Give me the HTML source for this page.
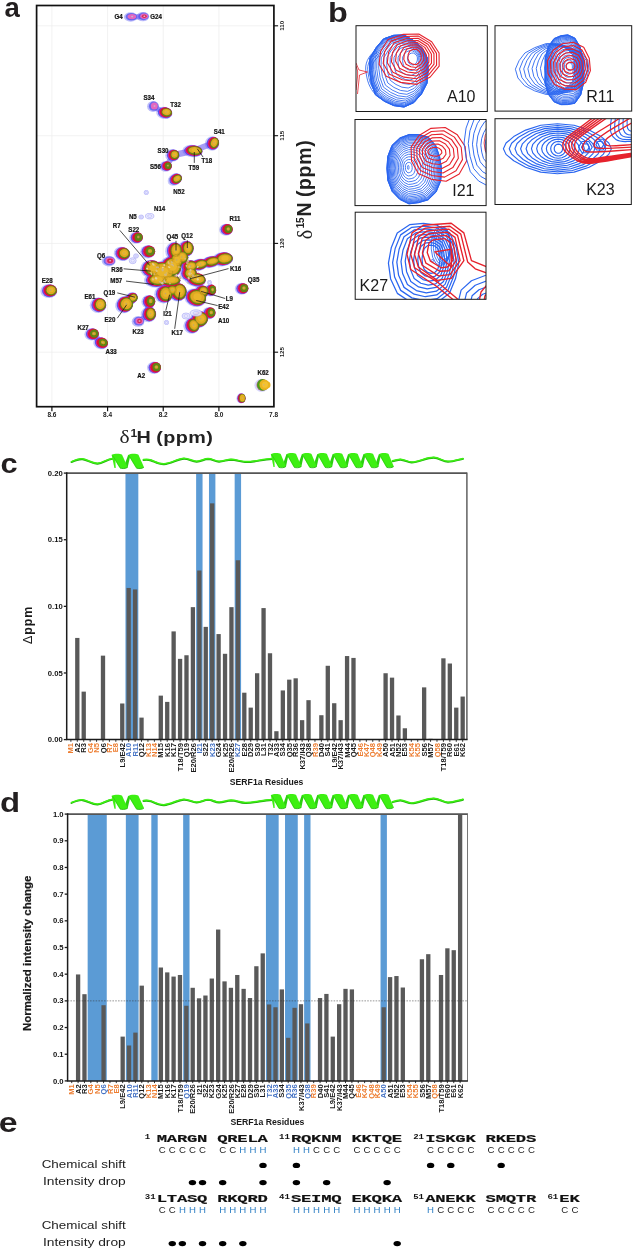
<!DOCTYPE html>
<html><head><meta charset="utf-8"><title>Figure</title>
<style>html,body{margin:0;padding:0;background:#fff}svg{display:block}</style>
</head><body>
<svg width="633" height="1249" viewBox="0 0 633 1249">
<defs><filter id="noLCD" x="0" y="0" width="100%" height="100%" filterUnits="userSpaceOnUse" color-interpolation-filters="sRGB"><feOffset dx="0" dy="0"/></filter></defs>
<g filter="url(#noLCD)">
<rect width="633" height="1249" fill="#ffffff"/>
<path d="M71.5 461.6 C75 460 79 458.5 82.5 458.8 C88 459.5 92 463.5 97.6 463.2 C103 463 107 458.6 112.5 458.4" fill="none" stroke="#1eb00a" stroke-width="1.9" stroke-linecap="round" transform="translate(0,0.5)"/>
<path d="M71.5 461.6 C75 460 79 458.5 82.5 458.8 C88 459.5 92 463.5 97.6 463.2 C103 463 107 458.6 112.5 458.4" fill="none" stroke="#3df012" stroke-width="1.5" stroke-linecap="round" transform="translate(0,0)"/>
<path d="M143.5 459.6 C147 459 149 459.4 151 460 C155 461.5 159 464 164 463.8 C171 463.4 178 458.4 184 458.3 C189 458.3 192 461 196.5 461.2 C201 461.4 204 458.6 208 458.5 C212 458.5 215 461 219 461.2 C223 461.3 227 459.3 231 459.2 C236 459.2 240 461.4 245 461.6 C254 461.9 262 459 272 458.6" fill="none" stroke="#1eb00a" stroke-width="1.9" stroke-linecap="round" transform="translate(0,0.5)"/>
<path d="M143.5 459.6 C147 459 149 459.4 151 460 C155 461.5 159 464 164 463.8 C171 463.4 178 458.4 184 458.3 C189 458.3 192 461 196.5 461.2 C201 461.4 204 458.6 208 458.5 C212 458.5 215 461 219 461.2 C223 461.3 227 459.3 231 459.2 C236 459.2 240 461.4 245 461.6 C254 461.9 262 459 272 458.6" fill="none" stroke="#3df012" stroke-width="1.5" stroke-linecap="round" transform="translate(0,0)"/>
<path d="M392.6 460.8 C395 460 398 459.1 400.5 459.2 C405 459.4 407.5 462 411.6 462 C419 462 426 457.3 433.7 457.3 C439 457.3 443 461.3 448 461.3 C453 461.3 458 459.5 463 458.4" fill="none" stroke="#1eb00a" stroke-width="1.9" stroke-linecap="round" transform="translate(0,0.5)"/>
<path d="M392.6 460.8 C395 460 398 459.1 400.5 459.2 C405 459.4 407.5 462 411.6 462 C419 462 426 457.3 433.7 457.3 C439 457.3 443 461.3 448 461.3 C453 461.3 458 459.5 463 458.4" fill="none" stroke="#3df012" stroke-width="1.5" stroke-linecap="round" transform="translate(0,0)"/>
<path d="M111.6 454.8 L115.07 454.6 L115.72 467.9 L114.42 467.9 Z" fill="#3df012"/>
<path d="M123.57 467.6 L127.65 467.6 L130.43 455 L128.15 455 Z" fill="#2bd010"/>
<path d="M111.8 455 C114.25 453.5 119.97 453.5 122.1 454.8 L127.65 467.2 C125.69 468.7 121.61 468.7 119.48 467.8 Z" fill="#3df012"/>
<path d="M119.97 468.1 C121.93 468.8 125.69 468.8 127.49 467.4" stroke="#1eb00a" stroke-width="0.8" fill="none"/>
<path d="M112.62 455.4 L119.97 467.4" stroke="#1eb00a" stroke-width="0.7" fill="none" opacity="0.55"/>
<path d="M128.15 455 C130.6 453.5 136.32 453.5 138.44 454.8 L144 467.2 C142.04 468.7 137.95 468.7 135.83 467.8 Z" fill="#3df012"/>
<path d="M136.32 468.1 C138.28 468.8 142.04 468.8 143.84 467.4" stroke="#1eb00a" stroke-width="0.8" fill="none"/>
<path d="M128.96 455.4 L136.32 467.4" stroke="#1eb00a" stroke-width="0.7" fill="none" opacity="0.55"/>
<path d="M270.8 454 L274.08 453.8 L274.7 467.1 L273.47 467.1 Z" fill="#3df012"/>
<path d="M282.09 466.8 L285.95 466.8 L288.56 454.2 L286.41 454.2 Z" fill="#2bd010"/>
<path d="M297.5 466.8 L301.35 466.8 L303.97 454.2 L301.82 454.2 Z" fill="#2bd010"/>
<path d="M312.91 466.8 L316.76 466.8 L319.38 454.2 L317.22 454.2 Z" fill="#2bd010"/>
<path d="M328.32 466.8 L332.17 466.8 L334.79 454.2 L332.63 454.2 Z" fill="#2bd010"/>
<path d="M343.72 466.8 L347.58 466.8 L350.2 454.2 L348.04 454.2 Z" fill="#2bd010"/>
<path d="M359.13 466.8 L362.98 466.8 L365.6 454.2 L363.45 454.2 Z" fill="#2bd010"/>
<path d="M374.54 466.8 L378.39 466.8 L381.01 454.2 L378.85 454.2 Z" fill="#2bd010"/>
<path d="M271 454.2 C273.31 452.7 278.7 452.7 280.71 454 L285.95 466.4 C284.1 467.9 280.24 467.9 278.24 467 Z" fill="#3df012"/>
<path d="M278.7 467.3 C280.55 468 284.1 468 285.79 466.6" stroke="#1eb00a" stroke-width="0.8" fill="none"/>
<path d="M271.77 454.6 L278.7 466.6" stroke="#1eb00a" stroke-width="0.7" fill="none" opacity="0.55"/>
<path d="M286.41 454.2 C288.72 452.7 294.11 452.7 296.11 454 L301.35 466.4 C299.5 467.9 295.65 467.9 293.65 467 Z" fill="#3df012"/>
<path d="M294.11 467.3 C295.96 468 299.5 468 301.2 466.6" stroke="#1eb00a" stroke-width="0.8" fill="none"/>
<path d="M287.18 454.6 L294.11 466.6" stroke="#1eb00a" stroke-width="0.7" fill="none" opacity="0.55"/>
<path d="M301.82 454.2 C304.13 452.7 309.52 452.7 311.52 454 L316.76 466.4 C314.91 467.9 311.06 467.9 309.06 467 Z" fill="#3df012"/>
<path d="M309.52 467.3 C311.37 468 314.91 468 316.61 466.6" stroke="#1eb00a" stroke-width="0.8" fill="none"/>
<path d="M302.59 454.6 L309.52 466.6" stroke="#1eb00a" stroke-width="0.7" fill="none" opacity="0.55"/>
<path d="M317.22 454.2 C319.53 452.7 324.93 452.7 326.93 454 L332.17 466.4 C330.32 467.9 326.47 467.9 324.46 467 Z" fill="#3df012"/>
<path d="M324.93 467.3 C326.78 468 330.32 468 332.01 466.6" stroke="#1eb00a" stroke-width="0.8" fill="none"/>
<path d="M317.99 454.6 L324.93 466.6" stroke="#1eb00a" stroke-width="0.7" fill="none" opacity="0.55"/>
<path d="M332.63 454.2 C334.94 452.7 340.34 452.7 342.34 454 L347.58 466.4 C345.73 467.9 341.88 467.9 339.87 467 Z" fill="#3df012"/>
<path d="M340.34 467.3 C342.18 468 345.73 468 347.42 466.6" stroke="#1eb00a" stroke-width="0.8" fill="none"/>
<path d="M333.4 454.6 L340.34 466.6" stroke="#1eb00a" stroke-width="0.7" fill="none" opacity="0.55"/>
<path d="M348.04 454.2 C350.35 452.7 355.74 452.7 357.75 454 L362.98 466.4 C361.14 467.9 357.28 467.9 355.28 467 Z" fill="#3df012"/>
<path d="M355.74 467.3 C357.59 468 361.14 468 362.83 466.6" stroke="#1eb00a" stroke-width="0.8" fill="none"/>
<path d="M348.81 454.6 L355.74 466.6" stroke="#1eb00a" stroke-width="0.7" fill="none" opacity="0.55"/>
<path d="M363.45 454.2 C365.76 452.7 371.15 452.7 373.15 454 L378.39 466.4 C376.54 467.9 372.69 467.9 370.69 467 Z" fill="#3df012"/>
<path d="M371.15 467.3 C373 468 376.54 468 378.24 466.6" stroke="#1eb00a" stroke-width="0.8" fill="none"/>
<path d="M364.22 454.6 L371.15 466.6" stroke="#1eb00a" stroke-width="0.7" fill="none" opacity="0.55"/>
<path d="M378.85 454.2 C381.17 452.7 386.56 452.7 388.56 454 L393.8 466.4 C391.95 467.9 388.1 467.9 386.1 467 Z" fill="#3df012"/>
<path d="M386.56 467.3 C388.41 468 391.95 468 393.65 466.6" stroke="#1eb00a" stroke-width="0.8" fill="none"/>
<path d="M379.62 454.6 L386.56 466.6" stroke="#1eb00a" stroke-width="0.7" fill="none" opacity="0.55"/>
<rect x="125.47" y="473.1" width="12.85" height="266.5" fill="#5B9BD5"/>
<rect x="196.13" y="473.1" width="6.42" height="266.5" fill="#5B9BD5"/>
<rect x="208.97" y="473.1" width="6.42" height="266.5" fill="#5B9BD5"/>
<rect x="234.66" y="473.1" width="6.42" height="266.5" fill="#5B9BD5"/>
<rect x="75.15" y="637.93" width="4.3" height="101.67" fill="#595959"/>
<rect x="81.57" y="691.63" width="4.3" height="47.97" fill="#595959"/>
<rect x="100.84" y="655.65" width="4.3" height="83.95" fill="#595959"/>
<rect x="120.11" y="703.49" width="4.3" height="36.11" fill="#595959"/>
<rect x="126.53" y="587.96" width="4.3" height="151.64" fill="#595959"/>
<rect x="132.96" y="589.43" width="4.3" height="150.17" fill="#595959"/>
<rect x="139.38" y="717.61" width="4.3" height="21.99" fill="#595959"/>
<rect x="158.65" y="695.63" width="4.3" height="43.97" fill="#595959"/>
<rect x="165.07" y="701.89" width="4.3" height="37.71" fill="#595959"/>
<rect x="171.49" y="631.4" width="4.3" height="108.2" fill="#595959"/>
<rect x="177.92" y="658.85" width="4.3" height="80.75" fill="#595959"/>
<rect x="184.34" y="655.25" width="4.3" height="84.35" fill="#595959"/>
<rect x="190.76" y="607.15" width="4.3" height="132.45" fill="#595959"/>
<rect x="197.19" y="570.51" width="4.3" height="169.09" fill="#595959"/>
<rect x="203.61" y="626.87" width="4.3" height="112.73" fill="#595959"/>
<rect x="210.03" y="503.35" width="4.3" height="236.25" fill="#595959"/>
<rect x="216.46" y="634.07" width="4.3" height="105.53" fill="#595959"/>
<rect x="222.88" y="653.79" width="4.3" height="85.81" fill="#595959"/>
<rect x="229.3" y="607.15" width="4.3" height="132.45" fill="#595959"/>
<rect x="235.72" y="560.25" width="4.3" height="179.35" fill="#595959"/>
<rect x="242.15" y="692.7" width="4.3" height="46.9" fill="#595959"/>
<rect x="248.57" y="707.62" width="4.3" height="31.98" fill="#595959"/>
<rect x="254.99" y="673.24" width="4.3" height="66.36" fill="#595959"/>
<rect x="261.42" y="608.08" width="4.3" height="131.52" fill="#595959"/>
<rect x="267.84" y="653.25" width="4.3" height="86.35" fill="#595959"/>
<rect x="274.26" y="731.21" width="4.3" height="8.39" fill="#595959"/>
<rect x="280.69" y="690.43" width="4.3" height="49.17" fill="#595959"/>
<rect x="287.11" y="679.64" width="4.3" height="59.96" fill="#595959"/>
<rect x="293.53" y="678.31" width="4.3" height="61.29" fill="#595959"/>
<rect x="299.96" y="720.15" width="4.3" height="19.45" fill="#595959"/>
<rect x="306.38" y="700.16" width="4.3" height="39.44" fill="#595959"/>
<rect x="319.22" y="715.22" width="4.3" height="24.38" fill="#595959"/>
<rect x="325.65" y="665.78" width="4.3" height="73.82" fill="#595959"/>
<rect x="332.07" y="703.22" width="4.3" height="36.38" fill="#595959"/>
<rect x="338.49" y="720.15" width="4.3" height="19.45" fill="#595959"/>
<rect x="344.92" y="656.05" width="4.3" height="83.55" fill="#595959"/>
<rect x="351.34" y="657.92" width="4.3" height="81.68" fill="#595959"/>
<rect x="383.45" y="673.24" width="4.3" height="66.36" fill="#595959"/>
<rect x="389.88" y="677.64" width="4.3" height="61.96" fill="#595959"/>
<rect x="396.3" y="715.48" width="4.3" height="24.12" fill="#595959"/>
<rect x="402.72" y="728.27" width="4.3" height="11.33" fill="#595959"/>
<rect x="421.99" y="687.37" width="4.3" height="52.23" fill="#595959"/>
<rect x="428.42" y="738.8" width="4.3" height="0.8" fill="#595959"/>
<rect x="441.26" y="658.32" width="4.3" height="81.28" fill="#595959"/>
<rect x="447.68" y="663.51" width="4.3" height="76.09" fill="#595959"/>
<rect x="454.11" y="707.62" width="4.3" height="31.98" fill="#595959"/>
<rect x="460.53" y="696.56" width="4.3" height="43.04" fill="#595959"/>
<line x1="66.7" y1="473.1" x2="466.9" y2="473.1" stroke="#555" stroke-width="1.6"/>
<line x1="66.7" y1="472.3" x2="66.7" y2="739.6" stroke="#1c1c1c" stroke-width="1.5"/>
<line x1="466.9" y1="472.4" x2="466.9" y2="739.6" stroke="#555" stroke-width="1.4"/>
<line x1="65.95" y1="739.6" x2="467.6" y2="739.6" stroke="#1c1c1c" stroke-width="1.5"/>
<line x1="70.88" y1="739.6" x2="70.88" y2="741.8" stroke="#1c1c1c" stroke-width="0.9"/>
<line x1="77.3" y1="739.6" x2="77.3" y2="741.8" stroke="#1c1c1c" stroke-width="0.9"/>
<line x1="83.72" y1="739.6" x2="83.72" y2="741.8" stroke="#1c1c1c" stroke-width="0.9"/>
<line x1="90.15" y1="739.6" x2="90.15" y2="741.8" stroke="#1c1c1c" stroke-width="0.9"/>
<line x1="96.57" y1="739.6" x2="96.57" y2="741.8" stroke="#1c1c1c" stroke-width="0.9"/>
<line x1="102.99" y1="739.6" x2="102.99" y2="741.8" stroke="#1c1c1c" stroke-width="0.9"/>
<line x1="109.41" y1="739.6" x2="109.41" y2="741.8" stroke="#1c1c1c" stroke-width="0.9"/>
<line x1="115.84" y1="739.6" x2="115.84" y2="741.8" stroke="#1c1c1c" stroke-width="0.9"/>
<line x1="122.26" y1="739.6" x2="122.26" y2="741.8" stroke="#1c1c1c" stroke-width="0.9"/>
<line x1="128.68" y1="739.6" x2="128.68" y2="741.8" stroke="#1c1c1c" stroke-width="0.9"/>
<line x1="135.11" y1="739.6" x2="135.11" y2="741.8" stroke="#1c1c1c" stroke-width="0.9"/>
<line x1="141.53" y1="739.6" x2="141.53" y2="741.8" stroke="#1c1c1c" stroke-width="0.9"/>
<line x1="147.95" y1="739.6" x2="147.95" y2="741.8" stroke="#1c1c1c" stroke-width="0.9"/>
<line x1="154.38" y1="739.6" x2="154.38" y2="741.8" stroke="#1c1c1c" stroke-width="0.9"/>
<line x1="160.8" y1="739.6" x2="160.8" y2="741.8" stroke="#1c1c1c" stroke-width="0.9"/>
<line x1="167.22" y1="739.6" x2="167.22" y2="741.8" stroke="#1c1c1c" stroke-width="0.9"/>
<line x1="173.64" y1="739.6" x2="173.64" y2="741.8" stroke="#1c1c1c" stroke-width="0.9"/>
<line x1="180.07" y1="739.6" x2="180.07" y2="741.8" stroke="#1c1c1c" stroke-width="0.9"/>
<line x1="186.49" y1="739.6" x2="186.49" y2="741.8" stroke="#1c1c1c" stroke-width="0.9"/>
<line x1="192.91" y1="739.6" x2="192.91" y2="741.8" stroke="#1c1c1c" stroke-width="0.9"/>
<line x1="199.34" y1="739.6" x2="199.34" y2="741.8" stroke="#1c1c1c" stroke-width="0.9"/>
<line x1="205.76" y1="739.6" x2="205.76" y2="741.8" stroke="#1c1c1c" stroke-width="0.9"/>
<line x1="212.18" y1="739.6" x2="212.18" y2="741.8" stroke="#1c1c1c" stroke-width="0.9"/>
<line x1="218.61" y1="739.6" x2="218.61" y2="741.8" stroke="#1c1c1c" stroke-width="0.9"/>
<line x1="225.03" y1="739.6" x2="225.03" y2="741.8" stroke="#1c1c1c" stroke-width="0.9"/>
<line x1="231.45" y1="739.6" x2="231.45" y2="741.8" stroke="#1c1c1c" stroke-width="0.9"/>
<line x1="237.88" y1="739.6" x2="237.88" y2="741.8" stroke="#1c1c1c" stroke-width="0.9"/>
<line x1="244.3" y1="739.6" x2="244.3" y2="741.8" stroke="#1c1c1c" stroke-width="0.9"/>
<line x1="250.72" y1="739.6" x2="250.72" y2="741.8" stroke="#1c1c1c" stroke-width="0.9"/>
<line x1="257.14" y1="739.6" x2="257.14" y2="741.8" stroke="#1c1c1c" stroke-width="0.9"/>
<line x1="263.57" y1="739.6" x2="263.57" y2="741.8" stroke="#1c1c1c" stroke-width="0.9"/>
<line x1="269.99" y1="739.6" x2="269.99" y2="741.8" stroke="#1c1c1c" stroke-width="0.9"/>
<line x1="276.41" y1="739.6" x2="276.41" y2="741.8" stroke="#1c1c1c" stroke-width="0.9"/>
<line x1="282.84" y1="739.6" x2="282.84" y2="741.8" stroke="#1c1c1c" stroke-width="0.9"/>
<line x1="289.26" y1="739.6" x2="289.26" y2="741.8" stroke="#1c1c1c" stroke-width="0.9"/>
<line x1="295.68" y1="739.6" x2="295.68" y2="741.8" stroke="#1c1c1c" stroke-width="0.9"/>
<line x1="302.11" y1="739.6" x2="302.11" y2="741.8" stroke="#1c1c1c" stroke-width="0.9"/>
<line x1="308.53" y1="739.6" x2="308.53" y2="741.8" stroke="#1c1c1c" stroke-width="0.9"/>
<line x1="314.95" y1="739.6" x2="314.95" y2="741.8" stroke="#1c1c1c" stroke-width="0.9"/>
<line x1="321.37" y1="739.6" x2="321.37" y2="741.8" stroke="#1c1c1c" stroke-width="0.9"/>
<line x1="327.8" y1="739.6" x2="327.8" y2="741.8" stroke="#1c1c1c" stroke-width="0.9"/>
<line x1="334.22" y1="739.6" x2="334.22" y2="741.8" stroke="#1c1c1c" stroke-width="0.9"/>
<line x1="340.64" y1="739.6" x2="340.64" y2="741.8" stroke="#1c1c1c" stroke-width="0.9"/>
<line x1="347.07" y1="739.6" x2="347.07" y2="741.8" stroke="#1c1c1c" stroke-width="0.9"/>
<line x1="353.49" y1="739.6" x2="353.49" y2="741.8" stroke="#1c1c1c" stroke-width="0.9"/>
<line x1="359.91" y1="739.6" x2="359.91" y2="741.8" stroke="#1c1c1c" stroke-width="0.9"/>
<line x1="366.34" y1="739.6" x2="366.34" y2="741.8" stroke="#1c1c1c" stroke-width="0.9"/>
<line x1="372.76" y1="739.6" x2="372.76" y2="741.8" stroke="#1c1c1c" stroke-width="0.9"/>
<line x1="379.18" y1="739.6" x2="379.18" y2="741.8" stroke="#1c1c1c" stroke-width="0.9"/>
<line x1="385.6" y1="739.6" x2="385.6" y2="741.8" stroke="#1c1c1c" stroke-width="0.9"/>
<line x1="392.03" y1="739.6" x2="392.03" y2="741.8" stroke="#1c1c1c" stroke-width="0.9"/>
<line x1="398.45" y1="739.6" x2="398.45" y2="741.8" stroke="#1c1c1c" stroke-width="0.9"/>
<line x1="404.87" y1="739.6" x2="404.87" y2="741.8" stroke="#1c1c1c" stroke-width="0.9"/>
<line x1="411.3" y1="739.6" x2="411.3" y2="741.8" stroke="#1c1c1c" stroke-width="0.9"/>
<line x1="417.72" y1="739.6" x2="417.72" y2="741.8" stroke="#1c1c1c" stroke-width="0.9"/>
<line x1="424.14" y1="739.6" x2="424.14" y2="741.8" stroke="#1c1c1c" stroke-width="0.9"/>
<line x1="430.56" y1="739.6" x2="430.56" y2="741.8" stroke="#1c1c1c" stroke-width="0.9"/>
<line x1="436.99" y1="739.6" x2="436.99" y2="741.8" stroke="#1c1c1c" stroke-width="0.9"/>
<line x1="443.41" y1="739.6" x2="443.41" y2="741.8" stroke="#1c1c1c" stroke-width="0.9"/>
<line x1="449.83" y1="739.6" x2="449.83" y2="741.8" stroke="#1c1c1c" stroke-width="0.9"/>
<line x1="456.26" y1="739.6" x2="456.26" y2="741.8" stroke="#1c1c1c" stroke-width="0.9"/>
<line x1="462.68" y1="739.6" x2="462.68" y2="741.8" stroke="#1c1c1c" stroke-width="0.9"/>
<line x1="63.8" y1="739.6" x2="66.7" y2="739.6" stroke="#1c1c1c" stroke-width="1.3"/>
<text x="62.7" y="742.2" text-anchor="end" font-family="Liberation Sans, sans-serif" font-weight="bold" font-size="7.7" fill="#111">0.00</text>
<line x1="63.8" y1="672.98" x2="66.7" y2="672.98" stroke="#1c1c1c" stroke-width="1.3"/>
<text x="62.7" y="675.58" text-anchor="end" font-family="Liberation Sans, sans-serif" font-weight="bold" font-size="7.7" fill="#111">0.05</text>
<line x1="63.8" y1="606.35" x2="66.7" y2="606.35" stroke="#1c1c1c" stroke-width="1.3"/>
<text x="62.7" y="608.95" text-anchor="end" font-family="Liberation Sans, sans-serif" font-weight="bold" font-size="7.7" fill="#111">0.10</text>
<line x1="63.8" y1="539.73" x2="66.7" y2="539.73" stroke="#1c1c1c" stroke-width="1.3"/>
<text x="62.7" y="542.33" text-anchor="end" font-family="Liberation Sans, sans-serif" font-weight="bold" font-size="7.7" fill="#111">0.15</text>
<line x1="63.8" y1="473.1" x2="66.7" y2="473.1" stroke="#1c1c1c" stroke-width="1.3"/>
<text x="62.7" y="475.7" text-anchor="end" font-family="Liberation Sans, sans-serif" font-weight="bold" font-size="7.7" fill="#111">0.20</text>
<text transform="translate(73.48,743) rotate(-90)" text-anchor="end" font-family="Liberation Sans, sans-serif" font-weight="bold" font-size="7.6" fill="#ED7D31">M1</text>
<text transform="translate(79.9,743) rotate(-90)" text-anchor="end" font-family="Liberation Sans, sans-serif" font-weight="bold" font-size="7.6" fill="#1a1a1a">A2</text>
<text transform="translate(86.32,743) rotate(-90)" text-anchor="end" font-family="Liberation Sans, sans-serif" font-weight="bold" font-size="7.6" fill="#1a1a1a">R3</text>
<text transform="translate(92.75,743) rotate(-90)" text-anchor="end" font-family="Liberation Sans, sans-serif" font-weight="bold" font-size="7.6" fill="#ED7D31">G4</text>
<text transform="translate(99.17,743) rotate(-90)" text-anchor="end" font-family="Liberation Sans, sans-serif" font-weight="bold" font-size="7.6" fill="#ED7D31">N5</text>
<text transform="translate(105.59,743) rotate(-90)" text-anchor="end" font-family="Liberation Sans, sans-serif" font-weight="bold" font-size="7.6" fill="#1a1a1a">Q6</text>
<text transform="translate(112.01,743) rotate(-90)" text-anchor="end" font-family="Liberation Sans, sans-serif" font-weight="bold" font-size="7.6" fill="#ED7D31">R7</text>
<text transform="translate(118.44,743) rotate(-90)" text-anchor="end" font-family="Liberation Sans, sans-serif" font-weight="bold" font-size="7.6" fill="#ED7D31">E8</text>
<text transform="translate(124.86,743) rotate(-90)" text-anchor="end" font-family="Liberation Sans, sans-serif" font-weight="bold" font-size="7.6" fill="#1a1a1a">L9/E42</text>
<text transform="translate(131.28,743) rotate(-90)" text-anchor="end" font-family="Liberation Sans, sans-serif" font-weight="bold" font-size="7.6" fill="#4472C4">A10</text>
<text transform="translate(137.71,743) rotate(-90)" text-anchor="end" font-family="Liberation Sans, sans-serif" font-weight="bold" font-size="7.6" fill="#4472C4">R11</text>
<text transform="translate(144.13,743) rotate(-90)" text-anchor="end" font-family="Liberation Sans, sans-serif" font-weight="bold" font-size="7.6" fill="#1a1a1a">Q12</text>
<text transform="translate(150.55,743) rotate(-90)" text-anchor="end" font-family="Liberation Sans, sans-serif" font-weight="bold" font-size="7.6" fill="#ED7D31">K13</text>
<text transform="translate(156.98,743) rotate(-90)" text-anchor="end" font-family="Liberation Sans, sans-serif" font-weight="bold" font-size="7.6" fill="#ED7D31">N14</text>
<text transform="translate(163.4,743) rotate(-90)" text-anchor="end" font-family="Liberation Sans, sans-serif" font-weight="bold" font-size="7.6" fill="#1a1a1a">M15</text>
<text transform="translate(169.82,743) rotate(-90)" text-anchor="end" font-family="Liberation Sans, sans-serif" font-weight="bold" font-size="7.6" fill="#1a1a1a">K16</text>
<text transform="translate(176.24,743) rotate(-90)" text-anchor="end" font-family="Liberation Sans, sans-serif" font-weight="bold" font-size="7.6" fill="#1a1a1a">K17</text>
<text transform="translate(182.67,743) rotate(-90)" text-anchor="end" font-family="Liberation Sans, sans-serif" font-weight="bold" font-size="7.6" fill="#1a1a1a">T18/T59</text>
<text transform="translate(189.09,743) rotate(-90)" text-anchor="end" font-family="Liberation Sans, sans-serif" font-weight="bold" font-size="7.6" fill="#1a1a1a">Q19</text>
<text transform="translate(195.51,743) rotate(-90)" text-anchor="end" font-family="Liberation Sans, sans-serif" font-weight="bold" font-size="7.6" fill="#1a1a1a">E20/R26</text>
<text transform="translate(201.94,743) rotate(-90)" text-anchor="end" font-family="Liberation Sans, sans-serif" font-weight="bold" font-size="7.6" fill="#4472C4">I21</text>
<text transform="translate(208.36,743) rotate(-90)" text-anchor="end" font-family="Liberation Sans, sans-serif" font-weight="bold" font-size="7.6" fill="#1a1a1a">S22</text>
<text transform="translate(214.78,743) rotate(-90)" text-anchor="end" font-family="Liberation Sans, sans-serif" font-weight="bold" font-size="7.6" fill="#4472C4">K23</text>
<text transform="translate(221.21,743) rotate(-90)" text-anchor="end" font-family="Liberation Sans, sans-serif" font-weight="bold" font-size="7.6" fill="#1a1a1a">G24</text>
<text transform="translate(227.63,743) rotate(-90)" text-anchor="end" font-family="Liberation Sans, sans-serif" font-weight="bold" font-size="7.6" fill="#1a1a1a">K25</text>
<text transform="translate(234.05,743) rotate(-90)" text-anchor="end" font-family="Liberation Sans, sans-serif" font-weight="bold" font-size="7.6" fill="#1a1a1a">E20/R26</text>
<text transform="translate(240.47,743) rotate(-90)" text-anchor="end" font-family="Liberation Sans, sans-serif" font-weight="bold" font-size="7.6" fill="#4472C4">K27</text>
<text transform="translate(246.9,743) rotate(-90)" text-anchor="end" font-family="Liberation Sans, sans-serif" font-weight="bold" font-size="7.6" fill="#1a1a1a">E28</text>
<text transform="translate(253.32,743) rotate(-90)" text-anchor="end" font-family="Liberation Sans, sans-serif" font-weight="bold" font-size="7.6" fill="#1a1a1a">D29</text>
<text transform="translate(259.74,743) rotate(-90)" text-anchor="end" font-family="Liberation Sans, sans-serif" font-weight="bold" font-size="7.6" fill="#1a1a1a">S30</text>
<text transform="translate(266.17,743) rotate(-90)" text-anchor="end" font-family="Liberation Sans, sans-serif" font-weight="bold" font-size="7.6" fill="#1a1a1a">L31</text>
<text transform="translate(272.59,743) rotate(-90)" text-anchor="end" font-family="Liberation Sans, sans-serif" font-weight="bold" font-size="7.6" fill="#1a1a1a">T32</text>
<text transform="translate(279.01,743) rotate(-90)" text-anchor="end" font-family="Liberation Sans, sans-serif" font-weight="bold" font-size="7.6" fill="#1a1a1a">A33</text>
<text transform="translate(285.44,743) rotate(-90)" text-anchor="end" font-family="Liberation Sans, sans-serif" font-weight="bold" font-size="7.6" fill="#1a1a1a">S34</text>
<text transform="translate(291.86,743) rotate(-90)" text-anchor="end" font-family="Liberation Sans, sans-serif" font-weight="bold" font-size="7.6" fill="#1a1a1a">Q35</text>
<text transform="translate(298.28,743) rotate(-90)" text-anchor="end" font-family="Liberation Sans, sans-serif" font-weight="bold" font-size="7.6" fill="#1a1a1a">R36</text>
<text transform="translate(304.71,743) rotate(-90)" text-anchor="end" font-family="Liberation Sans, sans-serif" font-weight="bold" font-size="7.6" fill="#1a1a1a">K37/I43</text>
<text transform="translate(311.13,743) rotate(-90)" text-anchor="end" font-family="Liberation Sans, sans-serif" font-weight="bold" font-size="7.6" fill="#1a1a1a">Q38</text>
<text transform="translate(317.55,743) rotate(-90)" text-anchor="end" font-family="Liberation Sans, sans-serif" font-weight="bold" font-size="7.6" fill="#ED7D31">R39</text>
<text transform="translate(323.97,743) rotate(-90)" text-anchor="end" font-family="Liberation Sans, sans-serif" font-weight="bold" font-size="7.6" fill="#1a1a1a">D40</text>
<text transform="translate(330.4,743) rotate(-90)" text-anchor="end" font-family="Liberation Sans, sans-serif" font-weight="bold" font-size="7.6" fill="#1a1a1a">S41</text>
<text transform="translate(336.82,743) rotate(-90)" text-anchor="end" font-family="Liberation Sans, sans-serif" font-weight="bold" font-size="7.6" fill="#1a1a1a">L9/E42</text>
<text transform="translate(343.24,743) rotate(-90)" text-anchor="end" font-family="Liberation Sans, sans-serif" font-weight="bold" font-size="7.6" fill="#1a1a1a">K37/I43</text>
<text transform="translate(349.67,743) rotate(-90)" text-anchor="end" font-family="Liberation Sans, sans-serif" font-weight="bold" font-size="7.6" fill="#1a1a1a">M44</text>
<text transform="translate(356.09,743) rotate(-90)" text-anchor="end" font-family="Liberation Sans, sans-serif" font-weight="bold" font-size="7.6" fill="#1a1a1a">Q45</text>
<text transform="translate(362.51,743) rotate(-90)" text-anchor="end" font-family="Liberation Sans, sans-serif" font-weight="bold" font-size="7.6" fill="#ED7D31">E46</text>
<text transform="translate(368.94,743) rotate(-90)" text-anchor="end" font-family="Liberation Sans, sans-serif" font-weight="bold" font-size="7.6" fill="#ED7D31">K47</text>
<text transform="translate(375.36,743) rotate(-90)" text-anchor="end" font-family="Liberation Sans, sans-serif" font-weight="bold" font-size="7.6" fill="#ED7D31">Q48</text>
<text transform="translate(381.78,743) rotate(-90)" text-anchor="end" font-family="Liberation Sans, sans-serif" font-weight="bold" font-size="7.6" fill="#ED7D31">K49</text>
<text transform="translate(388.2,743) rotate(-90)" text-anchor="end" font-family="Liberation Sans, sans-serif" font-weight="bold" font-size="7.6" fill="#1a1a1a">A50</text>
<text transform="translate(394.63,743) rotate(-90)" text-anchor="end" font-family="Liberation Sans, sans-serif" font-weight="bold" font-size="7.6" fill="#1a1a1a">A51</text>
<text transform="translate(401.05,743) rotate(-90)" text-anchor="end" font-family="Liberation Sans, sans-serif" font-weight="bold" font-size="7.6" fill="#1a1a1a">N52</text>
<text transform="translate(407.47,743) rotate(-90)" text-anchor="end" font-family="Liberation Sans, sans-serif" font-weight="bold" font-size="7.6" fill="#1a1a1a">E53</text>
<text transform="translate(413.9,743) rotate(-90)" text-anchor="end" font-family="Liberation Sans, sans-serif" font-weight="bold" font-size="7.6" fill="#ED7D31">K54</text>
<text transform="translate(420.32,743) rotate(-90)" text-anchor="end" font-family="Liberation Sans, sans-serif" font-weight="bold" font-size="7.6" fill="#ED7D31">K55</text>
<text transform="translate(426.74,743) rotate(-90)" text-anchor="end" font-family="Liberation Sans, sans-serif" font-weight="bold" font-size="7.6" fill="#1a1a1a">S56</text>
<text transform="translate(433.17,743) rotate(-90)" text-anchor="end" font-family="Liberation Sans, sans-serif" font-weight="bold" font-size="7.6" fill="#1a1a1a">M57</text>
<text transform="translate(439.59,743) rotate(-90)" text-anchor="end" font-family="Liberation Sans, sans-serif" font-weight="bold" font-size="7.6" fill="#ED7D31">Q58</text>
<text transform="translate(446.01,743) rotate(-90)" text-anchor="end" font-family="Liberation Sans, sans-serif" font-weight="bold" font-size="7.6" fill="#1a1a1a">T18/T59</text>
<text transform="translate(452.43,743) rotate(-90)" text-anchor="end" font-family="Liberation Sans, sans-serif" font-weight="bold" font-size="7.6" fill="#1a1a1a">R60</text>
<text transform="translate(458.86,743) rotate(-90)" text-anchor="end" font-family="Liberation Sans, sans-serif" font-weight="bold" font-size="7.6" fill="#1a1a1a">E61</text>
<text transform="translate(465.28,743) rotate(-90)" text-anchor="end" font-family="Liberation Sans, sans-serif" font-weight="bold" font-size="7.6" fill="#1a1a1a">K62</text>
<text transform="translate(32.1,643.9) rotate(-90)" font-family="Liberation Sans, sans-serif" font-size="12.5" fill="#1a1a1a" letter-spacing="0.8"><tspan font-weight="normal">Δ</tspan><tspan font-weight="bold">ppm</tspan></text>
<text x="229.8" y="784.7" font-family="Liberation Sans, sans-serif" font-weight="bold" font-size="8.4" fill="#1a1a1a" textLength="73.6" lengthAdjust="spacingAndGlyphs">SERF1a Residues</text>
<path d="M71.5 461.6 C75 460 79 458.5 82.5 458.8 C88 459.5 92 463.5 97.6 463.2 C103 463 107 458.6 112.5 458.4" fill="none" stroke="#1eb00a" stroke-width="1.9" stroke-linecap="round" transform="translate(0,341.4)"/>
<path d="M71.5 461.6 C75 460 79 458.5 82.5 458.8 C88 459.5 92 463.5 97.6 463.2 C103 463 107 458.6 112.5 458.4" fill="none" stroke="#3df012" stroke-width="1.5" stroke-linecap="round" transform="translate(0,340.9)"/>
<path d="M143.5 459.6 C147 459 149 459.4 151 460 C155 461.5 159 464 164 463.8 C171 463.4 178 458.4 184 458.3 C189 458.3 192 461 196.5 461.2 C201 461.4 204 458.6 208 458.5 C212 458.5 215 461 219 461.2 C223 461.3 227 459.3 231 459.2 C236 459.2 240 461.4 245 461.6 C254 461.9 262 459 272 458.6" fill="none" stroke="#1eb00a" stroke-width="1.9" stroke-linecap="round" transform="translate(0,341.4)"/>
<path d="M143.5 459.6 C147 459 149 459.4 151 460 C155 461.5 159 464 164 463.8 C171 463.4 178 458.4 184 458.3 C189 458.3 192 461 196.5 461.2 C201 461.4 204 458.6 208 458.5 C212 458.5 215 461 219 461.2 C223 461.3 227 459.3 231 459.2 C236 459.2 240 461.4 245 461.6 C254 461.9 262 459 272 458.6" fill="none" stroke="#3df012" stroke-width="1.5" stroke-linecap="round" transform="translate(0,340.9)"/>
<path d="M392.6 460.8 C395 460 398 459.1 400.5 459.2 C405 459.4 407.5 462 411.6 462 C419 462 426 457.3 433.7 457.3 C439 457.3 443 461.3 448 461.3 C453 461.3 458 459.5 463 458.4" fill="none" stroke="#1eb00a" stroke-width="1.9" stroke-linecap="round" transform="translate(0,341.4)"/>
<path d="M392.6 460.8 C395 460 398 459.1 400.5 459.2 C405 459.4 407.5 462 411.6 462 C419 462 426 457.3 433.7 457.3 C439 457.3 443 461.3 448 461.3 C453 461.3 458 459.5 463 458.4" fill="none" stroke="#3df012" stroke-width="1.5" stroke-linecap="round" transform="translate(0,340.9)"/>
<path d="M111.6 795.7 L115.07 795.5 L115.72 808.8 L114.42 808.8 Z" fill="#3df012"/>
<path d="M123.57 808.5 L127.65 808.5 L130.43 795.9 L128.15 795.9 Z" fill="#2bd010"/>
<path d="M111.8 795.9 C114.25 794.4 119.97 794.4 122.1 795.7 L127.65 808.1 C125.69 809.6 121.61 809.6 119.48 808.7 Z" fill="#3df012"/>
<path d="M119.97 809 C121.93 809.7 125.69 809.7 127.49 808.3" stroke="#1eb00a" stroke-width="0.8" fill="none"/>
<path d="M112.62 796.3 L119.97 808.3" stroke="#1eb00a" stroke-width="0.7" fill="none" opacity="0.55"/>
<path d="M128.15 795.9 C130.6 794.4 136.32 794.4 138.44 795.7 L144 808.1 C142.04 809.6 137.95 809.6 135.83 808.7 Z" fill="#3df012"/>
<path d="M136.32 809 C138.28 809.7 142.04 809.7 143.84 808.3" stroke="#1eb00a" stroke-width="0.8" fill="none"/>
<path d="M128.96 796.3 L136.32 808.3" stroke="#1eb00a" stroke-width="0.7" fill="none" opacity="0.55"/>
<path d="M270.8 794.9 L274.08 794.7 L274.7 808 L273.47 808 Z" fill="#3df012"/>
<path d="M282.09 807.7 L285.95 807.7 L288.56 795.1 L286.41 795.1 Z" fill="#2bd010"/>
<path d="M297.5 807.7 L301.35 807.7 L303.97 795.1 L301.82 795.1 Z" fill="#2bd010"/>
<path d="M312.91 807.7 L316.76 807.7 L319.38 795.1 L317.22 795.1 Z" fill="#2bd010"/>
<path d="M328.32 807.7 L332.17 807.7 L334.79 795.1 L332.63 795.1 Z" fill="#2bd010"/>
<path d="M343.72 807.7 L347.58 807.7 L350.2 795.1 L348.04 795.1 Z" fill="#2bd010"/>
<path d="M359.13 807.7 L362.98 807.7 L365.6 795.1 L363.45 795.1 Z" fill="#2bd010"/>
<path d="M374.54 807.7 L378.39 807.7 L381.01 795.1 L378.85 795.1 Z" fill="#2bd010"/>
<path d="M271 795.1 C273.31 793.6 278.7 793.6 280.71 794.9 L285.95 807.3 C284.1 808.8 280.24 808.8 278.24 807.9 Z" fill="#3df012"/>
<path d="M278.7 808.2 C280.55 808.9 284.1 808.9 285.79 807.5" stroke="#1eb00a" stroke-width="0.8" fill="none"/>
<path d="M271.77 795.5 L278.7 807.5" stroke="#1eb00a" stroke-width="0.7" fill="none" opacity="0.55"/>
<path d="M286.41 795.1 C288.72 793.6 294.11 793.6 296.11 794.9 L301.35 807.3 C299.5 808.8 295.65 808.8 293.65 807.9 Z" fill="#3df012"/>
<path d="M294.11 808.2 C295.96 808.9 299.5 808.9 301.2 807.5" stroke="#1eb00a" stroke-width="0.8" fill="none"/>
<path d="M287.18 795.5 L294.11 807.5" stroke="#1eb00a" stroke-width="0.7" fill="none" opacity="0.55"/>
<path d="M301.82 795.1 C304.13 793.6 309.52 793.6 311.52 794.9 L316.76 807.3 C314.91 808.8 311.06 808.8 309.06 807.9 Z" fill="#3df012"/>
<path d="M309.52 808.2 C311.37 808.9 314.91 808.9 316.61 807.5" stroke="#1eb00a" stroke-width="0.8" fill="none"/>
<path d="M302.59 795.5 L309.52 807.5" stroke="#1eb00a" stroke-width="0.7" fill="none" opacity="0.55"/>
<path d="M317.22 795.1 C319.53 793.6 324.93 793.6 326.93 794.9 L332.17 807.3 C330.32 808.8 326.47 808.8 324.46 807.9 Z" fill="#3df012"/>
<path d="M324.93 808.2 C326.78 808.9 330.32 808.9 332.01 807.5" stroke="#1eb00a" stroke-width="0.8" fill="none"/>
<path d="M317.99 795.5 L324.93 807.5" stroke="#1eb00a" stroke-width="0.7" fill="none" opacity="0.55"/>
<path d="M332.63 795.1 C334.94 793.6 340.34 793.6 342.34 794.9 L347.58 807.3 C345.73 808.8 341.88 808.8 339.87 807.9 Z" fill="#3df012"/>
<path d="M340.34 808.2 C342.18 808.9 345.73 808.9 347.42 807.5" stroke="#1eb00a" stroke-width="0.8" fill="none"/>
<path d="M333.4 795.5 L340.34 807.5" stroke="#1eb00a" stroke-width="0.7" fill="none" opacity="0.55"/>
<path d="M348.04 795.1 C350.35 793.6 355.74 793.6 357.75 794.9 L362.98 807.3 C361.14 808.8 357.28 808.8 355.28 807.9 Z" fill="#3df012"/>
<path d="M355.74 808.2 C357.59 808.9 361.14 808.9 362.83 807.5" stroke="#1eb00a" stroke-width="0.8" fill="none"/>
<path d="M348.81 795.5 L355.74 807.5" stroke="#1eb00a" stroke-width="0.7" fill="none" opacity="0.55"/>
<path d="M363.45 795.1 C365.76 793.6 371.15 793.6 373.15 794.9 L378.39 807.3 C376.54 808.8 372.69 808.8 370.69 807.9 Z" fill="#3df012"/>
<path d="M371.15 808.2 C373 808.9 376.54 808.9 378.24 807.5" stroke="#1eb00a" stroke-width="0.8" fill="none"/>
<path d="M364.22 795.5 L371.15 807.5" stroke="#1eb00a" stroke-width="0.7" fill="none" opacity="0.55"/>
<path d="M378.85 795.1 C381.17 793.6 386.56 793.6 388.56 794.9 L393.8 807.3 C391.95 808.8 388.1 808.8 386.1 807.9 Z" fill="#3df012"/>
<path d="M386.56 808.2 C388.41 808.9 391.95 808.9 393.65 807.5" stroke="#1eb00a" stroke-width="0.8" fill="none"/>
<path d="M379.62 795.5 L386.56 807.5" stroke="#1eb00a" stroke-width="0.7" fill="none" opacity="0.55"/>
<rect x="87.65" y="814.1" width="19.1" height="266.8" fill="#5B9BD5"/>
<rect x="125.85" y="814.1" width="12.73" height="266.8" fill="#5B9BD5"/>
<rect x="151.32" y="814.1" width="6.37" height="266.8" fill="#5B9BD5"/>
<rect x="183.16" y="814.1" width="6.37" height="266.8" fill="#5B9BD5"/>
<rect x="265.93" y="814.1" width="12.73" height="266.8" fill="#5B9BD5"/>
<rect x="285.03" y="814.1" width="12.73" height="266.8" fill="#5B9BD5"/>
<rect x="304.13" y="814.1" width="6.37" height="266.8" fill="#5B9BD5"/>
<rect x="380.53" y="814.1" width="6.37" height="266.8" fill="#5B9BD5"/>
<rect x="75.95" y="974.45" width="4.3" height="106.45" fill="#595959"/>
<rect x="82.32" y="994.19" width="4.3" height="86.71" fill="#595959"/>
<rect x="101.42" y="1005.21" width="4.3" height="75.69" fill="#595959"/>
<rect x="120.52" y="1036.61" width="4.3" height="44.29" fill="#595959"/>
<rect x="126.89" y="1045.5" width="4.3" height="35.4" fill="#595959"/>
<rect x="133.25" y="1032.61" width="4.3" height="48.29" fill="#595959"/>
<rect x="139.62" y="985.65" width="4.3" height="95.25" fill="#595959"/>
<rect x="158.72" y="967.51" width="4.3" height="113.39" fill="#595959"/>
<rect x="165.09" y="972.39" width="4.3" height="108.51" fill="#595959"/>
<rect x="171.45" y="976.58" width="4.3" height="104.32" fill="#595959"/>
<rect x="177.82" y="974.98" width="4.3" height="105.92" fill="#595959"/>
<rect x="184.19" y="1005.74" width="4.3" height="75.16" fill="#595959"/>
<rect x="190.56" y="987.79" width="4.3" height="93.11" fill="#595959"/>
<rect x="196.92" y="998.3" width="4.3" height="82.6" fill="#595959"/>
<rect x="203.29" y="995.52" width="4.3" height="85.38" fill="#595959"/>
<rect x="209.66" y="978.53" width="4.3" height="102.37" fill="#595959"/>
<rect x="216.02" y="929.54" width="4.3" height="151.36" fill="#595959"/>
<rect x="222.39" y="981.38" width="4.3" height="99.52" fill="#595959"/>
<rect x="228.76" y="987.79" width="4.3" height="93.11" fill="#595959"/>
<rect x="235.12" y="974.98" width="4.3" height="105.92" fill="#595959"/>
<rect x="241.49" y="988.85" width="4.3" height="92.05" fill="#595959"/>
<rect x="247.86" y="998.03" width="4.3" height="82.87" fill="#595959"/>
<rect x="254.23" y="966.23" width="4.3" height="114.67" fill="#595959"/>
<rect x="260.59" y="953.37" width="4.3" height="127.53" fill="#595959"/>
<rect x="266.96" y="1004.46" width="4.3" height="76.44" fill="#595959"/>
<rect x="273.33" y="1007.26" width="4.3" height="73.64" fill="#595959"/>
<rect x="279.69" y="989.39" width="4.3" height="91.51" fill="#595959"/>
<rect x="286.06" y="1037.81" width="4.3" height="43.09" fill="#595959"/>
<rect x="292.43" y="1007.8" width="4.3" height="73.1" fill="#595959"/>
<rect x="298.8" y="1004.2" width="4.3" height="76.71" fill="#595959"/>
<rect x="305.16" y="1023.43" width="4.3" height="57.47" fill="#595959"/>
<rect x="317.9" y="998.03" width="4.3" height="82.87" fill="#595959"/>
<rect x="324.26" y="993.92" width="4.3" height="86.98" fill="#595959"/>
<rect x="330.63" y="1036.61" width="4.3" height="44.29" fill="#595959"/>
<rect x="337" y="1004.2" width="4.3" height="76.71" fill="#595959"/>
<rect x="343.36" y="988.85" width="4.3" height="92.05" fill="#595959"/>
<rect x="349.73" y="989.39" width="4.3" height="91.51" fill="#595959"/>
<rect x="381.57" y="1007.26" width="4.3" height="73.64" fill="#595959"/>
<rect x="387.93" y="977.11" width="4.3" height="103.79" fill="#595959"/>
<rect x="394.3" y="976.05" width="4.3" height="104.85" fill="#595959"/>
<rect x="400.67" y="987.52" width="4.3" height="93.38" fill="#595959"/>
<rect x="419.77" y="959.24" width="4.3" height="121.66" fill="#595959"/>
<rect x="426.13" y="954.17" width="4.3" height="126.73" fill="#595959"/>
<rect x="438.87" y="974.98" width="4.3" height="105.92" fill="#595959"/>
<rect x="445.24" y="948.3" width="4.3" height="132.6" fill="#595959"/>
<rect x="451.6" y="950.17" width="4.3" height="130.73" fill="#595959"/>
<rect x="457.97" y="814.1" width="4.3" height="266.8" fill="#595959"/>
<line x1="67.6" y1="1000.86" x2="467.5" y2="1000.86" stroke="#333" stroke-width="0.5" stroke-dasharray="1.6 1.2"/>
<line x1="67.6" y1="814.1" x2="467.5" y2="814.1" stroke="#555" stroke-width="1.6"/>
<line x1="67.6" y1="813.3" x2="67.6" y2="1080.9" stroke="#1c1c1c" stroke-width="1.5"/>
<line x1="467.5" y1="813.4" x2="467.5" y2="1080.9" stroke="#555" stroke-width="0.8"/>
<line x1="66.85" y1="1080.9" x2="467.9" y2="1080.9" stroke="#1c1c1c" stroke-width="1.5"/>
<line x1="71.73" y1="1080.9" x2="71.73" y2="1083.1" stroke="#1c1c1c" stroke-width="0.9"/>
<line x1="78.1" y1="1080.9" x2="78.1" y2="1083.1" stroke="#1c1c1c" stroke-width="0.9"/>
<line x1="84.47" y1="1080.9" x2="84.47" y2="1083.1" stroke="#1c1c1c" stroke-width="0.9"/>
<line x1="90.83" y1="1080.9" x2="90.83" y2="1083.1" stroke="#1c1c1c" stroke-width="0.9"/>
<line x1="97.2" y1="1080.9" x2="97.2" y2="1083.1" stroke="#1c1c1c" stroke-width="0.9"/>
<line x1="103.57" y1="1080.9" x2="103.57" y2="1083.1" stroke="#1c1c1c" stroke-width="0.9"/>
<line x1="109.94" y1="1080.9" x2="109.94" y2="1083.1" stroke="#1c1c1c" stroke-width="0.9"/>
<line x1="116.3" y1="1080.9" x2="116.3" y2="1083.1" stroke="#1c1c1c" stroke-width="0.9"/>
<line x1="122.67" y1="1080.9" x2="122.67" y2="1083.1" stroke="#1c1c1c" stroke-width="0.9"/>
<line x1="129.04" y1="1080.9" x2="129.04" y2="1083.1" stroke="#1c1c1c" stroke-width="0.9"/>
<line x1="135.4" y1="1080.9" x2="135.4" y2="1083.1" stroke="#1c1c1c" stroke-width="0.9"/>
<line x1="141.77" y1="1080.9" x2="141.77" y2="1083.1" stroke="#1c1c1c" stroke-width="0.9"/>
<line x1="148.14" y1="1080.9" x2="148.14" y2="1083.1" stroke="#1c1c1c" stroke-width="0.9"/>
<line x1="154.5" y1="1080.9" x2="154.5" y2="1083.1" stroke="#1c1c1c" stroke-width="0.9"/>
<line x1="160.87" y1="1080.9" x2="160.87" y2="1083.1" stroke="#1c1c1c" stroke-width="0.9"/>
<line x1="167.24" y1="1080.9" x2="167.24" y2="1083.1" stroke="#1c1c1c" stroke-width="0.9"/>
<line x1="173.6" y1="1080.9" x2="173.6" y2="1083.1" stroke="#1c1c1c" stroke-width="0.9"/>
<line x1="179.97" y1="1080.9" x2="179.97" y2="1083.1" stroke="#1c1c1c" stroke-width="0.9"/>
<line x1="186.34" y1="1080.9" x2="186.34" y2="1083.1" stroke="#1c1c1c" stroke-width="0.9"/>
<line x1="192.71" y1="1080.9" x2="192.71" y2="1083.1" stroke="#1c1c1c" stroke-width="0.9"/>
<line x1="199.07" y1="1080.9" x2="199.07" y2="1083.1" stroke="#1c1c1c" stroke-width="0.9"/>
<line x1="205.44" y1="1080.9" x2="205.44" y2="1083.1" stroke="#1c1c1c" stroke-width="0.9"/>
<line x1="211.81" y1="1080.9" x2="211.81" y2="1083.1" stroke="#1c1c1c" stroke-width="0.9"/>
<line x1="218.17" y1="1080.9" x2="218.17" y2="1083.1" stroke="#1c1c1c" stroke-width="0.9"/>
<line x1="224.54" y1="1080.9" x2="224.54" y2="1083.1" stroke="#1c1c1c" stroke-width="0.9"/>
<line x1="230.91" y1="1080.9" x2="230.91" y2="1083.1" stroke="#1c1c1c" stroke-width="0.9"/>
<line x1="237.28" y1="1080.9" x2="237.28" y2="1083.1" stroke="#1c1c1c" stroke-width="0.9"/>
<line x1="243.64" y1="1080.9" x2="243.64" y2="1083.1" stroke="#1c1c1c" stroke-width="0.9"/>
<line x1="250.01" y1="1080.9" x2="250.01" y2="1083.1" stroke="#1c1c1c" stroke-width="0.9"/>
<line x1="256.38" y1="1080.9" x2="256.38" y2="1083.1" stroke="#1c1c1c" stroke-width="0.9"/>
<line x1="262.74" y1="1080.9" x2="262.74" y2="1083.1" stroke="#1c1c1c" stroke-width="0.9"/>
<line x1="269.11" y1="1080.9" x2="269.11" y2="1083.1" stroke="#1c1c1c" stroke-width="0.9"/>
<line x1="275.48" y1="1080.9" x2="275.48" y2="1083.1" stroke="#1c1c1c" stroke-width="0.9"/>
<line x1="281.84" y1="1080.9" x2="281.84" y2="1083.1" stroke="#1c1c1c" stroke-width="0.9"/>
<line x1="288.21" y1="1080.9" x2="288.21" y2="1083.1" stroke="#1c1c1c" stroke-width="0.9"/>
<line x1="294.58" y1="1080.9" x2="294.58" y2="1083.1" stroke="#1c1c1c" stroke-width="0.9"/>
<line x1="300.94" y1="1080.9" x2="300.94" y2="1083.1" stroke="#1c1c1c" stroke-width="0.9"/>
<line x1="307.31" y1="1080.9" x2="307.31" y2="1083.1" stroke="#1c1c1c" stroke-width="0.9"/>
<line x1="313.68" y1="1080.9" x2="313.68" y2="1083.1" stroke="#1c1c1c" stroke-width="0.9"/>
<line x1="320.05" y1="1080.9" x2="320.05" y2="1083.1" stroke="#1c1c1c" stroke-width="0.9"/>
<line x1="326.41" y1="1080.9" x2="326.41" y2="1083.1" stroke="#1c1c1c" stroke-width="0.9"/>
<line x1="332.78" y1="1080.9" x2="332.78" y2="1083.1" stroke="#1c1c1c" stroke-width="0.9"/>
<line x1="339.15" y1="1080.9" x2="339.15" y2="1083.1" stroke="#1c1c1c" stroke-width="0.9"/>
<line x1="345.51" y1="1080.9" x2="345.51" y2="1083.1" stroke="#1c1c1c" stroke-width="0.9"/>
<line x1="351.88" y1="1080.9" x2="351.88" y2="1083.1" stroke="#1c1c1c" stroke-width="0.9"/>
<line x1="358.25" y1="1080.9" x2="358.25" y2="1083.1" stroke="#1c1c1c" stroke-width="0.9"/>
<line x1="364.62" y1="1080.9" x2="364.62" y2="1083.1" stroke="#1c1c1c" stroke-width="0.9"/>
<line x1="370.98" y1="1080.9" x2="370.98" y2="1083.1" stroke="#1c1c1c" stroke-width="0.9"/>
<line x1="377.35" y1="1080.9" x2="377.35" y2="1083.1" stroke="#1c1c1c" stroke-width="0.9"/>
<line x1="383.72" y1="1080.9" x2="383.72" y2="1083.1" stroke="#1c1c1c" stroke-width="0.9"/>
<line x1="390.08" y1="1080.9" x2="390.08" y2="1083.1" stroke="#1c1c1c" stroke-width="0.9"/>
<line x1="396.45" y1="1080.9" x2="396.45" y2="1083.1" stroke="#1c1c1c" stroke-width="0.9"/>
<line x1="402.82" y1="1080.9" x2="402.82" y2="1083.1" stroke="#1c1c1c" stroke-width="0.9"/>
<line x1="409.18" y1="1080.9" x2="409.18" y2="1083.1" stroke="#1c1c1c" stroke-width="0.9"/>
<line x1="415.55" y1="1080.9" x2="415.55" y2="1083.1" stroke="#1c1c1c" stroke-width="0.9"/>
<line x1="421.92" y1="1080.9" x2="421.92" y2="1083.1" stroke="#1c1c1c" stroke-width="0.9"/>
<line x1="428.28" y1="1080.9" x2="428.28" y2="1083.1" stroke="#1c1c1c" stroke-width="0.9"/>
<line x1="434.65" y1="1080.9" x2="434.65" y2="1083.1" stroke="#1c1c1c" stroke-width="0.9"/>
<line x1="441.02" y1="1080.9" x2="441.02" y2="1083.1" stroke="#1c1c1c" stroke-width="0.9"/>
<line x1="447.39" y1="1080.9" x2="447.39" y2="1083.1" stroke="#1c1c1c" stroke-width="0.9"/>
<line x1="453.75" y1="1080.9" x2="453.75" y2="1083.1" stroke="#1c1c1c" stroke-width="0.9"/>
<line x1="460.12" y1="1080.9" x2="460.12" y2="1083.1" stroke="#1c1c1c" stroke-width="0.9"/>
<line x1="64.7" y1="1080.9" x2="67.6" y2="1080.9" stroke="#1c1c1c" stroke-width="1.3"/>
<text x="63.6" y="1083.5" text-anchor="end" font-family="Liberation Sans, sans-serif" font-weight="bold" font-size="7.7" fill="#111">0.0</text>
<line x1="64.7" y1="1054.22" x2="67.6" y2="1054.22" stroke="#1c1c1c" stroke-width="1.3"/>
<text x="63.6" y="1056.82" text-anchor="end" font-family="Liberation Sans, sans-serif" font-weight="bold" font-size="7.7" fill="#111">0.1</text>
<line x1="64.7" y1="1027.54" x2="67.6" y2="1027.54" stroke="#1c1c1c" stroke-width="1.3"/>
<text x="63.6" y="1030.14" text-anchor="end" font-family="Liberation Sans, sans-serif" font-weight="bold" font-size="7.7" fill="#111">0.2</text>
<line x1="64.7" y1="1000.86" x2="67.6" y2="1000.86" stroke="#1c1c1c" stroke-width="1.3"/>
<text x="63.6" y="1003.46" text-anchor="end" font-family="Liberation Sans, sans-serif" font-weight="bold" font-size="7.7" fill="#111">0.3</text>
<line x1="64.7" y1="974.18" x2="67.6" y2="974.18" stroke="#1c1c1c" stroke-width="1.3"/>
<text x="63.6" y="976.78" text-anchor="end" font-family="Liberation Sans, sans-serif" font-weight="bold" font-size="7.7" fill="#111">0.4</text>
<line x1="64.7" y1="947.5" x2="67.6" y2="947.5" stroke="#1c1c1c" stroke-width="1.3"/>
<text x="63.6" y="950.1" text-anchor="end" font-family="Liberation Sans, sans-serif" font-weight="bold" font-size="7.7" fill="#111">0.5</text>
<line x1="64.7" y1="920.82" x2="67.6" y2="920.82" stroke="#1c1c1c" stroke-width="1.3"/>
<text x="63.6" y="923.42" text-anchor="end" font-family="Liberation Sans, sans-serif" font-weight="bold" font-size="7.7" fill="#111">0.6</text>
<line x1="64.7" y1="894.14" x2="67.6" y2="894.14" stroke="#1c1c1c" stroke-width="1.3"/>
<text x="63.6" y="896.74" text-anchor="end" font-family="Liberation Sans, sans-serif" font-weight="bold" font-size="7.7" fill="#111">0.7</text>
<line x1="64.7" y1="867.46" x2="67.6" y2="867.46" stroke="#1c1c1c" stroke-width="1.3"/>
<text x="63.6" y="870.06" text-anchor="end" font-family="Liberation Sans, sans-serif" font-weight="bold" font-size="7.7" fill="#111">0.8</text>
<line x1="64.7" y1="840.78" x2="67.6" y2="840.78" stroke="#1c1c1c" stroke-width="1.3"/>
<text x="63.6" y="843.38" text-anchor="end" font-family="Liberation Sans, sans-serif" font-weight="bold" font-size="7.7" fill="#111">0.9</text>
<line x1="64.7" y1="814.1" x2="67.6" y2="814.1" stroke="#1c1c1c" stroke-width="1.3"/>
<text x="63.6" y="816.7" text-anchor="end" font-family="Liberation Sans, sans-serif" font-weight="bold" font-size="7.7" fill="#111">1.0</text>
<text transform="translate(74.33,1084.3) rotate(-90)" text-anchor="end" font-family="Liberation Sans, sans-serif" font-weight="bold" font-size="7.6" fill="#ED7D31">M1</text>
<text transform="translate(80.7,1084.3) rotate(-90)" text-anchor="end" font-family="Liberation Sans, sans-serif" font-weight="bold" font-size="7.6" fill="#1a1a1a">A2</text>
<text transform="translate(87.07,1084.3) rotate(-90)" text-anchor="end" font-family="Liberation Sans, sans-serif" font-weight="bold" font-size="7.6" fill="#1a1a1a">R3</text>
<text transform="translate(93.43,1084.3) rotate(-90)" text-anchor="end" font-family="Liberation Sans, sans-serif" font-weight="bold" font-size="7.6" fill="#ED7D31">G4</text>
<text transform="translate(99.8,1084.3) rotate(-90)" text-anchor="end" font-family="Liberation Sans, sans-serif" font-weight="bold" font-size="7.6" fill="#ED7D31">N5</text>
<text transform="translate(106.17,1084.3) rotate(-90)" text-anchor="end" font-family="Liberation Sans, sans-serif" font-weight="bold" font-size="7.6" fill="#4472C4">Q6</text>
<text transform="translate(112.53,1084.3) rotate(-90)" text-anchor="end" font-family="Liberation Sans, sans-serif" font-weight="bold" font-size="7.6" fill="#ED7D31">R7</text>
<text transform="translate(118.9,1084.3) rotate(-90)" text-anchor="end" font-family="Liberation Sans, sans-serif" font-weight="bold" font-size="7.6" fill="#ED7D31">E8</text>
<text transform="translate(125.27,1084.3) rotate(-90)" text-anchor="end" font-family="Liberation Sans, sans-serif" font-weight="bold" font-size="7.6" fill="#1a1a1a">L9/E42</text>
<text transform="translate(131.64,1084.3) rotate(-90)" text-anchor="end" font-family="Liberation Sans, sans-serif" font-weight="bold" font-size="7.6" fill="#4472C4">A10</text>
<text transform="translate(138,1084.3) rotate(-90)" text-anchor="end" font-family="Liberation Sans, sans-serif" font-weight="bold" font-size="7.6" fill="#4472C4">R11</text>
<text transform="translate(144.37,1084.3) rotate(-90)" text-anchor="end" font-family="Liberation Sans, sans-serif" font-weight="bold" font-size="7.6" fill="#1a1a1a">Q12</text>
<text transform="translate(150.74,1084.3) rotate(-90)" text-anchor="end" font-family="Liberation Sans, sans-serif" font-weight="bold" font-size="7.6" fill="#ED7D31">K13</text>
<text transform="translate(157.1,1084.3) rotate(-90)" text-anchor="end" font-family="Liberation Sans, sans-serif" font-weight="bold" font-size="7.6" fill="#ED7D31">N14</text>
<text transform="translate(163.47,1084.3) rotate(-90)" text-anchor="end" font-family="Liberation Sans, sans-serif" font-weight="bold" font-size="7.6" fill="#1a1a1a">M15</text>
<text transform="translate(169.84,1084.3) rotate(-90)" text-anchor="end" font-family="Liberation Sans, sans-serif" font-weight="bold" font-size="7.6" fill="#1a1a1a">K16</text>
<text transform="translate(176.2,1084.3) rotate(-90)" text-anchor="end" font-family="Liberation Sans, sans-serif" font-weight="bold" font-size="7.6" fill="#1a1a1a">K17</text>
<text transform="translate(182.57,1084.3) rotate(-90)" text-anchor="end" font-family="Liberation Sans, sans-serif" font-weight="bold" font-size="7.6" fill="#1a1a1a">T18/T59</text>
<text transform="translate(188.94,1084.3) rotate(-90)" text-anchor="end" font-family="Liberation Sans, sans-serif" font-weight="bold" font-size="7.6" fill="#4472C4">Q19</text>
<text transform="translate(195.31,1084.3) rotate(-90)" text-anchor="end" font-family="Liberation Sans, sans-serif" font-weight="bold" font-size="7.6" fill="#1a1a1a">E20/R26</text>
<text transform="translate(201.67,1084.3) rotate(-90)" text-anchor="end" font-family="Liberation Sans, sans-serif" font-weight="bold" font-size="7.6" fill="#1a1a1a">I21</text>
<text transform="translate(208.04,1084.3) rotate(-90)" text-anchor="end" font-family="Liberation Sans, sans-serif" font-weight="bold" font-size="7.6" fill="#1a1a1a">S22</text>
<text transform="translate(214.41,1084.3) rotate(-90)" text-anchor="end" font-family="Liberation Sans, sans-serif" font-weight="bold" font-size="7.6" fill="#1a1a1a">K23</text>
<text transform="translate(220.77,1084.3) rotate(-90)" text-anchor="end" font-family="Liberation Sans, sans-serif" font-weight="bold" font-size="7.6" fill="#1a1a1a">G24</text>
<text transform="translate(227.14,1084.3) rotate(-90)" text-anchor="end" font-family="Liberation Sans, sans-serif" font-weight="bold" font-size="7.6" fill="#1a1a1a">K25</text>
<text transform="translate(233.51,1084.3) rotate(-90)" text-anchor="end" font-family="Liberation Sans, sans-serif" font-weight="bold" font-size="7.6" fill="#1a1a1a">E20/R26</text>
<text transform="translate(239.88,1084.3) rotate(-90)" text-anchor="end" font-family="Liberation Sans, sans-serif" font-weight="bold" font-size="7.6" fill="#1a1a1a">K27</text>
<text transform="translate(246.24,1084.3) rotate(-90)" text-anchor="end" font-family="Liberation Sans, sans-serif" font-weight="bold" font-size="7.6" fill="#1a1a1a">E28</text>
<text transform="translate(252.61,1084.3) rotate(-90)" text-anchor="end" font-family="Liberation Sans, sans-serif" font-weight="bold" font-size="7.6" fill="#1a1a1a">D29</text>
<text transform="translate(258.98,1084.3) rotate(-90)" text-anchor="end" font-family="Liberation Sans, sans-serif" font-weight="bold" font-size="7.6" fill="#1a1a1a">S30</text>
<text transform="translate(265.34,1084.3) rotate(-90)" text-anchor="end" font-family="Liberation Sans, sans-serif" font-weight="bold" font-size="7.6" fill="#1a1a1a">L31</text>
<text transform="translate(271.71,1084.3) rotate(-90)" text-anchor="end" font-family="Liberation Sans, sans-serif" font-weight="bold" font-size="7.6" fill="#4472C4">T32</text>
<text transform="translate(278.08,1084.3) rotate(-90)" text-anchor="end" font-family="Liberation Sans, sans-serif" font-weight="bold" font-size="7.6" fill="#4472C4">A33</text>
<text transform="translate(284.44,1084.3) rotate(-90)" text-anchor="end" font-family="Liberation Sans, sans-serif" font-weight="bold" font-size="7.6" fill="#1a1a1a">S34</text>
<text transform="translate(290.81,1084.3) rotate(-90)" text-anchor="end" font-family="Liberation Sans, sans-serif" font-weight="bold" font-size="7.6" fill="#4472C4">Q35</text>
<text transform="translate(297.18,1084.3) rotate(-90)" text-anchor="end" font-family="Liberation Sans, sans-serif" font-weight="bold" font-size="7.6" fill="#4472C4">R36</text>
<text transform="translate(303.55,1084.3) rotate(-90)" text-anchor="end" font-family="Liberation Sans, sans-serif" font-weight="bold" font-size="7.6" fill="#1a1a1a">K37/I43</text>
<text transform="translate(309.91,1084.3) rotate(-90)" text-anchor="end" font-family="Liberation Sans, sans-serif" font-weight="bold" font-size="7.6" fill="#4472C4">Q38</text>
<text transform="translate(316.28,1084.3) rotate(-90)" text-anchor="end" font-family="Liberation Sans, sans-serif" font-weight="bold" font-size="7.6" fill="#ED7D31">R39</text>
<text transform="translate(322.65,1084.3) rotate(-90)" text-anchor="end" font-family="Liberation Sans, sans-serif" font-weight="bold" font-size="7.6" fill="#1a1a1a">D40</text>
<text transform="translate(329.01,1084.3) rotate(-90)" text-anchor="end" font-family="Liberation Sans, sans-serif" font-weight="bold" font-size="7.6" fill="#1a1a1a">S41</text>
<text transform="translate(335.38,1084.3) rotate(-90)" text-anchor="end" font-family="Liberation Sans, sans-serif" font-weight="bold" font-size="7.6" fill="#1a1a1a">L9/E42</text>
<text transform="translate(341.75,1084.3) rotate(-90)" text-anchor="end" font-family="Liberation Sans, sans-serif" font-weight="bold" font-size="7.6" fill="#1a1a1a">K37/I43</text>
<text transform="translate(348.11,1084.3) rotate(-90)" text-anchor="end" font-family="Liberation Sans, sans-serif" font-weight="bold" font-size="7.6" fill="#1a1a1a">M44</text>
<text transform="translate(354.48,1084.3) rotate(-90)" text-anchor="end" font-family="Liberation Sans, sans-serif" font-weight="bold" font-size="7.6" fill="#1a1a1a">Q45</text>
<text transform="translate(360.85,1084.3) rotate(-90)" text-anchor="end" font-family="Liberation Sans, sans-serif" font-weight="bold" font-size="7.6" fill="#ED7D31">E46</text>
<text transform="translate(367.22,1084.3) rotate(-90)" text-anchor="end" font-family="Liberation Sans, sans-serif" font-weight="bold" font-size="7.6" fill="#ED7D31">K47</text>
<text transform="translate(373.58,1084.3) rotate(-90)" text-anchor="end" font-family="Liberation Sans, sans-serif" font-weight="bold" font-size="7.6" fill="#ED7D31">Q48</text>
<text transform="translate(379.95,1084.3) rotate(-90)" text-anchor="end" font-family="Liberation Sans, sans-serif" font-weight="bold" font-size="7.6" fill="#ED7D31">K49</text>
<text transform="translate(386.32,1084.3) rotate(-90)" text-anchor="end" font-family="Liberation Sans, sans-serif" font-weight="bold" font-size="7.6" fill="#4472C4">A50</text>
<text transform="translate(392.68,1084.3) rotate(-90)" text-anchor="end" font-family="Liberation Sans, sans-serif" font-weight="bold" font-size="7.6" fill="#1a1a1a">A51</text>
<text transform="translate(399.05,1084.3) rotate(-90)" text-anchor="end" font-family="Liberation Sans, sans-serif" font-weight="bold" font-size="7.6" fill="#1a1a1a">N52</text>
<text transform="translate(405.42,1084.3) rotate(-90)" text-anchor="end" font-family="Liberation Sans, sans-serif" font-weight="bold" font-size="7.6" fill="#1a1a1a">E53</text>
<text transform="translate(411.78,1084.3) rotate(-90)" text-anchor="end" font-family="Liberation Sans, sans-serif" font-weight="bold" font-size="7.6" fill="#ED7D31">K54</text>
<text transform="translate(418.15,1084.3) rotate(-90)" text-anchor="end" font-family="Liberation Sans, sans-serif" font-weight="bold" font-size="7.6" fill="#ED7D31">K55</text>
<text transform="translate(424.52,1084.3) rotate(-90)" text-anchor="end" font-family="Liberation Sans, sans-serif" font-weight="bold" font-size="7.6" fill="#1a1a1a">S56</text>
<text transform="translate(430.88,1084.3) rotate(-90)" text-anchor="end" font-family="Liberation Sans, sans-serif" font-weight="bold" font-size="7.6" fill="#1a1a1a">M57</text>
<text transform="translate(437.25,1084.3) rotate(-90)" text-anchor="end" font-family="Liberation Sans, sans-serif" font-weight="bold" font-size="7.6" fill="#ED7D31">Q58</text>
<text transform="translate(443.62,1084.3) rotate(-90)" text-anchor="end" font-family="Liberation Sans, sans-serif" font-weight="bold" font-size="7.6" fill="#1a1a1a">T18/T59</text>
<text transform="translate(449.99,1084.3) rotate(-90)" text-anchor="end" font-family="Liberation Sans, sans-serif" font-weight="bold" font-size="7.6" fill="#1a1a1a">R60</text>
<text transform="translate(456.35,1084.3) rotate(-90)" text-anchor="end" font-family="Liberation Sans, sans-serif" font-weight="bold" font-size="7.6" fill="#1a1a1a">E61</text>
<text transform="translate(462.72,1084.3) rotate(-90)" text-anchor="end" font-family="Liberation Sans, sans-serif" font-weight="bold" font-size="7.6" fill="#1a1a1a">K62</text>
<text transform="translate(31.3,1031) rotate(-90)" font-family="Liberation Sans, sans-serif" font-weight="bold" font-size="10.1" fill="#1a1a1a" stroke="#1a1a1a" stroke-width="0.2" textLength="155.4" lengthAdjust="spacingAndGlyphs">Normalized intensity change</text>
<text x="230.4" y="1124.7" font-family="Liberation Sans, sans-serif" font-weight="bold" font-size="8.4" fill="#1a1a1a" textLength="74" lengthAdjust="spacingAndGlyphs">SERF1a Residues</text>
<line x1="51.9" y1="5.5" x2="51.9" y2="406.7" stroke="#ececec" stroke-width="0.7"/>
<line x1="107.57" y1="5.5" x2="107.57" y2="406.7" stroke="#ececec" stroke-width="0.7"/>
<line x1="163.24" y1="5.5" x2="163.24" y2="406.7" stroke="#ececec" stroke-width="0.7"/>
<line x1="218.91" y1="5.5" x2="218.91" y2="406.7" stroke="#ececec" stroke-width="0.7"/>
<line x1="36.6" y1="25.8" x2="273.9" y2="25.8" stroke="#ececec" stroke-width="0.7"/>
<line x1="36.6" y1="135.7" x2="273.9" y2="135.7" stroke="#ececec" stroke-width="0.7"/>
<line x1="36.6" y1="243.4" x2="273.9" y2="243.4" stroke="#ececec" stroke-width="0.7"/>
<line x1="36.6" y1="352.2" x2="273.9" y2="352.2" stroke="#ececec" stroke-width="0.7"/>
<defs><filter id="pkb" x="-5%" y="-5%" width="110%" height="110%"><feGaussianBlur stdDeviation="0.45"/></filter><clipPath id="clA"><rect x="36.6" y="5.5" width="237.3" height="401.2"/></clipPath></defs>
<g clip-path="url(#clA)"><g filter="url(#pkb)">
<ellipse cx="164.3" cy="112.9" rx="8.2" ry="6.1" fill="#8f8ff5" transform="rotate(10 164.3 112.9)" opacity="0.5"/>
<ellipse cx="212.1" cy="143.5" rx="7.2" ry="7.2" fill="#8f8ff5" transform="rotate(20 212.1 143.5)" opacity="0.5"/>
<ellipse cx="192.6" cy="151.1" rx="10.2" ry="6.2" fill="#8f8ff5" transform="rotate(5 192.6 151.1)" opacity="0.5"/>
<ellipse cx="172.4" cy="155.4" rx="7.2" ry="6.3" fill="#8f8ff5" opacity="0.5"/>
<ellipse cx="174.9" cy="179.4" rx="7.6" ry="5.8" fill="#8f8ff5" transform="rotate(-30 174.9 179.4)" opacity="0.5"/>
<ellipse cx="225.9" cy="229.7" rx="6.8" ry="6" fill="#8f8ff5" opacity="0.5"/>
<ellipse cx="136" cy="237.8" rx="6.8" ry="6" fill="#8f8ff5" opacity="0.5"/>
<ellipse cx="122" cy="253.9" rx="8.4" ry="7" fill="#8f8ff5" transform="rotate(20 122 253.9)" opacity="0.5"/>
<ellipse cx="48.8" cy="291" rx="8.5" ry="7" fill="#8f8ff5" opacity="0.5"/>
<ellipse cx="98.1" cy="305.2" rx="8.4" ry="7.8" fill="#8f8ff5" opacity="0.5"/>
<ellipse cx="124.2" cy="304.6" rx="9.4" ry="8.4" fill="#8f8ff5" transform="rotate(-35 124.2 304.6)" opacity="0.5"/>
<ellipse cx="131" cy="298.4" rx="7.2" ry="5.8" fill="#8f8ff5" transform="rotate(-35 131 298.4)" opacity="0.5"/>
<ellipse cx="154" cy="367.8" rx="7" ry="6.2" fill="#8f8ff5" opacity="0.5"/>
<ellipse cx="261.6" cy="385.3" rx="7.2" ry="6.6" fill="#8f8ff5" opacity="0.35"/>
<ellipse cx="241" cy="398.4" rx="4.5" ry="5.1" fill="#8f8ff5" opacity="0.6"/>
<ellipse cx="241.6" cy="288.8" rx="6.8" ry="6" fill="#8f8ff5" opacity="0.5"/>
<ellipse cx="91.6" cy="334.3" rx="7.2" ry="6.2" fill="#8f8ff5" opacity="0.5"/>
<ellipse cx="100.6" cy="343.2" rx="7.4" ry="6" fill="#8f8ff5" transform="rotate(15 100.6 343.2)" opacity="0.5"/>
<ellipse cx="165.6" cy="166.4" rx="6.2" ry="5.4" fill="#8f8ff5" opacity="0.5"/>
<ellipse cx="147.6" cy="251.8" rx="7.6" ry="6.6" fill="#8f8ff5" opacity="0.5"/>
<ellipse cx="173.8" cy="251.2" rx="8.6" ry="9.1" fill="#8f8ff5" opacity="0.5"/>
<ellipse cx="185.8" cy="248.8" rx="8.1" ry="8.2" fill="#8f8ff5" opacity="0.5"/>
<ellipse cx="179.8" cy="257.8" rx="8.8" ry="7.8" fill="#8f8ff5" opacity="0.5"/>
<ellipse cx="150.8" cy="268.8" rx="10.8" ry="9" fill="#8f8ff5" opacity="0.5"/>
<ellipse cx="160.3" cy="272.8" rx="14.3" ry="11.4" fill="#8f8ff5" opacity="0.5"/>
<ellipse cx="170.3" cy="267.3" rx="11.4" ry="10.8" fill="#8f8ff5" opacity="0.5"/>
<ellipse cx="174.8" cy="260.8" rx="9" ry="9" fill="#8f8ff5" opacity="0.5"/>
<ellipse cx="155.8" cy="280.3" rx="11.8" ry="7.4" fill="#8f8ff5" opacity="0.5"/>
<ellipse cx="168.8" cy="280.8" rx="11.8" ry="6.8" fill="#8f8ff5" opacity="0.5"/>
<ellipse cx="188.8" cy="266.8" rx="9" ry="6.8" fill="#8f8ff5" transform="rotate(-10 188.8 266.8)" opacity="0.5"/>
<ellipse cx="198.8" cy="264.8" rx="9.4" ry="6" fill="#8f8ff5" transform="rotate(-12 198.8 264.8)" opacity="0.5"/>
<ellipse cx="210.3" cy="262" rx="9.8" ry="6" fill="#8f8ff5" transform="rotate(-12 210.3 262)" opacity="0.5"/>
<ellipse cx="222.6" cy="259.2" rx="10.6" ry="7.2" fill="#8f8ff5" transform="rotate(-5 222.6 259.2)" opacity="0.5"/>
<ellipse cx="188.3" cy="273.8" rx="8.8" ry="7.4" fill="#8f8ff5" opacity="0.5"/>
<ellipse cx="195.3" cy="279.6" rx="10.8" ry="7.2" fill="#8f8ff5" transform="rotate(10 195.3 279.6)" opacity="0.5"/>
<ellipse cx="210.2" cy="290.4" rx="6" ry="6.2" fill="#8f8ff5" opacity="0.5"/>
<ellipse cx="195.2" cy="297.8" rx="11.4" ry="9" fill="#8f8ff5" transform="rotate(15 195.2 297.8)" opacity="0.5"/>
<ellipse cx="201.3" cy="291.8" rx="7.8" ry="6.8" fill="#8f8ff5" opacity="0.5"/>
<ellipse cx="163.6" cy="294.4" rx="9.4" ry="9" fill="#8f8ff5" opacity="0.5"/>
<ellipse cx="177.5" cy="292.2" rx="9.4" ry="9.4" fill="#8f8ff5" opacity="0.5"/>
<ellipse cx="170.3" cy="290.8" rx="7.8" ry="6.4" fill="#8f8ff5" opacity="0.5"/>
<ellipse cx="148.3" cy="301.8" rx="7" ry="6.8" fill="#8f8ff5" opacity="0.5"/>
<ellipse cx="148.5" cy="314.4" rx="7.8" ry="7.8" fill="#8f8ff5" opacity="0.5"/>
<ellipse cx="208.9" cy="313.2" rx="6.6" ry="6.2" fill="#8f8ff5" opacity="0.5"/>
<ellipse cx="198.8" cy="319.5" rx="9.6" ry="8.4" fill="#8f8ff5" transform="rotate(-30 198.8 319.5)" opacity="0.5"/>
<ellipse cx="191.6" cy="325.8" rx="8.2" ry="8" fill="#8f8ff5" transform="rotate(-20 191.6 325.8)" opacity="0.5"/>
<ellipse cx="130.7" cy="17" rx="6.8" ry="4.7" fill="#8f8ff5" opacity="0.6"/>
<ellipse cx="142.9" cy="16.6" rx="6.4" ry="4.7" fill="#8f8ff5" opacity="0.6"/>
<ellipse cx="153.1" cy="106.4" rx="6" ry="5.5" fill="#8f8ff5" opacity="0.6"/>
<ellipse cx="108.7" cy="261.1" rx="7" ry="5.3" fill="#8f8ff5" opacity="0.6"/>
<ellipse cx="138.1" cy="321.4" rx="6.4" ry="5.3" fill="#8f8ff5" opacity="0.6"/>
<line x1="173.1" y1="155.1" x2="193.3" y2="150.8" stroke="#6a5af0" stroke-width="6.4" stroke-linecap="round" opacity="0.6"/>
<line x1="193.3" y1="150.8" x2="212.8" y2="143.2" stroke="#6a5af0" stroke-width="6" stroke-linecap="round" opacity="0.6"/>
<line x1="173.1" y1="155.1" x2="166.5" y2="166.1" stroke="#6a5af0" stroke-width="5.6" stroke-linecap="round" opacity="0.6"/>
<line x1="152.8" y1="106.5" x2="165" y2="112.6" stroke="#6a5af0" stroke-width="5.2" stroke-linecap="round" opacity="0.6"/>
<line x1="130.4" y1="17.1" x2="142.6" y2="16.7" stroke="#6a5af0" stroke-width="5.2" stroke-linecap="round" opacity="0.6"/>
<line x1="92.5" y1="334" x2="101.5" y2="342.9" stroke="#6a5af0" stroke-width="6" stroke-linecap="round" opacity="0.6"/>
<line x1="199.5" y1="319.2" x2="209.8" y2="312.9" stroke="#6a5af0" stroke-width="8" stroke-linecap="round" opacity="0.6"/>
<line x1="124.9" y1="304.3" x2="131.7" y2="298.1" stroke="#6a5af0" stroke-width="10" stroke-linecap="round" opacity="0.6"/>
<line x1="149.2" y1="301.5" x2="149.2" y2="314.1" stroke="#6a5af0" stroke-width="8" stroke-linecap="round" opacity="0.6"/>
<line x1="137.8" y1="321.5" x2="149.2" y2="314.1" stroke="#6a5af0" stroke-width="5" stroke-linecap="round" opacity="0.6"/>
<ellipse cx="165" cy="112.7" rx="7.2" ry="5.5" fill="#3c3cf0" transform="rotate(10 165 112.7)" opacity="0.8"/>
<ellipse cx="212.8" cy="143.3" rx="6.2" ry="6.6" fill="#3c3cf0" transform="rotate(20 212.8 143.3)" opacity="0.8"/>
<ellipse cx="193.3" cy="150.9" rx="9.2" ry="5.6" fill="#3c3cf0" transform="rotate(5 193.3 150.9)" opacity="0.8"/>
<ellipse cx="173.1" cy="155.2" rx="6.2" ry="5.7" fill="#3c3cf0" opacity="0.8"/>
<ellipse cx="175.6" cy="179.2" rx="6.6" ry="5.2" fill="#3c3cf0" transform="rotate(-30 175.6 179.2)" opacity="0.8"/>
<ellipse cx="226.6" cy="229.5" rx="6" ry="5.4" fill="#3c3cf0" opacity="0.8"/>
<ellipse cx="136.7" cy="237.6" rx="6" ry="5.4" fill="#3c3cf0" opacity="0.8"/>
<ellipse cx="122.7" cy="253.7" rx="7.4" ry="6.4" fill="#3c3cf0" transform="rotate(20 122.7 253.7)" opacity="0.8"/>
<ellipse cx="49.5" cy="290.8" rx="7.5" ry="6.4" fill="#3c3cf0" opacity="0.8"/>
<ellipse cx="98.8" cy="305" rx="7.4" ry="7.2" fill="#3c3cf0" opacity="0.8"/>
<ellipse cx="124.9" cy="304.4" rx="8.4" ry="7.8" fill="#3c3cf0" transform="rotate(-35 124.9 304.4)" opacity="0.8"/>
<ellipse cx="131.7" cy="298.2" rx="6.2" ry="5.2" fill="#3c3cf0" transform="rotate(-35 131.7 298.2)" opacity="0.8"/>
<ellipse cx="154.7" cy="367.6" rx="6.2" ry="5.6" fill="#3c3cf0" opacity="0.8"/>
<ellipse cx="242.3" cy="288.6" rx="6" ry="5.4" fill="#3c3cf0" opacity="0.8"/>
<ellipse cx="92.3" cy="334.1" rx="6.4" ry="5.6" fill="#3c3cf0" opacity="0.8"/>
<ellipse cx="101.3" cy="343" rx="6.6" ry="5.4" fill="#3c3cf0" transform="rotate(15 101.3 343)" opacity="0.8"/>
<ellipse cx="166.3" cy="166.2" rx="5.4" ry="4.8" fill="#3c3cf0" opacity="0.8"/>
<ellipse cx="148.3" cy="251.6" rx="6.8" ry="6" fill="#3c3cf0" opacity="0.8"/>
<ellipse cx="174.5" cy="251" rx="7.6" ry="8.5" fill="#3c3cf0" opacity="0.8"/>
<ellipse cx="186.5" cy="248.6" rx="7.1" ry="7.6" fill="#3c3cf0" opacity="0.8"/>
<ellipse cx="180.5" cy="257.6" rx="7.8" ry="7.2" fill="#3c3cf0" opacity="0.8"/>
<ellipse cx="151.5" cy="268.6" rx="9.8" ry="8.4" fill="#3c3cf0" opacity="0.8"/>
<ellipse cx="161" cy="272.6" rx="13.3" ry="10.8" fill="#3c3cf0" opacity="0.8"/>
<ellipse cx="171" cy="267.1" rx="10.4" ry="10.2" fill="#3c3cf0" opacity="0.8"/>
<ellipse cx="175.5" cy="260.6" rx="8" ry="8.4" fill="#3c3cf0" opacity="0.8"/>
<ellipse cx="156.5" cy="280.1" rx="10.8" ry="6.8" fill="#3c3cf0" opacity="0.8"/>
<ellipse cx="169.5" cy="280.6" rx="10.8" ry="6.2" fill="#3c3cf0" opacity="0.8"/>
<ellipse cx="189.5" cy="266.6" rx="8" ry="6.2" fill="#3c3cf0" transform="rotate(-10 189.5 266.6)" opacity="0.8"/>
<ellipse cx="199.5" cy="264.6" rx="8.4" ry="5.4" fill="#3c3cf0" transform="rotate(-12 199.5 264.6)" opacity="0.8"/>
<ellipse cx="211" cy="261.8" rx="8.8" ry="5.4" fill="#3c3cf0" transform="rotate(-12 211 261.8)" opacity="0.8"/>
<ellipse cx="223.3" cy="259" rx="9.6" ry="6.6" fill="#3c3cf0" transform="rotate(-5 223.3 259)" opacity="0.8"/>
<ellipse cx="189" cy="273.6" rx="7.8" ry="6.8" fill="#3c3cf0" opacity="0.8"/>
<ellipse cx="196" cy="279.4" rx="9.8" ry="6.6" fill="#3c3cf0" transform="rotate(10 196 279.4)" opacity="0.8"/>
<ellipse cx="210.9" cy="290.2" rx="5.2" ry="5.6" fill="#3c3cf0" opacity="0.8"/>
<ellipse cx="195.9" cy="297.6" rx="10.4" ry="8.4" fill="#3c3cf0" transform="rotate(15 195.9 297.6)" opacity="0.8"/>
<ellipse cx="202" cy="291.6" rx="6.8" ry="6.2" fill="#3c3cf0" opacity="0.8"/>
<ellipse cx="164.3" cy="294.2" rx="8.4" ry="8.4" fill="#3c3cf0" opacity="0.8"/>
<ellipse cx="178.2" cy="292" rx="8.4" ry="8.8" fill="#3c3cf0" opacity="0.8"/>
<ellipse cx="171" cy="290.6" rx="6.8" ry="5.8" fill="#3c3cf0" opacity="0.8"/>
<ellipse cx="149" cy="301.6" rx="6.2" ry="6.2" fill="#3c3cf0" opacity="0.8"/>
<ellipse cx="149.2" cy="314.2" rx="6.8" ry="7.2" fill="#3c3cf0" opacity="0.8"/>
<ellipse cx="209.6" cy="313" rx="5.8" ry="5.6" fill="#3c3cf0" opacity="0.8"/>
<ellipse cx="199.5" cy="319.3" rx="8.6" ry="7.8" fill="#3c3cf0" transform="rotate(-30 199.5 319.3)" opacity="0.8"/>
<ellipse cx="192.3" cy="325.6" rx="7.2" ry="7.4" fill="#3c3cf0" transform="rotate(-20 192.3 325.6)" opacity="0.8"/>
<ellipse cx="131.3" cy="16.8" rx="5.6" ry="3.8" fill="#5050f0" opacity="0.75"/>
<ellipse cx="143.5" cy="16.4" rx="5.2" ry="3.8" fill="#5050f0" opacity="0.75"/>
<ellipse cx="153.7" cy="106.2" rx="4.8" ry="4.6" fill="#5050f0" opacity="0.75"/>
<ellipse cx="109.3" cy="260.9" rx="5.8" ry="4.4" fill="#5050f0" opacity="0.75"/>
<ellipse cx="138.7" cy="321.2" rx="5.2" ry="4.4" fill="#5050f0" opacity="0.75"/>
<ellipse cx="165.5" cy="112.5" rx="6.6" ry="5.1" fill="#d61fa0" transform="rotate(10 165.5 112.5)"/>
<ellipse cx="213.3" cy="143.1" rx="5.6" ry="6.2" fill="#d61fa0" transform="rotate(20 213.3 143.1)"/>
<ellipse cx="193.8" cy="150.7" rx="8.6" ry="5.2" fill="#d61fa0" transform="rotate(5 193.8 150.7)"/>
<ellipse cx="173.6" cy="155" rx="5.6" ry="5.3" fill="#d61fa0"/>
<ellipse cx="176.1" cy="179" rx="6" ry="4.8" fill="#d61fa0" transform="rotate(-30 176.1 179)"/>
<ellipse cx="227.2" cy="229.3" rx="5.5" ry="5.2" fill="#d61fa0"/>
<ellipse cx="137.3" cy="237.4" rx="5.5" ry="5.2" fill="#d61fa0"/>
<ellipse cx="123.2" cy="253.5" rx="6.8" ry="6" fill="#d61fa0" transform="rotate(20 123.2 253.5)"/>
<ellipse cx="50" cy="290.6" rx="6.9" ry="6" fill="#d61fa0"/>
<ellipse cx="99.3" cy="304.8" rx="6.8" ry="6.8" fill="#d61fa0"/>
<ellipse cx="125.4" cy="304.2" rx="7.8" ry="7.4" fill="#d61fa0" transform="rotate(-35 125.4 304.2)"/>
<ellipse cx="132.2" cy="298" rx="5.6" ry="4.8" fill="#d61fa0" transform="rotate(-35 132.2 298)"/>
<ellipse cx="155.3" cy="367.4" rx="5.7" ry="5.4" fill="#d61fa0"/>
<ellipse cx="241.4" cy="398.3" rx="4.1" ry="4.8" fill="#8a30c0"/>
<ellipse cx="242.9" cy="288.4" rx="5.5" ry="5.2" fill="#d61fa0"/>
<ellipse cx="92.9" cy="333.9" rx="5.9" ry="5.4" fill="#d61fa0"/>
<ellipse cx="101.9" cy="342.8" rx="6.1" ry="5.2" fill="#d61fa0" transform="rotate(15 101.9 342.8)"/>
<ellipse cx="166.9" cy="166" rx="4.9" ry="4.6" fill="#d61fa0"/>
<ellipse cx="148.9" cy="251.4" rx="6.3" ry="5.8" fill="#d61fa0"/>
<ellipse cx="175" cy="250.8" rx="7" ry="8.1" fill="#d61fa0"/>
<ellipse cx="187" cy="248.4" rx="6.5" ry="7.2" fill="#d61fa0"/>
<ellipse cx="181" cy="257.4" rx="7.2" ry="6.8" fill="#d61fa0"/>
<ellipse cx="152" cy="268.4" rx="9.2" ry="8" fill="#d61fa0"/>
<ellipse cx="161.5" cy="272.4" rx="12.7" ry="10.4" fill="#d61fa0"/>
<ellipse cx="171.5" cy="266.9" rx="9.8" ry="9.8" fill="#d61fa0"/>
<ellipse cx="176" cy="260.4" rx="7.4" ry="8" fill="#d61fa0"/>
<ellipse cx="157" cy="279.9" rx="10.2" ry="6.4" fill="#d61fa0"/>
<ellipse cx="170" cy="280.4" rx="10.2" ry="5.8" fill="#d61fa0"/>
<ellipse cx="190" cy="266.4" rx="7.4" ry="5.8" fill="#d61fa0" transform="rotate(-10 190 266.4)"/>
<ellipse cx="200" cy="264.4" rx="7.8" ry="5" fill="#d61fa0" transform="rotate(-12 200 264.4)"/>
<ellipse cx="211.5" cy="261.6" rx="8.2" ry="5" fill="#d61fa0" transform="rotate(-12 211.5 261.6)"/>
<ellipse cx="223.8" cy="258.8" rx="9" ry="6.2" fill="#d61fa0" transform="rotate(-5 223.8 258.8)"/>
<ellipse cx="189.5" cy="273.4" rx="7.2" ry="6.4" fill="#d61fa0"/>
<ellipse cx="196.5" cy="279.2" rx="9.2" ry="6.2" fill="#d61fa0" transform="rotate(10 196.5 279.2)"/>
<ellipse cx="211.5" cy="290" rx="4.7" ry="5.4" fill="#d61fa0"/>
<ellipse cx="196.4" cy="297.4" rx="9.8" ry="8" fill="#d61fa0" transform="rotate(15 196.4 297.4)"/>
<ellipse cx="202.5" cy="291.4" rx="6.2" ry="5.8" fill="#d61fa0"/>
<ellipse cx="164.8" cy="294" rx="7.8" ry="8" fill="#d61fa0"/>
<ellipse cx="178.7" cy="291.8" rx="7.8" ry="8.4" fill="#d61fa0"/>
<ellipse cx="171.5" cy="290.4" rx="6.2" ry="5.4" fill="#d61fa0"/>
<ellipse cx="149.6" cy="301.4" rx="5.7" ry="6" fill="#d61fa0"/>
<ellipse cx="149.7" cy="314" rx="6.2" ry="6.8" fill="#d61fa0"/>
<ellipse cx="210.2" cy="312.8" rx="5.3" ry="5.4" fill="#d61fa0"/>
<ellipse cx="200" cy="319.1" rx="8" ry="7.4" fill="#d61fa0" transform="rotate(-30 200 319.1)"/>
<ellipse cx="192.8" cy="325.4" rx="6.6" ry="7" fill="#d61fa0" transform="rotate(-20 192.8 325.4)"/>
<ellipse cx="131.9" cy="16.6" rx="4.3" ry="2.7" fill="#e368c0"/>
<ellipse cx="144.1" cy="16.2" rx="3.9" ry="2.7" fill="#e368c0"/>
<ellipse cx="154.3" cy="106" rx="3.5" ry="3.5" fill="#e368c0"/>
<ellipse cx="109.9" cy="260.7" rx="4.5" ry="3.3" fill="#e368c0"/>
<ellipse cx="139.3" cy="321" rx="3.9" ry="3.3" fill="#e368c0"/>
<ellipse cx="165.9" cy="112.4" rx="6.1" ry="4.8" fill="#d81432" transform="rotate(10 165.9 112.4)"/>
<ellipse cx="213.7" cy="143" rx="5.1" ry="5.9" fill="#d81432" transform="rotate(20 213.7 143)"/>
<ellipse cx="194.2" cy="150.6" rx="8.1" ry="4.9" fill="#d81432" transform="rotate(5 194.2 150.6)"/>
<ellipse cx="174" cy="154.9" rx="5.1" ry="5" fill="#d81432"/>
<ellipse cx="176.5" cy="178.9" rx="5.5" ry="4.5" fill="#d81432" transform="rotate(-30 176.5 178.9)"/>
<ellipse cx="227.6" cy="229.2" rx="5" ry="4.9" fill="#d81432"/>
<ellipse cx="137.7" cy="237.3" rx="5" ry="4.9" fill="#d81432"/>
<ellipse cx="123.6" cy="253.4" rx="6.3" ry="5.7" fill="#d81432" transform="rotate(20 123.6 253.4)"/>
<ellipse cx="50.4" cy="290.5" rx="6.4" ry="5.7" fill="#d81432"/>
<ellipse cx="99.7" cy="304.7" rx="6.3" ry="6.5" fill="#d81432"/>
<ellipse cx="125.8" cy="304.1" rx="7.3" ry="7.1" fill="#d81432" transform="rotate(-35 125.8 304.1)"/>
<ellipse cx="132.6" cy="297.9" rx="5.1" ry="4.5" fill="#d81432" transform="rotate(-35 132.6 297.9)"/>
<ellipse cx="155.7" cy="367.3" rx="5.2" ry="5.1" fill="#d81432"/>
<ellipse cx="262.2" cy="385.1" rx="5.8" ry="5.8" fill="#b03060" opacity="0.6"/>
<ellipse cx="241.7" cy="398.2" rx="3.7" ry="4.5" fill="#c81840"/>
<ellipse cx="243.3" cy="288.3" rx="5" ry="4.9" fill="#d81432"/>
<ellipse cx="93.3" cy="333.8" rx="5.4" ry="5.1" fill="#d81432"/>
<ellipse cx="102.3" cy="342.7" rx="5.6" ry="4.9" fill="#d81432" transform="rotate(15 102.3 342.7)"/>
<ellipse cx="167.3" cy="165.9" rx="4.4" ry="4.3" fill="#d81432"/>
<ellipse cx="149.3" cy="251.3" rx="5.8" ry="5.5" fill="#d81432"/>
<ellipse cx="175.4" cy="250.7" rx="6.5" ry="7.8" fill="#d81432"/>
<ellipse cx="187.4" cy="248.3" rx="6" ry="6.9" fill="#d81432"/>
<ellipse cx="181.4" cy="257.3" rx="6.7" ry="6.5" fill="#d81432"/>
<ellipse cx="152.4" cy="268.3" rx="8.7" ry="7.7" fill="#d81432"/>
<ellipse cx="161.9" cy="272.3" rx="12.2" ry="10.1" fill="#d81432"/>
<ellipse cx="171.9" cy="266.8" rx="9.3" ry="9.5" fill="#d81432"/>
<ellipse cx="176.4" cy="260.3" rx="6.9" ry="7.7" fill="#d81432"/>
<ellipse cx="157.4" cy="279.8" rx="9.7" ry="6.1" fill="#d81432"/>
<ellipse cx="170.4" cy="280.3" rx="9.7" ry="5.5" fill="#d81432"/>
<ellipse cx="190.4" cy="266.3" rx="6.9" ry="5.5" fill="#d81432" transform="rotate(-10 190.4 266.3)"/>
<ellipse cx="200.4" cy="264.3" rx="7.3" ry="4.7" fill="#d81432" transform="rotate(-12 200.4 264.3)"/>
<ellipse cx="211.9" cy="261.5" rx="7.7" ry="4.7" fill="#d81432" transform="rotate(-12 211.9 261.5)"/>
<ellipse cx="224.2" cy="258.7" rx="8.5" ry="5.9" fill="#d81432" transform="rotate(-5 224.2 258.7)"/>
<ellipse cx="189.9" cy="273.3" rx="6.7" ry="6.1" fill="#d81432"/>
<ellipse cx="196.9" cy="279.1" rx="8.7" ry="5.9" fill="#d81432" transform="rotate(10 196.9 279.1)"/>
<ellipse cx="211.9" cy="289.9" rx="4.2" ry="5.1" fill="#d81432"/>
<ellipse cx="196.8" cy="297.3" rx="9.3" ry="7.7" fill="#d81432" transform="rotate(15 196.8 297.3)"/>
<ellipse cx="202.9" cy="291.3" rx="5.7" ry="5.5" fill="#d81432"/>
<ellipse cx="165.2" cy="293.9" rx="7.3" ry="7.7" fill="#d81432"/>
<ellipse cx="179.1" cy="291.7" rx="7.3" ry="8.1" fill="#d81432"/>
<ellipse cx="171.9" cy="290.3" rx="5.7" ry="5.1" fill="#d81432"/>
<ellipse cx="150" cy="301.3" rx="5.2" ry="5.7" fill="#d81432"/>
<ellipse cx="150.1" cy="313.9" rx="5.7" ry="6.5" fill="#d81432"/>
<ellipse cx="210.6" cy="312.7" rx="4.8" ry="5.1" fill="#d81432"/>
<ellipse cx="200.4" cy="319" rx="7.5" ry="7.1" fill="#d81432" transform="rotate(-30 200.4 319)"/>
<ellipse cx="193.2" cy="325.3" rx="6.1" ry="6.7" fill="#d81432" transform="rotate(-20 193.2 325.3)"/>
<ellipse cx="144.3" cy="16.2" rx="2.4" ry="1.7" fill="#d82858"/>
<ellipse cx="110.1" cy="260.7" rx="3" ry="2.3" fill="#d82858"/>
<ellipse cx="139.5" cy="321" rx="2.4" ry="2.3" fill="#d82858"/>
<ellipse cx="166.7" cy="112.4" rx="5.3" ry="4.2" fill="#5e8616" transform="rotate(10 166.7 112.4)"/>
<ellipse cx="214.5" cy="143" rx="4.3" ry="5.3" fill="#5e8616" transform="rotate(20 214.5 143)"/>
<ellipse cx="195" cy="150.6" rx="7.3" ry="4.3" fill="#5e8616" transform="rotate(5 195 150.6)"/>
<ellipse cx="174.8" cy="154.9" rx="4.3" ry="4.4" fill="#5e8616"/>
<ellipse cx="177.3" cy="178.9" rx="4.7" ry="3.9" fill="#5e8616" transform="rotate(-30 177.3 178.9)"/>
<ellipse cx="228.5" cy="229.1" rx="3.9" ry="3.9" fill="#5f8412"/>
<ellipse cx="138.6" cy="237.2" rx="3.9" ry="3.9" fill="#5f8412"/>
<ellipse cx="124.4" cy="253.4" rx="5.5" ry="5.1" fill="#5e8616" transform="rotate(20 124.4 253.4)"/>
<ellipse cx="51.2" cy="290.5" rx="5.6" ry="5.1" fill="#5e8616"/>
<ellipse cx="100.5" cy="304.7" rx="5.5" ry="5.9" fill="#5e8616"/>
<ellipse cx="126.6" cy="304.1" rx="6.5" ry="6.5" fill="#5e8616" transform="rotate(-35 126.6 304.1)"/>
<ellipse cx="133.4" cy="297.9" rx="4.3" ry="3.9" fill="#5e8616" transform="rotate(-35 133.4 297.9)"/>
<ellipse cx="156.6" cy="367.2" rx="4.1" ry="4.1" fill="#5f8412"/>
<ellipse cx="262.6" cy="384.9" rx="5.6" ry="5.8" fill="#4f9a1c"/>
<ellipse cx="242.3" cy="398.2" rx="3.1" ry="4.1" fill="#6a8a14"/>
<ellipse cx="244.2" cy="288.2" rx="3.9" ry="3.9" fill="#5f8412"/>
<ellipse cx="94.2" cy="333.7" rx="4.3" ry="4.1" fill="#5f8412"/>
<ellipse cx="103.2" cy="342.6" rx="4.5" ry="3.9" fill="#5f8412" transform="rotate(15 103.2 342.6)"/>
<ellipse cx="168.2" cy="165.8" rx="3.3" ry="3.3" fill="#5f8412"/>
<ellipse cx="150.2" cy="251.2" rx="4.7" ry="4.5" fill="#5f8412"/>
<ellipse cx="176.2" cy="250.7" rx="5.7" ry="7.2" fill="#5e8616"/>
<ellipse cx="188.2" cy="248.3" rx="5.2" ry="6.3" fill="#5e8616"/>
<ellipse cx="182.2" cy="257.3" rx="5.9" ry="5.9" fill="#5e8616"/>
<ellipse cx="153.2" cy="268.3" rx="7.9" ry="7.1" fill="#5e8616"/>
<ellipse cx="162.7" cy="272.3" rx="11.4" ry="9.5" fill="#5e8616"/>
<ellipse cx="172.7" cy="266.8" rx="8.5" ry="8.9" fill="#5e8616"/>
<ellipse cx="177.2" cy="260.3" rx="6.1" ry="7.1" fill="#5e8616"/>
<ellipse cx="158.2" cy="279.8" rx="8.9" ry="5.5" fill="#5e8616"/>
<ellipse cx="171.2" cy="280.3" rx="8.9" ry="4.9" fill="#5e8616"/>
<ellipse cx="191.2" cy="266.3" rx="6.1" ry="4.9" fill="#5e8616" transform="rotate(-10 191.2 266.3)"/>
<ellipse cx="201.2" cy="264.3" rx="6.5" ry="4.1" fill="#5e8616" transform="rotate(-12 201.2 264.3)"/>
<ellipse cx="212.7" cy="261.5" rx="6.9" ry="4.1" fill="#5e8616" transform="rotate(-12 212.7 261.5)"/>
<ellipse cx="225" cy="258.7" rx="7.7" ry="5.3" fill="#5e8616" transform="rotate(-5 225 258.7)"/>
<ellipse cx="190.7" cy="273.3" rx="5.9" ry="5.5" fill="#5e8616"/>
<ellipse cx="197.7" cy="279.1" rx="7.9" ry="5.3" fill="#5e8616" transform="rotate(10 197.7 279.1)"/>
<ellipse cx="212.8" cy="289.8" rx="3.1" ry="4.1" fill="#5f8412"/>
<ellipse cx="197.6" cy="297.3" rx="8.5" ry="7.1" fill="#5e8616" transform="rotate(15 197.6 297.3)"/>
<ellipse cx="203.7" cy="291.3" rx="4.9" ry="4.9" fill="#5e8616"/>
<ellipse cx="166" cy="293.9" rx="6.5" ry="7.1" fill="#5e8616"/>
<ellipse cx="179.9" cy="291.7" rx="6.5" ry="7.5" fill="#5e8616"/>
<ellipse cx="172.7" cy="290.3" rx="4.9" ry="4.5" fill="#5e8616"/>
<ellipse cx="150.9" cy="301.2" rx="4.1" ry="4.7" fill="#5f8412"/>
<ellipse cx="150.9" cy="313.9" rx="4.9" ry="5.9" fill="#5e8616"/>
<ellipse cx="211.5" cy="312.6" rx="3.7" ry="4.1" fill="#5f8412"/>
<ellipse cx="201.2" cy="319" rx="6.7" ry="6.5" fill="#5e8616" transform="rotate(-30 201.2 319)"/>
<ellipse cx="194" cy="325.3" rx="5.3" ry="6.1" fill="#5e8616" transform="rotate(-20 194 325.3)"/>
<ellipse cx="166.5" cy="112.1" rx="4.2" ry="3.1" fill="#dfa820" transform="rotate(10 166.5 112.1)"/>
<ellipse cx="214.3" cy="142.7" rx="3.2" ry="4.2" fill="#dfa820" transform="rotate(20 214.3 142.7)"/>
<ellipse cx="194.8" cy="150.3" rx="6.2" ry="3.2" fill="#dfa820" transform="rotate(5 194.8 150.3)"/>
<ellipse cx="174.6" cy="154.6" rx="3.2" ry="3.3" fill="#dfa820"/>
<ellipse cx="177.1" cy="178.6" rx="3.6" ry="2.8" fill="#dfa820" transform="rotate(-30 177.1 178.6)"/>
<ellipse cx="228.3" cy="228.9" rx="1.76" ry="1.76" fill="#d4a420"/>
<ellipse cx="138.4" cy="237" rx="1.44" ry="1.44" fill="#b0902a"/>
<ellipse cx="124.2" cy="253.1" rx="4.4" ry="4" fill="#dfa820" transform="rotate(20 124.2 253.1)"/>
<ellipse cx="51" cy="290.2" rx="4.5" ry="4" fill="#dfa820"/>
<ellipse cx="100.3" cy="304.4" rx="4.4" ry="4.8" fill="#dfa820"/>
<ellipse cx="126.4" cy="303.8" rx="5.4" ry="5.4" fill="#dfa820" transform="rotate(-35 126.4 303.8)"/>
<ellipse cx="133.2" cy="297.6" rx="3.2" ry="2.8" fill="#dfa820" transform="rotate(-35 133.2 297.6)"/>
<ellipse cx="156.4" cy="367" rx="1.87" ry="1.87" fill="#d4a420"/>
<ellipse cx="264.4" cy="384.7" rx="5" ry="5.2" fill="#eab420"/>
<ellipse cx="267" cy="384.9" rx="3.5" ry="3.43" fill="#eab420"/>
<ellipse cx="242.4" cy="398.1" rx="2.5" ry="3.5" fill="#e6ae1c"/>
<ellipse cx="244" cy="288" rx="1.76" ry="1.76" fill="#d4a420"/>
<ellipse cx="94" cy="333.5" rx="1.98" ry="1.87" fill="#d4a420"/>
<ellipse cx="103" cy="342.4" rx="2.09" ry="1.76" fill="#d4a420" transform="rotate(15 103 342.4)"/>
<ellipse cx="168" cy="165.6" rx="1.17" ry="1.17" fill="#b0902a"/>
<ellipse cx="150" cy="251" rx="2.2" ry="2.09" fill="#d4a420"/>
<ellipse cx="176" cy="250.4" rx="4.6" ry="6.1" fill="#dfa820"/>
<ellipse cx="188" cy="248" rx="4.1" ry="5.2" fill="#dfa820"/>
<ellipse cx="182" cy="257" rx="4.8" ry="4.8" fill="#dfa820"/>
<ellipse cx="153" cy="268" rx="6.8" ry="6" fill="#dfa820"/>
<ellipse cx="162.5" cy="272" rx="10.3" ry="8.4" fill="#dfa820"/>
<ellipse cx="172.5" cy="266.5" rx="7.4" ry="7.8" fill="#dfa820"/>
<ellipse cx="177" cy="260" rx="5" ry="6" fill="#dfa820"/>
<ellipse cx="158" cy="279.5" rx="7.8" ry="4.4" fill="#dfa820"/>
<ellipse cx="171" cy="280" rx="7.8" ry="3.8" fill="#dfa820"/>
<ellipse cx="191" cy="266" rx="5" ry="3.8" fill="#dfa820" transform="rotate(-10 191 266)"/>
<ellipse cx="201" cy="264" rx="5.4" ry="3" fill="#dfa820" transform="rotate(-12 201 264)"/>
<ellipse cx="212.5" cy="261.2" rx="5.8" ry="3" fill="#dfa820" transform="rotate(-12 212.5 261.2)"/>
<ellipse cx="224.8" cy="258.4" rx="6.6" ry="4.2" fill="#dfa820" transform="rotate(-5 224.8 258.4)"/>
<ellipse cx="190.5" cy="273" rx="4.8" ry="4.4" fill="#dfa820"/>
<ellipse cx="197.5" cy="278.8" rx="6.8" ry="4.2" fill="#dfa820" transform="rotate(10 197.5 278.8)"/>
<ellipse cx="212.6" cy="289.6" rx="1.32" ry="1.87" fill="#d4a420"/>
<ellipse cx="197.4" cy="297" rx="7.4" ry="6" fill="#dfa820" transform="rotate(15 197.4 297)"/>
<ellipse cx="203.5" cy="291" rx="3.8" ry="3.8" fill="#dfa820"/>
<ellipse cx="165.8" cy="293.6" rx="5.4" ry="6" fill="#dfa820"/>
<ellipse cx="179.7" cy="291.4" rx="5.4" ry="6.4" fill="#dfa820"/>
<ellipse cx="172.5" cy="290" rx="3.8" ry="3.4" fill="#dfa820"/>
<ellipse cx="150.7" cy="301" rx="1.87" ry="2.2" fill="#d4a420"/>
<ellipse cx="150.7" cy="313.6" rx="3.8" ry="4.8" fill="#dfa820"/>
<ellipse cx="211.3" cy="312.4" rx="1.65" ry="1.87" fill="#d4a420"/>
<ellipse cx="201" cy="318.7" rx="5.6" ry="5.4" fill="#dfa820" transform="rotate(-30 201 318.7)"/>
<ellipse cx="193.8" cy="325" rx="4.2" ry="5" fill="#dfa820" transform="rotate(-20 193.8 325)"/>
<ellipse cx="176" cy="250.4" rx="4.5" ry="6" fill="none" stroke="#7d7a18" stroke-width="0.55" opacity="0.55"/>
<ellipse cx="188" cy="248" rx="4" ry="5.1" fill="none" stroke="#7d7a18" stroke-width="0.55" opacity="0.55"/>
<ellipse cx="182" cy="257" rx="4.7" ry="4.7" fill="none" stroke="#7d7a18" stroke-width="0.55" opacity="0.55"/>
<ellipse cx="153" cy="268" rx="6.7" ry="5.9" fill="none" stroke="#7d7a18" stroke-width="0.55" opacity="0.55"/>
<ellipse cx="162.5" cy="272" rx="10.2" ry="8.3" fill="none" stroke="#7d7a18" stroke-width="0.55" opacity="0.55"/>
<ellipse cx="172.5" cy="266.5" rx="7.3" ry="7.7" fill="none" stroke="#7d7a18" stroke-width="0.55" opacity="0.55"/>
<ellipse cx="177" cy="260" rx="4.9" ry="5.9" fill="none" stroke="#7d7a18" stroke-width="0.55" opacity="0.55"/>
<ellipse cx="158" cy="279.5" rx="7.7" ry="4.3" fill="none" stroke="#7d7a18" stroke-width="0.55" opacity="0.55"/>
<ellipse cx="171" cy="280" rx="7.7" ry="3.7" fill="none" stroke="#7d7a18" stroke-width="0.55" opacity="0.55"/>
<ellipse cx="191" cy="266" rx="4.9" ry="3.7" fill="none" stroke="#7d7a18" stroke-width="0.55" opacity="0.55" transform="rotate(-10 191 266)"/>
<ellipse cx="201" cy="264" rx="5.3" ry="2.9" fill="none" stroke="#7d7a18" stroke-width="0.55" opacity="0.55" transform="rotate(-12 201 264)"/>
<ellipse cx="212.5" cy="261.2" rx="5.7" ry="2.9" fill="none" stroke="#7d7a18" stroke-width="0.55" opacity="0.55" transform="rotate(-12 212.5 261.2)"/>
<ellipse cx="224.8" cy="258.4" rx="6.5" ry="4.1" fill="none" stroke="#7d7a18" stroke-width="0.55" opacity="0.55" transform="rotate(-5 224.8 258.4)"/>
<ellipse cx="190.5" cy="273" rx="4.7" ry="4.3" fill="none" stroke="#7d7a18" stroke-width="0.55" opacity="0.55"/>
<ellipse cx="197.5" cy="278.8" rx="6.7" ry="4.1" fill="none" stroke="#7d7a18" stroke-width="0.55" opacity="0.55" transform="rotate(10 197.5 278.8)"/>
<ellipse cx="197.4" cy="297" rx="7.3" ry="5.9" fill="none" stroke="#7d7a18" stroke-width="0.55" opacity="0.55" transform="rotate(15 197.4 297)"/>
<ellipse cx="203.5" cy="291" rx="3.7" ry="3.7" fill="none" stroke="#7d7a18" stroke-width="0.55" opacity="0.55"/>
<ellipse cx="165.8" cy="293.6" rx="5.3" ry="5.9" fill="none" stroke="#7d7a18" stroke-width="0.55" opacity="0.55"/>
<ellipse cx="179.7" cy="291.4" rx="5.3" ry="6.3" fill="none" stroke="#7d7a18" stroke-width="0.55" opacity="0.55"/>
<ellipse cx="172.5" cy="290" rx="3.7" ry="3.3" fill="none" stroke="#7d7a18" stroke-width="0.55" opacity="0.55"/>
<ellipse cx="150.7" cy="313.6" rx="3.7" ry="4.7" fill="none" stroke="#7d7a18" stroke-width="0.55" opacity="0.55"/>
<ellipse cx="201" cy="318.7" rx="5.5" ry="5.3" fill="none" stroke="#7d7a18" stroke-width="0.55" opacity="0.55" transform="rotate(-30 201 318.7)"/>
<ellipse cx="193.8" cy="325" rx="4.1" ry="4.9" fill="none" stroke="#7d7a18" stroke-width="0.55" opacity="0.55" transform="rotate(-20 193.8 325)"/>
<ellipse cx="166.7" cy="111.9" rx="2.42" ry="1.81" fill="#e9b62c" transform="rotate(10 166.7 111.9)"/>
<ellipse cx="214.5" cy="142.5" rx="1.87" ry="2.42" fill="#e9b62c" transform="rotate(20 214.5 142.5)"/>
<ellipse cx="195" cy="150.1" rx="3.52" ry="1.87" fill="#e9b62c" transform="rotate(5 195 150.1)"/>
<ellipse cx="174.8" cy="154.4" rx="1.87" ry="1.93" fill="#e9b62c"/>
<ellipse cx="177.3" cy="178.4" rx="2.09" ry="1.65" fill="#e9b62c" transform="rotate(-30 177.3 178.4)"/>
<ellipse cx="124.4" cy="252.9" rx="2.53" ry="2.31" fill="#e9b62c" transform="rotate(20 124.4 252.9)"/>
<ellipse cx="51.2" cy="290" rx="2.59" ry="2.31" fill="#e9b62c"/>
<ellipse cx="100.5" cy="304.2" rx="2.53" ry="2.75" fill="#e9b62c"/>
<ellipse cx="126.6" cy="303.6" rx="3.08" ry="3.08" fill="#e9b62c" transform="rotate(-35 126.6 303.6)"/>
<ellipse cx="133.4" cy="297.4" rx="1.87" ry="1.65" fill="#e9b62c" transform="rotate(-35 133.4 297.4)"/>
<ellipse cx="265" cy="384.7" rx="3" ry="3.12" fill="#f3c232"/>
<ellipse cx="176.2" cy="250.2" rx="2.64" ry="3.47" fill="#e9b62c"/>
<ellipse cx="188.2" cy="247.8" rx="2.37" ry="2.97" fill="#e9b62c"/>
<ellipse cx="182.2" cy="256.8" rx="2.75" ry="2.75" fill="#e9b62c"/>
<ellipse cx="153.2" cy="267.8" rx="3.85" ry="3.41" fill="#e9b62c"/>
<ellipse cx="162.7" cy="271.8" rx="5.78" ry="4.73" fill="#e9b62c"/>
<ellipse cx="172.7" cy="266.3" rx="4.18" ry="4.4" fill="#e9b62c"/>
<ellipse cx="177.2" cy="259.8" rx="2.86" ry="3.41" fill="#e9b62c"/>
<ellipse cx="158.2" cy="279.3" rx="4.4" ry="2.53" fill="#e9b62c"/>
<ellipse cx="171.2" cy="279.8" rx="4.4" ry="2.2" fill="#e9b62c"/>
<ellipse cx="191.2" cy="265.8" rx="2.86" ry="2.2" fill="#e9b62c" transform="rotate(-10 191.2 265.8)"/>
<ellipse cx="201.2" cy="263.8" rx="3.08" ry="1.76" fill="#e9b62c" transform="rotate(-12 201.2 263.8)"/>
<ellipse cx="212.7" cy="261" rx="3.3" ry="1.76" fill="#e9b62c" transform="rotate(-12 212.7 261)"/>
<ellipse cx="225" cy="258.2" rx="3.74" ry="2.42" fill="#e9b62c" transform="rotate(-5 225 258.2)"/>
<ellipse cx="190.7" cy="272.8" rx="2.75" ry="2.53" fill="#e9b62c"/>
<ellipse cx="197.7" cy="278.6" rx="3.85" ry="2.42" fill="#e9b62c" transform="rotate(10 197.7 278.6)"/>
<ellipse cx="197.6" cy="296.8" rx="4.18" ry="3.41" fill="#e9b62c" transform="rotate(15 197.6 296.8)"/>
<ellipse cx="203.7" cy="290.8" rx="2.2" ry="2.2" fill="#e9b62c"/>
<ellipse cx="166" cy="293.4" rx="3.08" ry="3.41" fill="#e9b62c"/>
<ellipse cx="179.9" cy="291.2" rx="3.08" ry="3.63" fill="#e9b62c"/>
<ellipse cx="172.7" cy="289.8" rx="2.2" ry="1.98" fill="#e9b62c"/>
<ellipse cx="150.9" cy="313.4" rx="2.2" ry="2.75" fill="#e9b62c"/>
<ellipse cx="201.2" cy="318.5" rx="3.19" ry="3.08" fill="#e9b62c" transform="rotate(-30 201.2 318.5)"/>
<ellipse cx="194" cy="324.8" rx="2.42" ry="2.86" fill="#e9b62c" transform="rotate(-20 194 324.8)"/>
<ellipse cx="180.01" cy="277.29" rx="1.6" ry="1.26" fill="#dcc79a" transform="rotate(66.59 180.01 277.29)" opacity="0.8"/>
<ellipse cx="191.54" cy="278.17" rx="1.05" ry="0.64" fill="#e8d9b8" transform="rotate(14.12 191.54 278.17)" opacity="0.8"/>
<ellipse cx="171.86" cy="264.41" rx="1.34" ry="1" fill="#cdb98c" transform="rotate(1.18 171.86 264.41)" opacity="0.8"/>
<ellipse cx="168.63" cy="262.73" rx="1.67" ry="0.87" fill="#dcc79a" transform="rotate(68.57 168.63 262.73)" opacity="0.8"/>
<ellipse cx="154.35" cy="274.05" rx="0.93" ry="0.6" fill="#cdb98c" transform="rotate(78.43 154.35 274.05)" opacity="0.8"/>
<ellipse cx="188" cy="282.96" rx="0.97" ry="0.72" fill="#cdb98c" transform="rotate(28.23 188 282.96)" opacity="0.8"/>
<ellipse cx="175.58" cy="275.62" rx="1" ry="1.26" fill="#c7b4a0" transform="rotate(62.16 175.58 275.62)" opacity="0.8"/>
<ellipse cx="162.84" cy="267.39" rx="0.97" ry="0.7" fill="#e8d9b8" transform="rotate(5.86 162.84 267.39)" opacity="0.8"/>
<ellipse cx="190.32" cy="273.24" rx="1.4" ry="1.1" fill="#e8d9b8" transform="rotate(5.94 190.32 273.24)" opacity="0.8"/>
<ellipse cx="190.38" cy="270.5" rx="1.12" ry="0.94" fill="#dcc79a" transform="rotate(63.42 190.38 270.5)" opacity="0.8"/>
<ellipse cx="160.58" cy="282.41" rx="1.75" ry="0.85" fill="#c7b4a0" transform="rotate(36.39 160.58 282.41)" opacity="0.8"/>
<ellipse cx="166.41" cy="273.04" rx="0.81" ry="0.63" fill="#cdb98c" transform="rotate(16.28 166.41 273.04)" opacity="0.8"/>
<ellipse cx="153.31" cy="264.4" rx="1.62" ry="0.92" fill="#e8d9b8" transform="rotate(46.12 153.31 264.4)" opacity="0.8"/>
<ellipse cx="188.11" cy="260.81" rx="1.55" ry="1.16" fill="#dcc79a" transform="rotate(77.37 188.11 260.81)" opacity="0.8"/>
<ellipse cx="169.95" cy="283.44" rx="1.01" ry="0.96" fill="#cdb98c" transform="rotate(32.64 169.95 283.44)" opacity="0.8"/>
<ellipse cx="165.02" cy="282.03" rx="1.35" ry="0.82" fill="#cdb98c" transform="rotate(28.51 165.02 282.03)" opacity="0.8"/>
<ellipse cx="189.34" cy="274.3" rx="1.52" ry="0.82" fill="#dcc79a" transform="rotate(43.54 189.34 274.3)" opacity="0.8"/>
<ellipse cx="151.29" cy="273.62" rx="1.72" ry="0.62" fill="#e8d9b8" transform="rotate(66.65 151.29 273.62)" opacity="0.8"/>
<ellipse cx="190.79" cy="269.85" rx="1.22" ry="0.64" fill="#dcc79a" transform="rotate(82.45 190.79 269.85)" opacity="0.8"/>
<ellipse cx="189.49" cy="266.69" rx="1.01" ry="1.29" fill="#cdb98c" transform="rotate(50.76 189.49 266.69)" opacity="0.8"/>
<ellipse cx="180.41" cy="278.49" rx="0.91" ry="0.9" fill="#c7b4a0" transform="rotate(13.43 180.41 278.49)" opacity="0.8"/>
<ellipse cx="162.63" cy="269.78" rx="1.8" ry="1.2" fill="#c7b4a0" transform="rotate(87.84 162.63 269.78)" opacity="0.8"/>
<ellipse cx="197.89" cy="275.91" rx="1.12" ry="0.79" fill="#cdb98c" transform="rotate(42.31 197.89 275.91)" opacity="0.8"/>
<ellipse cx="152.97" cy="279.37" rx="1.33" ry="0.73" fill="#e8d9b8" transform="rotate(84.34 152.97 279.37)" opacity="0.8"/>
<ellipse cx="156.55" cy="270.79" rx="1.32" ry="0.98" fill="#dcc79a" transform="rotate(45.25 156.55 270.79)" opacity="0.8"/>
<ellipse cx="188.66" cy="278.15" rx="1.49" ry="1.06" fill="#e8d9b8" transform="rotate(68.37 188.66 278.15)" opacity="0.8"/>
<ellipse cx="176.64" cy="275.38" rx="1.64" ry="0.79" fill="#e8d9b8" transform="rotate(88.29 176.64 275.38)" opacity="0.8"/>
<ellipse cx="197.71" cy="266.84" rx="0.98" ry="1.2" fill="#e8d9b8" transform="rotate(42.69 197.71 266.84)" opacity="0.8"/>
<ellipse cx="164.27" cy="265.12" rx="1.09" ry="0.95" fill="#e8d9b8" transform="rotate(60.63 164.27 265.12)" opacity="0.8"/>
<ellipse cx="165.44" cy="274.75" rx="1.54" ry="1.18" fill="#cdb98c" transform="rotate(31.5 165.44 274.75)" opacity="0.8"/>
<ellipse cx="193.11" cy="275.9" rx="1.78" ry="1.27" fill="#cdb98c" transform="rotate(46.63 193.11 275.9)" opacity="0.8"/>
<ellipse cx="157.53" cy="267.41" rx="1.65" ry="0.8" fill="#c7b4a0" transform="rotate(7.1 157.53 267.41)" opacity="0.8"/>
<ellipse cx="156.11" cy="278.29" rx="1.38" ry="1.07" fill="#e8d9b8" transform="rotate(37.87 156.11 278.29)" opacity="0.8"/>
<ellipse cx="185.18" cy="258.72" rx="0.96" ry="0.91" fill="#cdb98c" transform="rotate(58.51 185.18 258.72)" opacity="0.8"/>
<ellipse cx="187.23" cy="262.69" rx="1.52" ry="1.29" fill="#cdb98c" transform="rotate(88.18 187.23 262.69)" opacity="0.8"/>
<ellipse cx="149.87" cy="261.47" rx="1.12" ry="0.73" fill="#dcc79a" transform="rotate(17.4 149.87 261.47)" opacity="0.8"/>
<ellipse cx="169.02" cy="267.13" rx="1.46" ry="0.65" fill="#e8d9b8" transform="rotate(18.39 169.02 267.13)" opacity="0.8"/>
<ellipse cx="147.04" cy="268.54" rx="1.08" ry="0.89" fill="#e8d9b8" transform="rotate(10.36 147.04 268.54)" opacity="0.8"/>
<ellipse cx="198.11" cy="272.3" rx="1.1" ry="0.81" fill="#e8d9b8" transform="rotate(46.14 198.11 272.3)" opacity="0.8"/>
<ellipse cx="197.79" cy="279.28" rx="1.22" ry="1.17" fill="#e8d9b8" transform="rotate(57.81 197.79 279.28)" opacity="0.8"/>
<ellipse cx="171.78" cy="262.08" rx="1.18" ry="0.93" fill="#cdb98c" transform="rotate(17.92 171.78 262.08)" opacity="0.8"/>
<ellipse cx="179.26" cy="267.13" rx="1.69" ry="0.6" fill="#cdb98c" transform="rotate(9.71 179.26 267.13)" opacity="0.8"/>
<ellipse cx="164.25" cy="280.79" rx="1.36" ry="0.9" fill="#c7b4a0" transform="rotate(87.9 164.25 280.79)" opacity="0.8"/>
<ellipse cx="162.45" cy="283.28" rx="1.18" ry="1.27" fill="#e8d9b8" transform="rotate(82.24 162.45 283.28)" opacity="0.8"/>
<ellipse cx="186.27" cy="265.82" rx="1.05" ry="0.61" fill="#e8d9b8" transform="rotate(85.07 186.27 265.82)" opacity="0.8"/>
<ellipse cx="173.06" cy="265.45" rx="1.28" ry="0.69" fill="#c7b4a0" transform="rotate(55.95 173.06 265.45)" opacity="0.8"/>
<ellipse cx="166.2" cy="112.1" rx="0.7" ry="0.7" fill="#b8a080" opacity="0.9"/>
<ellipse cx="214" cy="142.7" rx="0.7" ry="0.7" fill="#b8a080" opacity="0.9"/>
<ellipse cx="174.3" cy="154.6" rx="0.7" ry="0.7" fill="#b8a080" opacity="0.9"/>
<ellipse cx="176.8" cy="178.6" rx="0.7" ry="0.7" fill="#b8a080" opacity="0.9"/>
<ellipse cx="228.1" cy="228.9" rx="0.7" ry="0.7" fill="#b8a890" opacity="0.9"/>
<ellipse cx="138.2" cy="237" rx="0.7" ry="0.7" fill="#b8a890" opacity="0.9"/>
<ellipse cx="123.9" cy="253.1" rx="0.7" ry="0.7" fill="#b8a080" opacity="0.9"/>
<ellipse cx="50.7" cy="290.2" rx="0.7" ry="0.7" fill="#b8a080" opacity="0.9"/>
<ellipse cx="100" cy="304.4" rx="0.7" ry="0.7" fill="#b8a080" opacity="0.9"/>
<ellipse cx="126.1" cy="303.8" rx="0.7" ry="0.7" fill="#b8a080" opacity="0.9"/>
<ellipse cx="132.9" cy="297.6" rx="0.7" ry="0.7" fill="#b8a080" opacity="0.9"/>
<ellipse cx="156.2" cy="367" rx="0.7" ry="0.7" fill="#b8a890" opacity="0.9"/>
<ellipse cx="263.8" cy="384.7" rx="0.7" ry="0.7" fill="#c8b090" opacity="0.9"/>
<ellipse cx="242.2" cy="398.1" rx="0.6" ry="0.8" fill="#c8b080" opacity="0.9"/>
<ellipse cx="243.8" cy="288" rx="0.7" ry="0.7" fill="#b8a890" opacity="0.9"/>
<ellipse cx="93.8" cy="333.5" rx="0.7" ry="0.7" fill="#b8a890" opacity="0.9"/>
<ellipse cx="102.8" cy="342.4" rx="0.7" ry="0.7" fill="#b8a890" opacity="0.9"/>
<ellipse cx="167.8" cy="165.6" rx="0.7" ry="0.7" fill="#b8a890" opacity="0.9"/>
<ellipse cx="149.8" cy="251" rx="0.7" ry="0.7" fill="#b8a890" opacity="0.9"/>
<ellipse cx="175.7" cy="250.4" rx="0.7" ry="0.7" fill="#b8a080" opacity="0.9"/>
<ellipse cx="187.7" cy="248" rx="0.7" ry="0.7" fill="#b8a080" opacity="0.9"/>
<ellipse cx="181.7" cy="257" rx="0.7" ry="0.7" fill="#b8a080" opacity="0.9"/>
<ellipse cx="176.7" cy="260" rx="0.7" ry="0.7" fill="#b8a080" opacity="0.9"/>
<ellipse cx="190.7" cy="266" rx="0.7" ry="0.7" fill="#b8a080" opacity="0.9"/>
<ellipse cx="200.7" cy="264" rx="0.7" ry="0.7" fill="#b8a080" opacity="0.9"/>
<ellipse cx="190.2" cy="273" rx="0.7" ry="0.7" fill="#b8a080" opacity="0.9"/>
<ellipse cx="212.4" cy="289.6" rx="0.7" ry="0.7" fill="#b8a890" opacity="0.9"/>
<ellipse cx="203.2" cy="291" rx="0.7" ry="0.7" fill="#b8a080" opacity="0.9"/>
<ellipse cx="165.5" cy="293.6" rx="0.7" ry="0.7" fill="#b8a080" opacity="0.9"/>
<ellipse cx="179.4" cy="291.4" rx="0.7" ry="0.7" fill="#b8a080" opacity="0.9"/>
<ellipse cx="172.2" cy="290" rx="0.7" ry="0.7" fill="#b8a080" opacity="0.9"/>
<ellipse cx="150.5" cy="301" rx="0.7" ry="0.7" fill="#b8a890" opacity="0.9"/>
<ellipse cx="150.4" cy="313.6" rx="0.7" ry="0.7" fill="#b8a080" opacity="0.9"/>
<ellipse cx="211.1" cy="312.4" rx="0.7" ry="0.7" fill="#b8a890" opacity="0.9"/>
<ellipse cx="200.7" cy="318.7" rx="0.7" ry="0.7" fill="#b8a080" opacity="0.9"/>
<ellipse cx="193.5" cy="325" rx="0.7" ry="0.7" fill="#b8a080" opacity="0.9"/>
<ellipse cx="132.1" cy="16.6" rx="1" ry="0.8" fill="#c8bcc8"/>
<ellipse cx="144.3" cy="16.2" rx="1" ry="0.8" fill="#d8c0cc"/>
<ellipse cx="154.5" cy="106" rx="1" ry="0.8" fill="#c8bcc8"/>
<ellipse cx="110.1" cy="260.7" rx="1" ry="0.8" fill="#d8c0cc"/>
<ellipse cx="139.5" cy="321" rx="1" ry="0.8" fill="#d8c0cc"/>
</g>
<ellipse cx="141.2" cy="217" rx="2.4" ry="2" fill="#e8e8ff" stroke="#9a9af4" stroke-width="0.6" opacity="0.9"/>
<ellipse cx="141.2" cy="217" rx="1.2" ry="1" fill="none" stroke="#a8a8f6" stroke-width="0.5" opacity="0.9"/>
<ellipse cx="149.7" cy="216.1" rx="4.2" ry="2.8" fill="#e8e8ff" stroke="#9a9af4" stroke-width="0.6" opacity="0.9"/>
<ellipse cx="149.7" cy="216.1" rx="2.1" ry="1.4" fill="none" stroke="#a8a8f6" stroke-width="0.5" opacity="0.9"/>
<ellipse cx="132.7" cy="260.7" rx="3.5" ry="3" fill="#e8e8ff" stroke="#9a9af4" stroke-width="0.6" opacity="0.9"/>
<ellipse cx="132.7" cy="260.7" rx="1.75" ry="1.5" fill="none" stroke="#a8a8f6" stroke-width="0.5" opacity="0.9"/>
<ellipse cx="136" cy="256" rx="2.5" ry="2.2" fill="#e8e8ff" stroke="#9a9af4" stroke-width="0.6" opacity="0.9"/>
<ellipse cx="136" cy="256" rx="1.25" ry="1.1" fill="none" stroke="#a8a8f6" stroke-width="0.5" opacity="0.9"/>
<ellipse cx="166.5" cy="322.5" rx="2.2" ry="2.2" fill="#e8e8ff" stroke="#9a9af4" stroke-width="0.6" opacity="0.9"/>
<ellipse cx="166.5" cy="322.5" rx="1.1" ry="1.1" fill="none" stroke="#a8a8f6" stroke-width="0.5" opacity="0.9"/>
<ellipse cx="146.3" cy="192.5" rx="2.2" ry="2.2" fill="#e8e8ff" stroke="#9a9af4" stroke-width="0.6" opacity="0.9"/>
<ellipse cx="146.3" cy="192.5" rx="1.1" ry="1.1" fill="none" stroke="#a8a8f6" stroke-width="0.5" opacity="0.9"/>
<ellipse cx="196" cy="313" rx="6" ry="3.2" fill="#e8e8ff" stroke="#9a9af4" stroke-width="0.6" opacity="0.9"/>
<ellipse cx="196" cy="313" rx="3" ry="1.6" fill="none" stroke="#a8a8f6" stroke-width="0.5" opacity="0.9"/>
<ellipse cx="186" cy="316" rx="4" ry="3" fill="#e8e8ff" stroke="#9a9af4" stroke-width="0.6" opacity="0.9"/>
<ellipse cx="186" cy="316" rx="2" ry="1.5" fill="none" stroke="#a8a8f6" stroke-width="0.5" opacity="0.9"/>
<ellipse cx="209.5" cy="282.5" rx="2" ry="2.2" fill="#e8e8ff" stroke="#9a9af4" stroke-width="0.6" opacity="0.9"/>
<ellipse cx="209.5" cy="282.5" rx="1" ry="1.1" fill="none" stroke="#a8a8f6" stroke-width="0.5" opacity="0.9"/>
</g>
<line x1="194.3" y1="152" x2="194.3" y2="162.9" stroke="#111" stroke-width="0.75"/>
<line x1="197.3" y1="148.8" x2="203.1" y2="157.1" stroke="#111" stroke-width="0.75"/>
<line x1="119.8" y1="230.3" x2="149.7" y2="265.4" stroke="#111" stroke-width="0.75"/>
<line x1="123.6" y1="268.8" x2="150.7" y2="271.1" stroke="#111" stroke-width="0.75"/>
<line x1="126" y1="281.1" x2="153.5" y2="284.4" stroke="#111" stroke-width="0.75"/>
<line x1="176" y1="240.8" x2="176" y2="250.4" stroke="#111" stroke-width="0.75"/>
<line x1="187.3" y1="240.3" x2="187.3" y2="248" stroke="#111" stroke-width="0.75"/>
<line x1="228.5" y1="268.6" x2="190" y2="278.8" stroke="#111" stroke-width="0.75"/>
<line x1="225.2" y1="298.5" x2="201.2" y2="291.4" stroke="#111" stroke-width="0.75"/>
<line x1="217.7" y1="305.6" x2="196.2" y2="300.5" stroke="#111" stroke-width="0.75"/>
<line x1="165.8" y1="310.6" x2="169.6" y2="294.7" stroke="#111" stroke-width="0.75"/>
<line x1="174.7" y1="328.8" x2="179.7" y2="292.2" stroke="#111" stroke-width="0.75"/>
<line x1="117.3" y1="318.2" x2="126.7" y2="304.8" stroke="#111" stroke-width="0.75"/>
<line x1="117.3" y1="292.9" x2="135" y2="297.2" stroke="#111" stroke-width="0.75"/>
<text transform="translate(114.5,19) scale(0.92,1)" font-family="Liberation Sans, sans-serif" font-weight="bold" font-size="6.7" fill="#141414" stroke="#141414" stroke-width="0.22">G4</text>
<text transform="translate(150.2,18.8) scale(0.92,1)" font-family="Liberation Sans, sans-serif" font-weight="bold" font-size="6.7" fill="#141414" stroke="#141414" stroke-width="0.22">G24</text>
<text transform="translate(143.5,100.2) scale(0.92,1)" font-family="Liberation Sans, sans-serif" font-weight="bold" font-size="6.7" fill="#141414" stroke="#141414" stroke-width="0.22">S34</text>
<text transform="translate(170.3,106.8) scale(0.92,1)" font-family="Liberation Sans, sans-serif" font-weight="bold" font-size="6.7" fill="#141414" stroke="#141414" stroke-width="0.22">T32</text>
<text transform="translate(213.8,134.3) scale(0.92,1)" font-family="Liberation Sans, sans-serif" font-weight="bold" font-size="6.7" fill="#141414" stroke="#141414" stroke-width="0.22">S41</text>
<text transform="translate(157.6,152.8) scale(0.92,1)" font-family="Liberation Sans, sans-serif" font-weight="bold" font-size="6.7" fill="#141414" stroke="#141414" stroke-width="0.22">S30</text>
<text transform="translate(201.6,163.4) scale(0.92,1)" font-family="Liberation Sans, sans-serif" font-weight="bold" font-size="6.7" fill="#141414" stroke="#141414" stroke-width="0.22">T18</text>
<text transform="translate(188.5,169.7) scale(0.92,1)" font-family="Liberation Sans, sans-serif" font-weight="bold" font-size="6.7" fill="#141414" stroke="#141414" stroke-width="0.22">T59</text>
<text transform="translate(150,168.5) scale(0.92,1)" font-family="Liberation Sans, sans-serif" font-weight="bold" font-size="6.7" fill="#141414" stroke="#141414" stroke-width="0.22">S56</text>
<text transform="translate(173.3,193.8) scale(0.92,1)" font-family="Liberation Sans, sans-serif" font-weight="bold" font-size="6.7" fill="#141414" stroke="#141414" stroke-width="0.22">N52</text>
<text transform="translate(128.9,219) scale(0.92,1)" font-family="Liberation Sans, sans-serif" font-weight="bold" font-size="6.7" fill="#141414" stroke="#141414" stroke-width="0.22">N5</text>
<text transform="translate(154.0,211.4) scale(0.92,1)" font-family="Liberation Sans, sans-serif" font-weight="bold" font-size="6.7" fill="#141414" stroke="#141414" stroke-width="0.22">N14</text>
<text transform="translate(112.8,228) scale(0.92,1)" font-family="Liberation Sans, sans-serif" font-weight="bold" font-size="6.7" fill="#141414" stroke="#141414" stroke-width="0.22">R7</text>
<text transform="translate(128.3,231.8) scale(0.92,1)" font-family="Liberation Sans, sans-serif" font-weight="bold" font-size="6.7" fill="#141414" stroke="#141414" stroke-width="0.22">S22</text>
<text transform="translate(97,258.4) scale(0.92,1)" font-family="Liberation Sans, sans-serif" font-weight="bold" font-size="6.7" fill="#141414" stroke="#141414" stroke-width="0.22">Q6</text>
<text transform="translate(111.3,271.5) scale(0.92,1)" font-family="Liberation Sans, sans-serif" font-weight="bold" font-size="6.7" fill="#141414" stroke="#141414" stroke-width="0.22">R36</text>
<text transform="translate(110.3,283) scale(0.92,1)" font-family="Liberation Sans, sans-serif" font-weight="bold" font-size="6.7" fill="#141414" stroke="#141414" stroke-width="0.22">M57</text>
<text transform="translate(41.7,282.5) scale(0.92,1)" font-family="Liberation Sans, sans-serif" font-weight="bold" font-size="6.7" fill="#141414" stroke="#141414" stroke-width="0.22">E28</text>
<text transform="translate(229.5,221.2) scale(0.92,1)" font-family="Liberation Sans, sans-serif" font-weight="bold" font-size="6.7" fill="#141414" stroke="#141414" stroke-width="0.22">R11</text>
<text transform="translate(166.6,238.6) scale(0.92,1)" font-family="Liberation Sans, sans-serif" font-weight="bold" font-size="6.7" fill="#141414" stroke="#141414" stroke-width="0.22">Q45</text>
<text transform="translate(181.2,237.8) scale(0.92,1)" font-family="Liberation Sans, sans-serif" font-weight="bold" font-size="6.7" fill="#141414" stroke="#141414" stroke-width="0.22">Q12</text>
<text transform="translate(230,271.2) scale(0.92,1)" font-family="Liberation Sans, sans-serif" font-weight="bold" font-size="6.7" fill="#141414" stroke="#141414" stroke-width="0.22">K16</text>
<text transform="translate(247.8,281.5) scale(0.92,1)" font-family="Liberation Sans, sans-serif" font-weight="bold" font-size="6.7" fill="#141414" stroke="#141414" stroke-width="0.22">Q35</text>
<text transform="translate(225.8,301) scale(0.92,1)" font-family="Liberation Sans, sans-serif" font-weight="bold" font-size="6.7" fill="#141414" stroke="#141414" stroke-width="0.22">L9</text>
<text transform="translate(218.2,308.6) scale(0.92,1)" font-family="Liberation Sans, sans-serif" font-weight="bold" font-size="6.7" fill="#141414" stroke="#141414" stroke-width="0.22">E42</text>
<text transform="translate(218,322.5) scale(0.92,1)" font-family="Liberation Sans, sans-serif" font-weight="bold" font-size="6.7" fill="#141414" stroke="#141414" stroke-width="0.22">A10</text>
<text transform="translate(163.2,316.4) scale(0.92,1)" font-family="Liberation Sans, sans-serif" font-weight="bold" font-size="6.7" fill="#141414" stroke="#141414" stroke-width="0.22">I21</text>
<text transform="translate(171.6,334.8) scale(0.92,1)" font-family="Liberation Sans, sans-serif" font-weight="bold" font-size="6.7" fill="#141414" stroke="#141414" stroke-width="0.22">K17</text>
<text transform="translate(132.5,334.2) scale(0.92,1)" font-family="Liberation Sans, sans-serif" font-weight="bold" font-size="6.7" fill="#141414" stroke="#141414" stroke-width="0.22">K23</text>
<text transform="translate(104.5,322) scale(0.92,1)" font-family="Liberation Sans, sans-serif" font-weight="bold" font-size="6.7" fill="#141414" stroke="#141414" stroke-width="0.22">E20</text>
<text transform="translate(103.6,294.6) scale(0.92,1)" font-family="Liberation Sans, sans-serif" font-weight="bold" font-size="6.7" fill="#141414" stroke="#141414" stroke-width="0.22">Q19</text>
<text transform="translate(84.5,298.6) scale(0.92,1)" font-family="Liberation Sans, sans-serif" font-weight="bold" font-size="6.7" fill="#141414" stroke="#141414" stroke-width="0.22">E61</text>
<text transform="translate(77.5,330.2) scale(0.92,1)" font-family="Liberation Sans, sans-serif" font-weight="bold" font-size="6.7" fill="#141414" stroke="#141414" stroke-width="0.22">K27</text>
<text transform="translate(105.5,354.2) scale(0.92,1)" font-family="Liberation Sans, sans-serif" font-weight="bold" font-size="6.7" fill="#141414" stroke="#141414" stroke-width="0.22">A33</text>
<text transform="translate(137.2,377.8) scale(0.92,1)" font-family="Liberation Sans, sans-serif" font-weight="bold" font-size="6.7" fill="#141414" stroke="#141414" stroke-width="0.22">A2</text>
<text transform="translate(257.5,375) scale(0.92,1)" font-family="Liberation Sans, sans-serif" font-weight="bold" font-size="6.7" fill="#141414" stroke="#141414" stroke-width="0.22">K62</text>
<rect x="36.6" y="5.5" width="237.3" height="401.2" fill="none" stroke="#111" stroke-width="1.7"/>
<line x1="273.9" y1="25.8" x2="278.1" y2="25.8" stroke="#111" stroke-width="1.1"/>
<text transform="translate(284.2,25.8) rotate(-90)" text-anchor="middle" font-family="Liberation Sans, sans-serif" font-weight="bold" font-size="6.2" fill="#1a1a1a">110</text>
<line x1="273.9" y1="135.7" x2="278.1" y2="135.7" stroke="#111" stroke-width="1.1"/>
<text transform="translate(284.2,135.7) rotate(-90)" text-anchor="middle" font-family="Liberation Sans, sans-serif" font-weight="bold" font-size="6.2" fill="#1a1a1a">115</text>
<line x1="273.9" y1="243.4" x2="278.1" y2="243.4" stroke="#111" stroke-width="1.1"/>
<text transform="translate(284.2,243.4) rotate(-90)" text-anchor="middle" font-family="Liberation Sans, sans-serif" font-weight="bold" font-size="6.2" fill="#1a1a1a">120</text>
<line x1="273.9" y1="352.2" x2="278.1" y2="352.2" stroke="#111" stroke-width="1.1"/>
<text transform="translate(284.2,352.2) rotate(-90)" text-anchor="middle" font-family="Liberation Sans, sans-serif" font-weight="bold" font-size="6.2" fill="#1a1a1a">125</text>
<line x1="51.9" y1="406.7" x2="51.9" y2="411.3" stroke="#111" stroke-width="1.2"/>
<text x="51.9" y="416.9" text-anchor="middle" font-family="Liberation Sans, sans-serif" font-weight="bold" font-size="6.5" fill="#1a1a1a">8.6</text>
<line x1="107.57" y1="406.7" x2="107.57" y2="411.3" stroke="#111" stroke-width="1.2"/>
<text x="107.57" y="416.9" text-anchor="middle" font-family="Liberation Sans, sans-serif" font-weight="bold" font-size="6.5" fill="#1a1a1a">8.4</text>
<line x1="163.24" y1="406.7" x2="163.24" y2="411.3" stroke="#111" stroke-width="1.2"/>
<text x="163.24" y="416.9" text-anchor="middle" font-family="Liberation Sans, sans-serif" font-weight="bold" font-size="6.5" fill="#1a1a1a">8.2</text>
<line x1="218.91" y1="406.7" x2="218.91" y2="411.3" stroke="#111" stroke-width="1.2"/>
<text x="218.91" y="416.9" text-anchor="middle" font-family="Liberation Sans, sans-serif" font-weight="bold" font-size="6.5" fill="#1a1a1a">8.0</text>
<text x="273.6" y="416.9" text-anchor="middle" font-family="Liberation Sans, sans-serif" font-weight="bold" font-size="6.5" fill="#1a1a1a">7.8</text>
<text transform="translate(119.6,443.2) scale(1.1,1)" font-family="Liberation Serif, serif" font-size="19.5" fill="#222">δ</text>
<text transform="translate(130.6,437.4) scale(1.2,1)" font-family="Liberation Sans, sans-serif" font-weight="bold" font-size="10" fill="#222">1</text>
<text transform="translate(136.4,443.1) scale(1.236,1)" font-family="Liberation Sans, sans-serif" font-weight="bold" font-size="16" fill="#222">H <tspan letter-spacing="0.35">(ppm)</tspan></text>
<g transform="translate(311.2,239) rotate(-90)"><text x="-0.3" y="0.4" font-family="Liberation Serif, serif" font-size="20" fill="#222">δ</text><text x="10.8" y="-6.8" font-family="Liberation Sans, sans-serif" font-weight="bold" font-size="10" fill="#222" letter-spacing="-0.4">15</text><text x="22.4" y="0" font-family="Liberation Sans, sans-serif" font-weight="bold" font-size="19.5" fill="#222" >N <tspan letter-spacing="0.65">(ppm)</tspan></text></g>
<defs>
<clipPath id="clA10"><rect x="356" y="25.7" width="131.3" height="85.8"/></clipPath>
<clipPath id="clR11"><rect x="495" y="25.7" width="136.7" height="85.4"/></clipPath>
<clipPath id="clI21"><rect x="355" y="119.5" width="131.1" height="86.1"/></clipPath>
<clipPath id="clK23"><rect x="495" y="118.7" width="136.3" height="85.8"/></clipPath>
<clipPath id="clK27"><rect x="355.2" y="212.2" width="130.8" height="87.1"/></clipPath>
</defs>
<g clip-path="url(#clA10)">
<path d="M428.05 71 L426.89 83.45 L421.42 94.12 L413.81 102.67 L404.02 107.06 L393.78 105.66 L384.41 101.37 L375.43 94.88 L371.27 83.21 L369.55 71 L369.83 58.15 L376.02 47.72 L383.55 38.82 L393.63 35.31 L404.03 34.9 L413.34 40.33 L421.84 47.45 L427.52 58.26 Z M428.05 70.99 L426.88 83.44 L421.42 94.11 L413.81 102.65 L404.02 107.04 L393.79 105.64 L384.42 101.35 L375.45 94.87 L371.29 83.2 L369.57 70.99 L369.84 58.15 L376.03 47.72 L383.56 38.83 L393.64 35.32 L404.03 34.91 L413.34 40.34 L421.84 47.45 L427.52 58.26 Z M428.02 70.97 L426.86 83.39 L421.41 94.03 L413.81 102.56 L404.05 106.94 L393.83 105.54 L384.48 101.26 L375.53 94.79 L371.37 83.14 L369.66 70.97 L369.93 58.15 L376.11 47.74 L383.62 38.87 L393.69 35.36 L404.05 34.96 L413.34 40.37 L421.83 47.47 L427.49 58.26 Z M427.97 70.9 L426.81 83.27 L421.38 93.86 L413.82 102.35 L404.1 106.72 L393.93 105.32 L384.62 101.06 L375.71 94.62 L371.57 83.02 L369.87 70.9 L370.14 58.14 L376.29 47.78 L383.77 38.95 L393.78 35.46 L404.1 35.05 L413.35 40.44 L421.8 47.51 L427.44 58.25 Z M427.87 70.79 L426.72 83.06 L421.33 93.58 L413.83 102 L404.18 106.33 L394.09 104.95 L384.85 100.72 L376.01 94.33 L371.91 82.82 L370.22 70.79 L370.48 58.13 L376.59 47.84 L384.01 39.08 L393.95 35.62 L404.19 35.22 L413.36 40.57 L421.75 47.58 L427.35 58.24 Z M427.72 70.63 L426.59 82.76 L421.26 93.15 L413.85 101.47 L404.31 105.75 L394.34 104.39 L385.21 100.2 L376.46 93.89 L372.41 82.52 L370.74 70.63 L371 58.11 L377.03 47.95 L384.37 39.28 L394.19 35.86 L404.32 35.47 L413.39 40.75 L421.67 47.68 L427.21 58.22 Z M427.52 70.4 L426.41 82.34 L421.16 92.56 L413.87 100.75 L404.49 104.96 L394.68 103.62 L385.69 99.5 L377.09 93.29 L373.1 82.1 L371.45 70.4 L371.71 58.09 L377.65 48.09 L384.87 39.56 L394.53 36.2 L404.49 35.81 L413.42 41.01 L421.57 47.83 L427.01 58.2 Z M427.26 70.11 L426.17 81.78 L421.04 91.79 L413.9 99.8 L404.72 103.92 L395.12 102.61 L386.32 98.58 L377.9 92.5 L374 81.55 L372.39 70.11 L372.64 58.06 L378.45 48.27 L385.52 39.93 L394.98 36.64 L404.72 36.26 L413.46 41.35 L421.44 48.02 L426.76 58.16 Z M426.93 69.73 L425.87 81.09 L420.88 90.82 L413.94 98.61 L405.01 102.62 L395.67 101.34 L387.12 97.43 L378.93 91.51 L375.13 80.87 L373.57 69.73 L373.82 58.02 L379.47 48.5 L386.33 40.39 L395.53 37.19 L405.01 36.82 L413.5 41.77 L421.27 48.25 L426.45 58.12 Z M426.53 69.28 L425.5 80.24 L420.69 89.64 L413.98 97.16 L405.36 101.03 L396.34 99.8 L388.09 96.01 L380.18 90.31 L376.52 80.03 L375.01 69.28 L375.24 57.97 L380.7 48.78 L387.33 40.95 L396.21 37.86 L405.37 37.5 L413.57 42.28 L421.06 48.54 L426.06 58.07 Z M426.05 68.74 L425.07 79.23 L420.45 88.22 L414.04 95.42 L405.78 99.13 L397.15 97.95 L389.25 94.33 L381.68 88.87 L378.17 79.02 L376.72 68.74 L376.95 57.91 L382.17 49.12 L388.52 41.62 L397.03 38.66 L405.79 38.32 L413.64 42.9 L420.81 48.89 L425.6 58.01 Z M425.48 68.1 L424.55 78.05 L420.18 86.56 L414.1 93.39 L406.28 96.9 L398.1 95.78 L390.61 92.35 L383.44 87.17 L380.11 77.85 L378.74 68.1 L378.96 57.85 L383.91 49.51 L389.92 42.41 L397.98 39.61 L406.28 39.28 L413.72 43.62 L420.52 49.3 L425.06 57.93 Z M424.83 67.37 L423.96 76.67 L419.87 84.64 L414.17 91.03 L406.85 94.32 L399.19 93.27 L392.18 90.06 L385.47 85.21 L382.35 76.49 L381.07 67.37 L381.27 57.77 L385.91 49.97 L391.54 43.32 L399.08 40.7 L406.86 40.39 L413.82 44.45 L420.19 49.77 L424.43 57.85 Z M424.08 66.53 L423.28 75.1 L419.51 82.45 L414.26 88.34 L407.51 91.37 L400.45 90.4 L393.98 87.44 L387.79 82.98 L384.92 74.93 L383.74 66.53 L383.92 57.68 L388.19 50.49 L393.39 44.36 L400.34 41.94 L407.51 41.66 L413.93 45.4 L419.8 50.3 L423.72 57.75 Z M423.24 65.58 L422.52 73.33 L419.1 79.97 L414.36 85.29 L408.25 88.03 L401.86 87.16 L396.01 84.48 L390.42 80.45 L387.82 73.18 L386.75 65.58 L386.92 57.58 L390.78 51.08 L395.48 45.54 L401.77 43.35 L408.25 43.1 L414.06 46.48 L419.37 50.91 L422.91 57.65 Z M422.3 64.51 L421.66 71.34 L418.65 77.19 L414.46 81.88 L409.08 84.29 L403.45 83.52 L398.3 81.17 L393.36 77.61 L391.07 71.21 L390.13 64.51 L390.28 57.46 L393.68 51.74 L397.82 46.86 L403.37 44.93 L409.08 44.71 L414.2 47.69 L418.88 51.59 L422.01 57.52 Z M421.24 63.32 L420.7 69.13 L418.14 74.1 L414.58 78.08 L410 80.13 L405.22 79.48 L400.83 77.48 L396.64 74.46 L394.69 69.01 L393.89 63.32 L394.01 57.34 L396.91 52.47 L400.43 48.33 L405.15 46.69 L410.01 46.5 L414.36 49.03 L418.34 52.35 L421 57.39 Z M420.08 62.01 L419.64 66.68 L417.58 70.68 L414.71 73.89 L411.03 75.53 L407.17 75.01 L403.64 73.4 L400.26 70.97 L398.69 66.59 L398.04 62.01 L398.14 57.2 L400.48 53.28 L403.31 49.95 L407.11 48.63 L411.03 48.48 L414.54 50.52 L417.74 53.18 L419.88 57.24 Z M418.8 60.57 L418.48 64 L416.97 66.93 L414.86 69.27 L412.15 70.48 L409.31 70.1 L406.72 68.92 L404.23 67.14 L403.08 63.93 L402.6 60.57 L402.68 57.04 L404.39 54.18 L406.48 51.73 L409.27 50.77 L412.15 50.66 L414.73 52.15 L417.08 54.1 L418.66 57.07 Z M417.41 59 L417.21 61.06 L416.3 62.82 L415.02 64.23 L413.38 64.96 L411.66 64.73 L410.09 64.02 L408.58 62.95 L407.88 61.02 L407.59 59 L407.64 56.88 L408.68 55.15 L409.94 53.68 L411.63 53.1 L413.38 53.03 L414.94 53.93 L416.37 55.11 L417.32 56.9 Z" fill="none" stroke="#2a66f0" stroke-width="0.85" stroke-linejoin="round"/>
<path d="M376 50 C368 56 364.5 64 366 72 C367 80 369 88 376 95" fill="none" stroke="#2a66f0" stroke-width="0.85"/>
<path d="M377.2 52 C370 57 366.5 65 368 72 C369 80 370.5 87 377 93.5" fill="none" stroke="#2a66f0" stroke-width="0.85"/>
<path d="M378.4 54 C372 58 368.5 66 370 72 C371 80 372 86 378 92" fill="none" stroke="#2a66f0" stroke-width="0.85"/>
<path d="M379.6 56 C374 59 370.5 67 372 72 C373 80 373.5 85 379 90.5" fill="none" stroke="#2a66f0" stroke-width="0.85"/>
<path d="M439.16 66.15 L430.23 77.01 L416.61 84.34 L400.56 82.38 L386.24 76.33 L379.1 64.29 L380.65 51.26 L388.01 39.51 L402.82 34.42 L418.78 33.93 L431.68 41.69 L439.05 53.07 Z M436.59 65.14 L428.65 74.93 L416.55 81.53 L402.28 79.77 L389.55 74.32 L383.21 63.47 L384.58 51.73 L391.13 41.14 L404.29 36.55 L418.47 36.11 L429.95 43.11 L436.49 53.36 Z M434.02 64.14 L427.07 72.85 L416.49 78.73 L404.01 77.16 L392.87 72.31 L387.32 62.65 L388.52 52.19 L394.25 42.77 L405.76 38.69 L418.17 38.29 L428.21 44.52 L433.94 53.65 Z M431.45 63.14 L425.5 70.77 L416.43 75.93 L405.73 74.55 L396.18 70.3 L391.43 61.83 L392.46 52.66 L397.36 44.4 L407.23 40.82 L417.87 40.48 L426.47 45.94 L431.38 53.94 Z M428.88 62.13 L423.92 68.7 L416.36 73.13 L407.45 71.94 L399.5 68.29 L395.54 61.01 L396.4 53.13 L400.48 46.03 L408.7 42.96 L417.56 42.66 L424.73 47.35 L428.82 54.23 Z M426.31 61.13 L422.34 66.62 L416.3 70.32 L409.17 69.33 L402.81 66.28 L399.65 60.19 L400.33 53.6 L403.6 47.67 L410.18 45.09 L417.26 44.84 L422.99 48.77 L426.26 54.52 Z M423.74 60.13 L420.77 64.54 L416.24 67.52 L410.9 66.72 L406.13 64.27 L403.76 59.37 L404.27 54.07 L406.72 49.3 L411.65 47.23 L416.96 47.02 L421.25 50.18 L423.7 54.81 Z M421.17 59.12 L419.19 62.46 L416.18 64.72 L412.62 64.12 L409.45 62.26 L407.87 58.55 L408.21 54.54 L409.84 50.93 L413.12 49.36 L416.65 49.21 L419.51 51.6 L421.15 55.1 Z" fill="none" stroke="#e6222c" stroke-width="1.1" stroke-linejoin="round"/>
<path d="M356 63 L359 70 L367.5 72 L359.5 75 L357.5 94 M356 66 L357.6 71 L357.6 76 L356 90" fill="none" stroke="#e6222c" stroke-width="0.8"/>
</g>
<g clip-path="url(#clR11)">
<path d="M588.9 69.2 L586.92 77.95 L581.17 86.01 L570.71 91.24 L558.84 94.32 L546.13 94.44 L534.6 90.87 L524.52 85.6 L517.93 77.99 L515.36 69.2 L519.04 60.69 L524.87 53 L534.7 47.66 L546.04 43.62 L558.91 43.8 L570.25 47.72 L581.27 52.33 L587.76 60.24 Z M587.15 69.05 L585.34 77.61 L580.05 85.49 L570.43 90.6 L559.52 93.62 L547.83 93.74 L537.22 90.24 L527.96 85.09 L521.9 77.65 L519.54 69.05 L522.92 60.73 L528.28 53.21 L537.32 47.98 L547.75 44.04 L559.58 44.21 L570.01 48.05 L580.14 52.56 L586.11 60.28 Z M585.41 68.9 L583.76 77.27 L578.93 84.97 L570.16 89.97 L560.2 92.92 L549.53 93.03 L539.85 89.61 L531.4 84.58 L525.87 77.3 L523.71 68.9 L526.8 60.77 L531.69 53.42 L539.94 48.31 L549.46 44.45 L560.25 44.62 L569.77 48.37 L579.01 52.78 L584.46 60.33 Z M583.67 68.75 L582.17 76.92 L577.81 84.45 L569.88 89.33 L560.87 92.21 L551.23 92.32 L542.48 88.98 L534.84 84.07 L529.84 76.96 L527.89 68.75 L530.68 60.8 L535.1 53.62 L542.56 48.63 L551.17 44.86 L560.93 45.03 L569.53 48.69 L577.89 53 L582.81 60.38 Z M581.93 68.6 L580.59 76.58 L576.69 83.93 L569.6 88.69 L561.55 91.51 L552.93 91.62 L545.11 88.35 L538.28 83.56 L533.81 76.61 L532.06 68.6 L534.56 60.84 L538.51 53.83 L545.18 48.96 L552.87 45.28 L561.6 45.44 L569.28 49.02 L576.76 53.22 L581.16 60.43 Z M580.19 68.45 L579.01 76.24 L575.57 83.4 L569.32 88.06 L562.23 90.8 L554.63 90.91 L547.74 87.73 L541.72 83.04 L537.78 76.27 L536.24 68.45 L538.44 60.88 L541.93 54.04 L547.8 49.28 L554.58 45.69 L562.27 45.85 L569.04 49.34 L575.63 53.44 L579.51 60.47 Z M578.45 68.3 L577.43 75.89 L574.45 82.88 L569.04 87.42 L562.9 90.1 L556.33 90.2 L550.37 87.1 L545.16 82.53 L541.75 75.93 L540.42 68.3 L542.32 60.92 L545.34 54.25 L550.42 49.61 L556.29 46.11 L562.94 46.26 L568.8 49.67 L574.5 53.67 L577.86 60.52 Z M576.7 68.15 L575.84 75.55 L573.33 82.36 L568.76 86.79 L563.58 89.39 L558.03 89.5 L552.99 86.47 L548.59 82.02 L545.72 75.58 L544.59 68.15 L546.2 60.95 L548.75 54.45 L553.04 49.93 L557.99 46.52 L563.61 46.67 L568.56 49.99 L573.37 53.89 L576.21 60.57 Z M574.96 68 L574.26 75.21 L572.21 81.84 L568.49 86.15 L564.26 88.69 L559.73 88.79 L555.62 85.84 L552.03 81.51 L549.69 75.24 L548.77 68 L550.08 60.99 L552.16 54.66 L555.66 50.26 L559.7 46.93 L564.28 47.08 L568.32 50.31 L572.25 54.11 L574.56 60.62 Z" fill="none" stroke="#2a66f0" stroke-width="0.9" stroke-linejoin="round"/>
<path d="M583.62 70.4 L583.59 82.94 L580.71 94.98 L574.94 103.3 L567.68 104.6 L560.91 104.69 L554.1 101.94 L548.34 94.31 L544.95 82.98 L545.13 70.4 L545.18 57.97 L548.35 46.5 L554.01 38.57 L560.87 35.69 L567.81 34.84 L574.79 37.97 L580.06 46.79 L583.12 58.17 Z M583.59 70.39 L583.57 82.9 L580.69 94.92 L574.93 103.22 L567.68 104.51 L560.93 104.6 L554.14 101.86 L548.39 94.25 L545 82.94 L545.19 70.39 L545.24 57.99 L548.4 46.55 L554.04 38.64 L560.89 35.76 L567.82 34.91 L574.78 38.03 L580.03 46.84 L583.1 58.18 Z M583.5 70.36 L583.48 82.79 L580.62 94.73 L574.9 102.97 L567.7 104.26 L560.99 104.35 L554.24 101.63 L548.53 94.07 L545.17 82.83 L545.35 70.36 L545.4 58.05 L548.54 46.68 L554.15 38.82 L560.95 35.96 L567.83 35.12 L574.75 38.22 L579.97 46.97 L583.02 58.24 Z M583.36 70.32 L583.34 82.61 L580.51 94.41 L574.85 102.56 L567.73 103.83 L561.09 103.93 L554.41 101.23 L548.76 93.76 L545.43 82.64 L545.61 70.32 L545.66 58.14 L548.77 46.9 L554.32 39.13 L561.05 36.3 L567.86 35.47 L574.7 38.53 L579.87 47.18 L582.88 58.33 Z M583.17 70.26 L583.14 82.35 L580.36 93.97 L574.78 101.99 L567.77 103.24 L561.23 103.33 L554.65 100.68 L549.08 93.32 L545.81 82.39 L545.99 70.26 L546.03 58.27 L549.09 47.2 L554.56 39.56 L561.19 36.78 L567.9 35.96 L574.63 38.97 L579.73 47.49 L582.69 58.45 Z M582.91 70.18 L582.89 82.02 L580.16 93.4 L574.69 101.25 L567.82 102.48 L561.41 102.57 L554.96 99.97 L549.5 92.77 L546.29 82.05 L546.47 70.18 L546.51 58.44 L549.51 47.6 L554.87 40.11 L561.37 37.39 L567.94 36.58 L574.55 39.54 L579.54 47.87 L582.45 58.62 Z M582.6 70.08 L582.58 81.62 L579.92 92.7 L574.58 100.35 L567.88 101.55 L561.63 101.63 L555.34 99.1 L550.02 92.08 L546.88 81.65 L547.05 70.08 L547.1 58.64 L550.03 48.08 L555.25 40.79 L561.59 38.13 L568 37.35 L574.45 40.23 L579.31 48.35 L582.15 58.82 Z M582.24 69.96 L582.22 81.14 L579.63 91.88 L574.46 99.29 L567.95 100.44 L561.89 100.53 L555.78 98.08 L550.62 91.28 L547.58 81.17 L547.75 69.96 L547.79 58.88 L550.63 48.65 L555.7 41.59 L561.85 39.01 L568.07 38.26 L574.32 41.04 L579.05 48.91 L581.8 59.05 Z M581.81 69.82 L581.79 80.59 L579.3 90.92 L574.31 98.06 L568.04 99.17 L562.19 99.25 L556.3 96.9 L551.32 90.35 L548.39 80.62 L548.55 69.82 L548.59 59.16 L551.33 49.31 L556.22 42.51 L562.15 40.03 L568.15 39.3 L574.18 41.99 L578.74 49.56 L581.39 59.32 Z M581.34 69.67 L581.32 79.96 L578.93 89.85 L574.15 96.67 L568.13 97.73 L562.53 97.81 L556.88 95.56 L552.11 89.3 L549.3 79.99 L549.45 69.67 L549.49 59.47 L552.12 50.06 L556.81 43.55 L562.49 41.19 L568.24 40.49 L574.02 43.06 L578.39 50.3 L580.93 59.63 Z M580.8 69.5 L580.78 79.26 L578.51 88.64 L573.96 95.11 L568.24 96.12 L562.91 96.2 L557.54 94.06 L552.99 88.12 L550.32 79.29 L550.47 69.5 L550.51 59.83 L553 50.89 L557.46 44.72 L562.87 42.48 L568.34 41.81 L573.84 44.25 L577.99 51.12 L580.41 59.97 Z M580.21 69.31 L580.19 78.49 L578.05 87.31 L573.75 93.4 L568.35 94.35 L563.32 94.41 L558.26 92.4 L553.97 86.82 L551.45 78.52 L551.59 69.31 L551.62 60.21 L553.98 51.82 L558.19 46.01 L563.29 43.9 L568.45 43.28 L573.64 45.57 L577.56 52.03 L579.84 60.35 Z M579.56 69.1 L579.55 77.65 L577.54 85.85 L573.53 91.51 L568.48 92.4 L563.78 92.46 L559.05 90.59 L555.04 85.39 L552.69 77.67 L552.81 69.1 L552.85 60.64 L555.05 52.83 L558.98 47.43 L563.75 45.46 L568.58 44.88 L573.42 47.01 L577.09 53.02 L579.22 60.77 Z M578.86 68.88 L578.84 76.73 L576.99 84.26 L573.29 89.47 L568.62 90.28 L564.28 90.34 L559.91 88.62 L556.21 83.84 L554.03 76.75 L554.15 68.88 L554.18 61.1 L556.21 53.92 L559.85 48.96 L564.25 47.16 L568.71 46.63 L573.19 48.58 L576.57 54.11 L578.54 61.22 Z M578.1 68.64 L578.09 75.73 L576.4 82.55 L573.02 87.26 L568.77 87.99 L564.82 88.04 L560.83 86.49 L557.46 82.17 L555.48 75.75 L555.59 68.64 L555.62 61.6 L557.47 55.11 L560.78 50.62 L564.79 48.99 L568.85 48.51 L572.93 50.28 L576.02 55.27 L577.81 61.71 Z M577.28 68.38 L577.27 74.67 L575.76 80.71 L572.74 84.88 L568.94 85.53 L565.4 85.58 L561.83 84.2 L558.81 80.38 L557.04 74.69 L557.13 68.38 L557.16 62.14 L558.82 56.38 L561.78 52.4 L565.37 50.96 L569.01 50.53 L572.66 52.1 L575.42 56.53 L577.03 62.24 Z M576.41 68.1 L576.4 73.53 L575.08 78.74 L572.44 82.35 L569.11 82.91 L566.01 82.95 L562.89 81.76 L560.25 78.45 L558.7 73.54 L558.79 68.1 L558.81 62.71 L560.26 57.74 L562.85 54.31 L565.99 53.06 L569.17 52.69 L572.37 54.05 L574.78 57.87 L576.18 62.8 Z M575.48 67.8 L575.47 72.31 L574.35 76.65 L572.11 79.64 L569.3 80.11 L566.67 80.15 L564.03 79.16 L561.79 76.41 L560.48 72.33 L560.55 67.8 L560.57 63.33 L561.8 59.19 L563.99 56.34 L566.65 55.3 L569.35 55 L572.05 56.12 L574.1 59.3 L575.29 63.39 Z M574.5 67.48 L574.49 71.03 L573.58 74.43 L571.77 76.78 L569.49 77.15 L567.37 77.17 L565.23 76.4 L563.42 74.24 L562.36 71.04 L562.41 67.48 L562.43 63.97 L563.42 60.73 L565.2 58.49 L567.35 57.68 L569.53 57.44 L571.72 58.32 L573.38 60.81 L574.34 64.03 Z M573.45 67.15 L573.45 69.67 L572.77 72.08 L571.41 73.75 L569.7 74.01 L568.1 74.03 L566.5 73.48 L565.14 71.95 L564.34 69.67 L564.39 67.15 L564.4 64.66 L565.14 62.36 L566.48 60.77 L568.1 60.19 L569.73 60.02 L571.37 60.64 L572.62 62.41 L573.34 64.7 Z M572.36 66.8 L572.35 68.23 L571.91 69.61 L571.03 70.56 L569.92 70.71 L568.88 70.72 L567.84 70.4 L566.96 69.53 L566.44 68.24 L566.47 66.8 L566.47 65.38 L566.96 64.07 L567.83 63.16 L568.88 62.83 L569.94 62.74 L571.01 63.09 L571.81 64.1 L572.28 65.4 Z" fill="none" stroke="#2a66f0" stroke-width="0.85" stroke-linejoin="round"/>
<path d="M590.4 70.62 L585.74 82.22 L576.19 89.59 L564.74 89.12 L554.26 84.32 L547.99 73.62 L547.36 60.93 L553.17 50.28 L562.33 43.72 L573.29 42.3 L583.72 47.31 L589.26 58.26 Z M587.82 69.98 L583.77 79.97 L575.49 86.31 L565.56 85.91 L556.46 81.78 L551.02 72.57 L550.47 61.64 L555.52 52.47 L563.46 46.83 L572.97 45.6 L582.02 49.91 L586.83 59.34 Z M585.24 69.34 L581.81 77.71 L574.79 83.04 L566.37 82.7 L558.66 79.24 L554.05 71.51 L553.58 62.35 L557.86 54.66 L564.59 49.93 L572.66 48.91 L580.32 52.52 L584.4 60.42 Z M582.66 68.71 L579.85 75.46 L574.09 79.76 L567.18 79.49 L560.86 76.69 L557.08 70.46 L556.7 63.06 L560.2 56.86 L565.73 53.04 L572.34 52.21 L578.63 55.12 L581.97 61.51 Z M580.08 68.07 L577.88 73.21 L573.38 76.48 L567.99 76.28 L563.06 74.15 L560.11 69.4 L559.81 63.77 L562.55 59.05 L566.86 56.14 L572.02 55.51 L576.93 57.73 L579.54 62.59 Z M577.5 67.43 L575.92 70.96 L572.68 73.21 L568.81 73.06 L565.26 71.6 L563.14 68.35 L562.92 64.48 L564.89 61.24 L567.99 59.25 L571.7 58.81 L575.23 60.34 L577.11 63.67 Z M574.92 66.8 L573.96 68.71 L571.98 69.93 L569.62 69.85 L567.46 69.06 L566.16 67.29 L566.03 65.2 L567.23 63.43 L569.12 62.35 L571.39 62.12 L573.54 62.94 L574.68 64.75 Z" fill="none" stroke="#e6222c" stroke-width="1.15" stroke-linejoin="round"/>
</g>
<g clip-path="url(#clI21)">
<path d="M441.59 168.5 L440.8 180.86 L436.13 192.06 L428.24 199.87 L418.67 202.66 L408.96 203.9 L399.75 199.45 L392.16 191.53 L387.83 180.48 L386.89 168.5 L387.72 156.47 L392.01 145.3 L399.91 137.89 L409.15 134.48 L418.65 134.51 L428.29 137.02 L435.71 145.39 L439.67 156.66 Z M441.51 168.5 L440.72 180.83 L436.06 192 L428.19 199.79 L418.64 202.58 L408.95 203.82 L399.77 199.37 L392.2 191.47 L387.88 180.45 L386.95 168.5 L387.77 156.49 L392.04 145.35 L399.93 137.96 L409.15 134.56 L418.62 134.59 L428.24 137.1 L435.64 145.45 L439.59 156.68 Z M441.27 168.49 L440.48 180.74 L435.86 191.82 L428.04 199.56 L418.57 202.33 L408.95 203.56 L399.83 199.15 L392.32 191.3 L388.03 180.36 L387.1 168.49 L387.92 156.57 L392.16 145.51 L399.98 138.17 L409.14 134.79 L418.54 134.82 L428.09 137.31 L435.44 145.6 L439.36 156.76 Z M440.86 168.48 L440.09 180.58 L435.52 191.53 L427.8 199.18 L418.44 201.91 L408.94 203.13 L399.93 198.77 L392.51 191.02 L388.27 180.2 L387.36 168.48 L388.17 156.7 L392.36 145.77 L400.08 138.52 L409.13 135.18 L418.41 135.21 L427.85 137.67 L435.1 145.86 L438.98 156.88 Z M440.29 168.46 L439.53 180.35 L435.04 191.12 L427.46 198.64 L418.26 201.33 L408.92 202.53 L400.07 198.24 L392.78 190.62 L388.61 179.99 L387.71 168.46 L388.51 156.88 L392.63 146.13 L400.22 139 L409.11 135.72 L418.23 135.75 L427.5 138.17 L434.63 146.22 L438.44 157.06 Z M439.55 168.43 L438.81 180.07 L434.43 190.6 L427.01 197.95 L418.02 200.58 L408.9 201.75 L400.25 197.56 L393.13 190.11 L389.06 179.71 L388.18 168.43 L388.96 157.11 L392.98 146.6 L400.4 139.63 L409.08 136.42 L418 136.44 L427.06 138.81 L434.03 146.69 L437.75 157.29 Z M438.66 168.4 L437.94 179.72 L433.68 189.96 L426.48 197.11 L417.74 199.66 L408.88 200.8 L400.47 196.73 L393.55 189.48 L389.59 179.37 L388.74 168.4 L389.5 157.39 L393.41 147.17 L400.62 140.39 L409.05 137.27 L417.72 137.29 L426.52 139.59 L433.29 147.25 L436.9 157.56 Z M437.6 168.37 L436.9 179.3 L432.79 189.2 L425.84 196.11 L417.4 198.58 L408.85 199.68 L400.73 195.74 L394.05 188.74 L390.23 178.96 L389.41 168.37 L390.14 157.72 L393.91 147.84 L400.87 141.29 L409.02 138.27 L417.38 138.3 L425.88 140.52 L432.42 147.93 L435.91 157.89 Z M436.38 168.32 L435.71 178.82 L431.77 188.33 L425.1 194.96 L417.02 197.33 L408.81 198.39 L401.04 194.61 L394.63 187.88 L390.97 178.5 L390.18 168.32 L390.88 158.11 L394.49 148.62 L401.17 142.33 L408.98 139.43 L417 139.46 L425.14 141.59 L431.41 148.7 L434.75 158.27 Z M434.99 168.28 L434.36 178.28 L430.61 187.34 L424.27 193.66 L416.58 195.92 L408.77 196.93 L401.38 193.32 L395.28 186.91 L391.8 177.97 L391.05 168.28 L391.72 158.54 L395.16 149.5 L401.5 143.51 L408.93 140.75 L416.56 140.77 L424.31 142.81 L430.27 149.58 L433.45 158.69 Z M433.45 168.22 L432.85 177.68 L429.31 186.23 L423.34 192.2 L416.09 194.34 L408.73 195.29 L401.76 191.88 L396.01 185.83 L392.73 177.38 L392.02 168.22 L392.65 159.03 L395.89 150.49 L401.88 144.83 L408.88 142.22 L416.07 142.24 L423.37 144.16 L428.99 150.56 L431.99 159.17 Z M431.73 168.17 L431.18 177.01 L427.88 185.01 L422.31 190.59 L415.54 192.59 L408.68 193.48 L402.18 190.3 L396.82 184.63 L393.76 176.73 L393.1 168.17 L393.69 159.57 L396.71 151.58 L402.29 146.28 L408.82 143.84 L415.53 143.87 L422.34 145.66 L427.58 151.65 L430.38 159.7 Z M429.86 168.1 L429.35 176.27 L426.31 183.67 L421.18 188.83 L414.95 190.68 L408.63 191.5 L402.64 188.56 L397.71 183.32 L394.89 176.02 L394.28 168.1 L394.82 160.15 L397.61 152.77 L402.74 147.88 L408.76 145.62 L414.94 145.64 L421.21 147.3 L426.03 152.84 L428.61 160.28 Z M427.83 168.04 L427.36 175.48 L424.6 182.21 L419.95 186.92 L414.31 188.6 L408.58 189.35 L403.15 186.66 L398.67 181.9 L396.11 175.25 L395.56 168.04 L396.05 160.79 L398.58 154.07 L403.24 149.61 L408.69 147.56 L414.29 147.58 L419.98 149.09 L424.35 154.13 L426.69 160.91 Z M425.63 167.96 L425.21 174.62 L422.76 180.64 L418.63 184.85 L413.61 186.35 L408.52 187.02 L403.69 184.62 L399.71 180.36 L397.44 174.41 L396.95 167.96 L397.38 161.48 L399.63 155.47 L403.77 151.48 L408.62 149.65 L413.6 149.66 L418.65 151.02 L422.54 155.52 L424.62 161.59 Z M423.26 167.88 L422.91 173.69 L420.79 178.95 L417.2 182.62 L412.86 183.94 L408.45 184.52 L404.27 182.43 L400.83 178.71 L398.86 173.51 L398.44 167.88 L398.81 162.23 L400.76 156.98 L404.34 153.5 L408.54 151.89 L412.85 151.91 L417.23 153.09 L420.59 157.02 L422.39 162.31 Z M420.74 167.8 L420.44 172.7 L418.67 177.15 L415.68 180.25 L412.06 181.36 L408.38 181.85 L404.89 180.08 L402.02 176.94 L400.38 172.55 L400.03 167.8 L400.34 163.02 L401.96 158.59 L404.95 155.65 L408.45 154.29 L412.05 154.3 L415.7 155.3 L418.51 158.62 L420.01 163.09 Z M418.05 167.71 L417.81 171.65 L416.42 175.23 L414.06 177.72 L411.21 178.61 L408.31 179.01 L405.56 177.59 L403.29 175.06 L402 171.53 L401.72 167.71 L401.97 163.86 L403.24 160.3 L405.6 157.93 L408.36 156.84 L411.2 156.85 L414.08 157.66 L416.29 160.33 L417.48 163.92 Z M415.2 167.61 L415.03 170.54 L414.03 173.19 L412.35 175.04 L410.3 175.7 L408.23 175.99 L406.26 174.94 L404.64 173.06 L403.71 170.45 L403.51 167.61 L403.69 164.76 L404.61 162.11 L406.29 160.36 L408.27 159.55 L410.3 159.56 L412.36 160.15 L413.94 162.14 L414.79 164.8 Z M412.19 167.51 L412.09 169.36 L411.51 171.03 L410.53 172.2 L409.35 172.62 L408.14 172.81 L407 172.14 L406.06 170.95 L405.53 169.3 L405.41 167.51 L405.51 165.71 L406.04 164.03 L407.02 162.93 L408.17 162.42 L409.34 162.42 L410.54 162.8 L411.46 164.05 L411.95 165.73 Z M409.01 167.4 L408.99 168.11 L408.85 168.76 L408.62 169.21 L408.34 169.37 L408.06 169.45 L407.79 169.19 L407.57 168.73 L407.44 168.09 L407.41 167.4 L407.44 166.7 L407.56 166.06 L407.79 165.63 L408.06 165.43 L408.34 165.44 L408.62 165.58 L408.84 166.06 L408.95 166.72 Z" fill="none" stroke="#2a66f0" stroke-width="0.85" stroke-linejoin="round"/>
<path d="M466.58 160.97 L459.23 173.9 L446.16 181.32 L431.66 179.34 L418.56 173.68 L411.55 161.25 L411.09 147.1 L419.01 135.46 L430.97 128.33 L445.19 127.5 L457.32 134.84 L465.14 146.53 Z M462.46 159.62 L456.03 170.75 L444.6 177.13 L431.91 175.43 L420.44 170.56 L414.31 159.86 L413.91 147.68 L420.84 137.66 L431.3 131.53 L443.74 130.81 L454.36 137.13 L461.2 147.19 Z M458.34 158.26 L452.83 167.6 L443.03 172.94 L432.15 171.52 L422.33 167.44 L417.07 158.47 L416.72 148.26 L422.67 139.87 L431.63 134.72 L442.3 134.12 L451.4 139.42 L457.26 147.85 Z M454.23 156.91 L449.63 164.44 L441.46 168.76 L432.4 167.61 L424.21 164.32 L419.83 157.08 L419.54 148.84 L424.49 142.07 L431.97 137.92 L440.86 137.43 L448.44 141.71 L453.32 148.51 Z M450.11 155.56 L446.43 161.29 L439.9 164.57 L432.65 163.7 L426.09 161.19 L422.59 155.69 L422.36 149.42 L426.32 144.27 L432.3 141.11 L439.41 140.74 L445.48 144 L449.39 149.17 Z M445.99 154.21 L443.23 158.14 L438.33 160.39 L432.89 159.79 L427.98 158.07 L425.35 154.3 L425.18 150 L428.15 146.47 L432.63 144.31 L437.97 144.05 L442.52 146.28 L445.45 149.83 Z M441.87 152.86 L440.03 154.99 L436.77 156.2 L433.14 155.88 L429.86 154.95 L428.11 152.91 L428 150.58 L429.98 148.67 L432.97 147.5 L436.52 147.36 L439.55 148.57 L441.51 150.49 Z" fill="none" stroke="#e6222c" stroke-width="1.1" stroke-linejoin="round"/>
<path d="M522.06 143 L520.08 157.96 L515.52 171.67 L507.38 180.78 L498.04 186.35 L488 186.06 L478.55 180.98 L470.36 171.82 L466.18 157.81 L464.06 143 L466.05 128.12 L470.92 114.89 L478.21 104.13 L488 99.96 L498.06 99.48 L507.45 105.02 L515.42 114.46 L520.19 127.98 Z M517.85 143.6 L516.16 156.52 L512.26 168.36 L505.3 176.23 L497.31 181.04 L488.72 180.79 L480.64 176.4 L473.64 168.49 L470.07 156.39 L468.25 143.6 L469.95 130.75 L474.12 119.32 L480.35 110.03 L488.72 106.43 L497.33 106.02 L505.36 110.8 L512.17 118.95 L516.26 130.63 Z M513.64 144.2 L512.24 155.08 L509 165.05 L503.21 171.68 L496.58 175.73 L489.45 175.52 L482.73 171.82 L476.92 165.16 L473.95 154.97 L472.45 144.2 L473.86 133.38 L477.31 123.75 L482.49 115.93 L489.45 112.9 L496.59 112.55 L503.27 116.58 L508.93 123.44 L512.32 133.28 Z M509.43 144.8 L508.32 153.64 L505.74 161.74 L501.13 167.13 L495.85 170.42 L490.17 170.25 L484.83 167.24 L480.2 161.83 L477.83 153.55 L476.64 144.8 L477.76 136.01 L480.51 128.19 L484.64 121.83 L490.17 119.37 L495.86 119.08 L501.17 122.36 L505.68 127.93 L508.38 135.93 Z M505.22 145.4 L504.39 152.2 L502.47 158.43 L499.05 162.57 L495.12 165.1 L490.89 164.97 L486.92 162.66 L483.48 158.5 L481.72 152.13 L480.83 145.4 L481.66 138.63 L483.71 132.62 L486.78 127.73 L490.9 125.84 L495.13 125.62 L499.08 128.14 L502.43 132.43 L504.44 138.57 Z M501.02 146 L500.47 150.76 L499.21 155.12 L496.97 158.02 L494.39 159.79 L491.62 159.7 L489.01 158.08 L486.76 155.17 L485.6 150.71 L485.02 146 L485.57 141.26 L486.91 137.06 L488.92 133.63 L491.62 132.31 L494.4 132.15 L496.99 133.91 L499.18 136.92 L500.5 141.22 Z" fill="none" stroke="#2a66f0" stroke-width="0.95" stroke-linejoin="round"/>
<path d="M495.88 143 L494.78 150.52 L491.85 155.31 L488.13 155.45 L485.22 150.53 L484.09 143 L485.2 135.44 L488.13 130.51 L491.83 130.81 L494.9 135.29 Z M492.94 143 L492.39 147.05 L490.92 149.63 L489.07 149.71 L487.61 147.06 L487.05 143 L487.6 138.93 L489.06 136.27 L490.91 136.44 L492.45 138.85 Z" fill="none" stroke="#e6222c" stroke-width="0.8" stroke-linejoin="round"/>
</g>
<g clip-path="url(#clK23)">
<path d="M611.4 148.7 L608.76 154.38 L601.09 160.8 L589.14 167.32 L574.09 172.1 L557.4 173.7 L540.71 172.1 L525.66 167.32 L513.71 160.8 L506.04 154.38 L503.4 148.7 L506.04 143.02 L513.71 136.6 L525.66 130.08 L540.71 125.3 L557.4 123.7 L574.09 125.3 L589.14 130.08 L601.09 136.6 L608.76 143.02 Z M605.76 148.7 L603.4 154.16 L596.54 160.17 L585.87 166.13 L572.41 170.45 L557.5 171.9 L542.59 170.45 L529.13 166.13 L518.46 160.17 L511.6 154.16 L509.24 148.7 L511.6 143.24 L518.46 137.23 L529.13 131.27 L542.59 126.95 L557.5 125.5 L572.41 126.95 L585.87 131.27 L596.54 137.23 L603.4 143.24 Z M600.22 148.7 L598.13 153.91 L592.08 159.49 L582.65 164.89 L570.77 168.77 L557.6 170.07 L544.43 168.77 L532.55 164.89 L523.12 159.49 L517.07 153.91 L514.98 148.7 L517.07 143.49 L523.12 137.91 L532.55 132.51 L544.43 128.63 L557.6 127.33 L570.77 128.63 L582.65 132.51 L592.08 137.91 L598.13 143.49 Z M594.79 148.7 L592.98 153.61 L587.71 158.75 L579.5 163.61 L569.16 167.05 L557.7 168.22 L546.24 167.05 L535.9 163.61 L527.69 158.75 L522.42 153.61 L520.61 148.7 L522.42 143.79 L527.69 138.65 L535.9 133.79 L546.24 130.35 L557.7 129.18 L569.16 130.35 L579.5 133.79 L587.71 138.65 L592.98 143.79 Z M589.49 148.7 L587.94 153.28 L583.44 157.96 L576.43 162.28 L567.59 165.3 L557.8 166.33 L548.01 165.3 L539.17 162.28 L532.16 157.96 L527.66 153.28 L526.11 148.7 L527.66 144.12 L532.16 139.44 L539.17 135.12 L548.01 132.1 L557.8 131.07 L567.59 132.1 L576.43 135.12 L583.44 139.44 L587.94 144.12 Z M584.33 148.7 L583.04 152.91 L579.29 157.11 L573.44 160.89 L566.07 163.51 L557.9 164.4 L549.73 163.51 L542.36 160.89 L536.51 157.11 L532.76 152.91 L531.47 148.7 L532.76 144.49 L536.51 140.29 L542.36 136.51 L549.73 133.89 L557.9 133 L566.07 133.89 L573.44 136.51 L579.29 140.29 L583.04 144.49 Z M579.35 148.7 L578.3 152.49 L575.27 156.19 L570.55 159.45 L564.6 161.66 L558 162.42 L551.4 161.66 L545.45 159.45 L540.73 156.19 L537.7 152.49 L536.65 148.7 L537.7 144.91 L540.73 141.21 L545.45 137.95 L551.4 135.74 L558 134.98 L564.6 135.74 L570.55 137.95 L575.27 141.21 L578.3 144.91 Z M574.56 148.7 L573.76 152.02 L571.42 155.2 L567.78 157.92 L563.19 159.75 L558.1 160.38 L553.01 159.75 L548.42 157.92 L544.78 155.2 L542.44 152.02 L541.64 148.7 L542.44 145.38 L544.78 142.2 L548.42 139.48 L553.01 137.65 L558.1 137.02 L563.19 137.65 L567.78 139.48 L571.42 142.2 L573.76 145.38 Z M570.04 148.7 L569.46 151.5 L567.78 154.12 L565.16 156.31 L561.86 157.76 L558.2 158.25 L554.54 157.76 L551.24 156.31 L548.62 154.12 L546.94 151.5 L546.36 148.7 L546.94 145.9 L548.62 143.28 L551.24 141.09 L554.54 139.64 L558.2 139.15 L561.86 139.64 L565.16 141.09 L567.78 143.28 L569.46 145.9 Z M565.9 148.7 L565.53 150.89 L564.45 152.91 L562.77 154.55 L560.65 155.62 L558.3 155.99 L555.95 155.62 L553.83 154.55 L552.15 152.91 L551.07 150.89 L550.7 148.7 L551.07 146.51 L552.15 144.49 L553.83 142.85 L555.95 141.78 L558.3 141.41 L560.65 141.78 L562.77 142.85 L564.45 144.49 L565.53 146.51 Z M562.6 148.7 L562.39 150.12 L561.8 151.4 L560.87 152.42 L559.7 153.07 L558.4 153.3 L557.1 153.07 L555.93 152.42 L555 151.4 L554.41 150.12 L554.2 148.7 L554.41 147.28 L555 146 L555.93 144.98 L557.1 144.33 L558.4 144.1 L559.7 144.33 L560.87 144.98 L561.8 146 L562.39 147.28 Z" fill="none" stroke="#2a66f0" stroke-width="1.15" stroke-linejoin="round"/>
<path d="M589.33 147.12 L587.37 150.36 L583.43 150.36 L581.47 147.12 L583.43 143.89 L587.37 143.89 Z M592.22 147.12 L588.81 152.73 L581.99 152.73 L578.58 147.12 L581.99 141.51 L588.81 141.51 Z M603.76 144.63 L601.79 147.87 L597.86 147.87 L595.89 144.63 L597.86 141.4 L601.79 141.4 Z M606.38 144.63 L603.1 150.03 L596.55 150.03 L593.27 144.63 L596.55 139.24 L603.1 139.24 Z M611.62 116.97 Q609.66 128.11 610.97 132.7 Q612.28 137.29 615.88 139.58 Q619.49 141.88 627.36 141.55 L635.22 141.22 M615.56 116.97 Q613.98 128.11 615.1 132.04 Q616.21 135.98 619.16 137.94 Q622.11 139.91 628.67 139.58 L635.22 139.26 M619.49 116.97 Q618.18 127.46 619.16 131.06 Q620.15 134.67 622.77 136.11 Q625.39 137.55 630.31 137.29 L635.22 137.03 M623.42 116.97 Q622.51 126.8 623.49 129.75 Q624.47 132.7 626.57 134.01 Q628.67 135.32 631.95 134.99 L635.22 134.67 M627.36 116.97 Q626.7 126.14 627.68 128.44 Q628.67 130.73 631.95 131.52 L635.22 132.31" fill="none" stroke="#2a66f0" stroke-width="1.1" stroke-linejoin="round"/>
<path d="M593.92 116.97 Q582.78 125.49 574.91 131.39 Q567.04 137.29 565.08 139.58 Q563.11 141.88 562.91 143.84 Q562.72 145.81 563.37 148.24 Q564.03 150.66 568.16 154.33 Q572.29 158.01 577.53 160.89 Q582.78 163.77 589.33 163.38 Q595.89 162.99 616.21 159.32 L636.53 155.65 M597.46 116.97 Q586.06 125.49 578.06 131.39 Q570.06 137.29 568.06 139.58 Q566.06 141.88 565.86 143.84 Q565.67 145.81 566.32 148.24 Q566.98 150.66 570.81 154.07 Q574.65 157.48 579.5 160.04 Q584.35 162.59 590.12 162.2 Q595.89 161.81 616.21 158.33 L636.53 154.86 M601 116.97 Q589.33 125.49 581.2 131.39 Q573.08 137.29 571.04 139.58 Q569.01 141.88 568.81 143.84 Q568.62 145.81 569.27 148.24 Q569.93 150.66 573.47 153.81 Q577.01 156.96 581.47 159.19 Q585.93 161.41 590.91 161.02 Q595.89 160.63 616.21 157.35 L636.53 154.07 M604.54 116.97 Q592.61 125.49 584.35 131.39 Q576.09 137.29 574.03 139.58 Q571.96 141.88 571.76 143.84 Q571.57 145.81 572.22 148.24 Q572.88 150.66 576.12 153.55 Q579.37 156.43 583.43 158.33 Q587.5 160.23 591.69 159.84 Q595.89 159.45 616.21 156.37 L636.53 153.29 M608.08 116.97 Q595.89 125.49 587.5 131.39 Q579.11 137.29 577.01 139.58 Q574.91 141.88 574.71 143.84 Q574.52 145.81 575.17 148.24 Q575.83 150.66 578.78 153.29 Q581.73 155.91 585.4 157.48 Q589.07 159.05 592.48 158.66 Q595.89 158.27 616.21 155.38 L636.53 152.5 M621.46 116.97 Q612.93 122.87 603.1 128.77 Q593.27 134.67 589.01 137.94 Q584.74 141.22 583.43 144.17 Q582.12 147.12 582.78 148.89 Q583.43 150.66 586.38 151.65 Q589.33 152.63 612.93 150.99 L636.53 149.35 M631.95 116.97 Q623.42 122.21 614.9 127.13 Q606.38 132.04 600.81 136.31 Q595.23 140.57 594.58 142.53 Q593.92 144.5 594.25 145.81 Q594.58 147.12 596.55 147.97 Q598.51 148.83 617.52 147.84 L636.53 146.86 M636.53 120.24 Q618.18 130.73 612.28 134.67 Q606.38 138.6 605.4 140.57 Q604.41 142.53 605.07 143.84 Q605.72 145.16 608.02 145.68 Q610.31 146.2 623.42 145.29 L636.53 144.37" fill="none" stroke="#e6222c" stroke-width="1.35" stroke-linejoin="round"/>
</g>
<g clip-path="url(#clK27)">
<path d="M458.74 263.2 L455.53 278.6 L449.43 293.33 L437.43 302.4 L423.4 304.55 L409.69 301.52 L397.34 293.36 L390.63 278.91 L388.43 263.2 L391.24 247.78 L397.25 232.93 L409.6 224.65 L423.4 223.42 L436.98 225.24 L449.65 232.82 L456.34 247.4 Z M456.42 262.68 L453.5 276.82 L447.97 290.35 L437.08 298.67 L424.35 300.64 L411.91 297.87 L400.71 290.37 L394.62 277.1 L392.63 262.68 L395.17 248.51 L400.63 234.88 L411.83 227.27 L424.35 226.14 L436.67 227.82 L448.16 234.77 L454.24 248.17 Z M454.09 262.15 L451.47 275.04 L446.5 287.36 L436.72 294.95 L425.3 296.74 L414.13 294.21 L404.08 287.38 L398.61 275.3 L396.82 262.15 L399.1 249.25 L404 236.82 L414.06 229.89 L425.3 228.87 L436.36 230.39 L446.68 236.73 L452.13 248.93 Z M451.76 261.62 L449.44 273.25 L445.04 284.38 L436.37 291.22 L426.25 292.84 L416.35 290.56 L407.45 284.4 L402.6 273.49 L401.01 261.62 L403.04 249.98 L407.38 238.77 L416.29 232.52 L426.25 231.59 L436.05 232.97 L445.19 238.69 L450.02 249.7 Z M449.43 261.1 L447.41 271.47 L443.57 281.39 L436.02 287.49 L427.2 288.94 L418.58 286.9 L410.81 281.41 L406.59 271.68 L405.21 261.1 L406.97 250.72 L410.75 240.72 L418.52 235.14 L427.2 234.32 L435.74 235.54 L443.71 240.64 L447.92 250.47 Z M447.1 260.57 L445.38 269.69 L442.11 278.4 L435.67 283.77 L428.15 285.03 L420.8 283.25 L414.18 278.42 L410.58 269.87 L409.4 260.57 L410.9 251.45 L414.13 242.67 L420.75 237.77 L428.15 237.04 L435.43 238.12 L442.22 242.6 L445.81 251.23 Z M444.77 260.05 L443.35 267.9 L440.64 275.42 L435.32 280.04 L429.1 281.13 L423.02 279.59 L417.55 275.43 L414.57 268.06 L413.59 260.05 L414.84 252.19 L417.5 244.61 L422.98 240.39 L429.1 239.76 L435.12 240.69 L440.74 244.56 L443.71 252 Z M442.44 259.52 L441.32 266.12 L439.18 272.43 L434.97 276.31 L430.05 277.23 L425.24 275.94 L420.91 272.44 L418.56 266.25 L417.79 259.52 L418.77 252.92 L420.88 246.56 L425.21 243.02 L430.05 242.49 L434.81 243.27 L439.25 246.51 L441.6 252.76 Z M440.11 259 L439.28 264.34 L437.71 269.44 L434.62 272.58 L431 273.33 L427.46 272.28 L424.28 269.45 L422.55 264.44 L421.98 259 L422.71 253.66 L424.26 248.51 L427.44 245.64 L431 245.21 L434.5 245.85 L437.77 248.47 L439.5 253.53 Z" fill="none" stroke="#2a66f0" stroke-width="1.25" stroke-linejoin="round"/>
<path d="M450.39 251.81 L448.27 259.52 L444.58 264.28 L440.25 265.82 L435.97 263.38 L432.66 257.35 L431.26 248.92 L431.53 240.14 L433.82 232.65 L437.29 227.03 L441.75 226.3 L446.12 228.29 L449.06 235.03 L450.6 243.12 Z M450.26 251.26 L448.4 258.51 L445.15 262.99 L441.34 264.43 L437.58 262.13 L434.66 256.47 L433.43 248.55 L433.67 240.29 L435.68 233.25 L438.73 227.96 L442.66 227.29 L446.51 229.15 L449.09 235.49 L450.45 243.1 Z M450.13 250.71 L448.53 257.5 L445.72 261.69 L442.43 263.04 L439.18 260.89 L436.66 255.59 L435.59 248.17 L435.8 240.44 L437.54 233.85 L440.18 228.9 L443.57 228.27 L446.89 230.02 L449.12 235.95 L450.29 243.07 Z M450.01 250.16 L448.66 256.49 L446.29 260.39 L443.52 261.65 L440.78 259.65 L438.66 254.71 L437.76 247.8 L437.94 240.6 L439.4 234.45 L441.62 229.84 L444.48 229.25 L447.28 230.88 L449.16 236.41 L450.14 243.04 Z M449.88 249.61 L448.78 255.48 L446.86 259.09 L444.61 260.26 L442.39 258.41 L440.66 253.83 L439.93 247.42 L440.08 240.75 L441.26 235.05 L443.07 230.78 L445.39 230.23 L447.66 231.74 L449.19 236.87 L449.99 243.01 Z M449.75 249.07 L448.91 254.47 L447.43 257.8 L445.7 258.87 L443.99 257.16 L442.66 252.95 L442.1 247.04 L442.21 240.9 L443.13 235.65 L444.51 231.72 L446.3 231.21 L448.05 232.6 L449.22 237.32 L449.84 242.99 Z" fill="none" stroke="#2a66f0" stroke-width="0.85" stroke-linejoin="round"/>
<path d="M433.46 260.7 L433.18 261.58 L432.3 261.93 L431.47 261.53 L431.1 260.7 L431.46 259.86 L432.3 259.48 L433.17 259.83 Z" fill="none" stroke="#2a66f0" stroke-width="0.8" stroke-linejoin="round"/>
<path d="M489.14 267.75 L471.45 260.67 L463.86 232.86 L451.22 223.26 L423.42 225.28 L412.04 232.86 L406.99 254.35 L410.78 269.51 L436.06 285.95 L455.02 301.11 M489.14 273.81 L475.24 268.76 L467.65 261.93 L460.83 234.13 L449.96 226.29 L425.44 228.06 L415.33 234.88 L410.78 254.35 L414.57 267.75 L438.58 282.91 L460.07 301.11 M414.57 254.35 L418.87 236.65 L427.21 230.84 L448.7 229.07 L457.54 235.39 L463.86 260.67 L451.22 278.36 L437.32 280.38 L418.36 266.99 Z M418.36 253.59 L422.15 238.42 L428.98 233.62 L447.43 232.1 L455.02 237.41 L460.07 260.67 L449.96 274.57 L438.58 275.83 L422.15 265.22 Z M422.41 253.08 L425.44 240.44 L431 236.65 L446.17 235.39 L452.49 239.94 L456.28 260.67 L448.7 270.78 L439.85 271.28 L425.95 263.2 Z M427.21 252.58 L428.98 242.97 L433.02 239.94 L444.9 238.68 L450.21 242.47 L452.99 260.16 L447.43 266.99 L441.11 267.75 L430.5 261.17 Z M434.79 251.82 L451.22 249.29 L451.22 266.99 Z" fill="none" stroke="#e6222c" stroke-width="1.35" stroke-linejoin="round"/>
<path d="M529.74 302 L525.91 313.53 L516 322.69 L502.21 328.98 L485.95 328.45 L471.3 323.35 L461.46 313.75 L458.25 302 L461.11 290.12 L471.45 280.79 L485.85 275.23 L502.09 275.42 L516.9 280.46 L526.32 290.33 Z M523.79 302.75 L520.59 312.25 L512.33 319.8 L500.84 324.98 L487.29 324.54 L475.08 320.34 L466.88 312.43 L464.21 302.75 L466.6 292.96 L475.21 285.27 L487.21 280.69 L500.74 280.85 L513.09 285 L520.93 293.13 Z M517.83 303.5 L515.27 310.97 L508.66 316.91 L499.47 320.98 L488.63 320.64 L478.87 317.34 L472.31 311.12 L470.17 303.5 L472.08 295.8 L478.97 289.76 L488.57 286.15 L499.39 286.27 L509.27 289.54 L515.54 295.93 Z M511.87 304.25 L509.96 309.69 L505 314.02 L498.1 316.99 L489.98 316.74 L482.65 314.33 L477.73 309.8 L476.13 304.25 L477.56 298.64 L482.73 294.24 L489.93 291.61 L498.04 291.7 L505.45 294.08 L510.16 298.74 Z M505.91 305 L504.64 308.41 L501.33 311.13 L496.74 312.99 L491.32 312.84 L486.43 311.33 L483.15 308.48 L482.08 305 L483.04 301.48 L486.48 298.72 L491.28 297.07 L496.7 297.12 L501.63 298.62 L504.77 301.54 Z" fill="none" stroke="#2a66f0" stroke-width="1.2" stroke-linejoin="round"/>
<path d="M508.58 302 L507.14 312.12 L501.34 318.95 L494 321.96 L486.42 319.5 L480.78 312.18 L479.04 302 L481.01 292 L486.72 285.18 L494 282.08 L501.44 284.81 L507.26 291.79 Z M504.21 303 L503.2 310.08 L499.14 314.87 L494 316.97 L488.7 315.25 L484.75 310.12 L483.53 303 L484.91 296 L488.9 291.23 L494 289.06 L499.21 290.97 L503.29 295.85 Z M499.83 304 L499.26 308.05 L496.94 310.78 L494 311.98 L490.97 311 L488.71 308.07 L488.02 304 L488.8 300 L491.09 297.27 L494 296.03 L496.98 297.12 L499.31 299.92 Z" fill="none" stroke="#e6222c" stroke-width="1.3" stroke-linejoin="round"/>
</g>
<rect x="356" y="25.7" width="131.3" height="85.8" fill="none" stroke="#1a1a1a" stroke-width="1"/>
<rect x="495" y="25.7" width="136.7" height="85.4" fill="none" stroke="#1a1a1a" stroke-width="1"/>
<rect x="355" y="119.5" width="131.1" height="86.1" fill="none" stroke="#1a1a1a" stroke-width="1"/>
<rect x="495" y="118.7" width="136.3" height="85.8" fill="none" stroke="#1a1a1a" stroke-width="1"/>
<rect x="355.2" y="212.2" width="130.8" height="87.1" fill="none" stroke="#1a1a1a" stroke-width="1"/>
<text x="447.0" y="102.4" font-family="Liberation Sans, sans-serif" font-size="16" fill="#1a1a1a">A10</text>
<text x="586.2" y="101.6" font-family="Liberation Sans, sans-serif" font-size="16" fill="#1a1a1a">R11</text>
<text x="452.2" y="196.2" font-family="Liberation Sans, sans-serif" font-size="16" fill="#1a1a1a">I21</text>
<text x="586.2" y="194.8" font-family="Liberation Sans, sans-serif" font-size="16" fill="#1a1a1a">K23</text>
<text x="359.6" y="290.7" font-family="Liberation Sans, sans-serif" font-size="16" fill="#1a1a1a">K27</text>
<text transform="translate(161.9,1142.4) scale(1.5,1)" text-anchor="middle" font-family="Liberation Mono, monospace" font-weight="bold" font-size="11.5" fill="#111" stroke="#111" stroke-width="0.15">M</text>
<text transform="translate(171.98,1142.4) scale(1.5,1)" text-anchor="middle" font-family="Liberation Mono, monospace" font-weight="bold" font-size="11.5" fill="#111" stroke="#111" stroke-width="0.15">A</text>
<text transform="translate(182.06,1142.4) scale(1.5,1)" text-anchor="middle" font-family="Liberation Mono, monospace" font-weight="bold" font-size="11.5" fill="#111" stroke="#111" stroke-width="0.15">R</text>
<text transform="translate(192.14,1142.4) scale(1.5,1)" text-anchor="middle" font-family="Liberation Mono, monospace" font-weight="bold" font-size="11.5" fill="#111" stroke="#111" stroke-width="0.15">G</text>
<text transform="translate(202.22,1142.4) scale(1.5,1)" text-anchor="middle" font-family="Liberation Mono, monospace" font-weight="bold" font-size="11.5" fill="#111" stroke="#111" stroke-width="0.15">N</text>
<text transform="translate(222.38,1142.4) scale(1.5,1)" text-anchor="middle" font-family="Liberation Mono, monospace" font-weight="bold" font-size="11.5" fill="#111" stroke="#111" stroke-width="0.15">Q</text>
<text transform="translate(232.46,1142.4) scale(1.5,1)" text-anchor="middle" font-family="Liberation Mono, monospace" font-weight="bold" font-size="11.5" fill="#111" stroke="#111" stroke-width="0.15">R</text>
<text transform="translate(242.54,1142.4) scale(1.5,1)" text-anchor="middle" font-family="Liberation Mono, monospace" font-weight="bold" font-size="11.5" fill="#111" stroke="#111" stroke-width="0.15">E</text>
<text transform="translate(252.62,1142.4) scale(1.5,1)" text-anchor="middle" font-family="Liberation Mono, monospace" font-weight="bold" font-size="11.5" fill="#111" stroke="#111" stroke-width="0.15">L</text>
<text transform="translate(262.7,1142.4) scale(1.5,1)" text-anchor="middle" font-family="Liberation Mono, monospace" font-weight="bold" font-size="11.5" fill="#111" stroke="#111" stroke-width="0.15">A</text>
<text transform="translate(162.2,1153) scale(1.12,1)" text-anchor="middle" font-family="Liberation Sans, sans-serif" font-size="8.6" fill="#222">C</text>
<text transform="translate(172.28,1153) scale(1.12,1)" text-anchor="middle" font-family="Liberation Sans, sans-serif" font-size="8.6" fill="#222">C</text>
<text transform="translate(182.36,1153) scale(1.12,1)" text-anchor="middle" font-family="Liberation Sans, sans-serif" font-size="8.6" fill="#222">C</text>
<text transform="translate(192.44,1153) scale(1.12,1)" text-anchor="middle" font-family="Liberation Sans, sans-serif" font-size="8.6" fill="#222">C</text>
<text transform="translate(202.52,1153) scale(1.12,1)" text-anchor="middle" font-family="Liberation Sans, sans-serif" font-size="8.6" fill="#222">C</text>
<text transform="translate(222.68,1153) scale(1.12,1)" text-anchor="middle" font-family="Liberation Sans, sans-serif" font-size="8.6" fill="#222">C</text>
<text transform="translate(232.76,1153) scale(1.12,1)" text-anchor="middle" font-family="Liberation Sans, sans-serif" font-size="8.6" fill="#222">C</text>
<text transform="translate(242.84,1153) scale(1.12,1)" text-anchor="middle" font-family="Liberation Sans, sans-serif" font-size="8.6" fill="#2e7fc4">H</text>
<text transform="translate(252.92,1153) scale(1.12,1)" text-anchor="middle" font-family="Liberation Sans, sans-serif" font-size="8.6" fill="#2e7fc4">H</text>
<text transform="translate(263,1153) scale(1.12,1)" text-anchor="middle" font-family="Liberation Sans, sans-serif" font-size="8.6" fill="#2e7fc4">H</text>
<text transform="translate(144.8,1139) scale(1.37,1)" font-family="Liberation Mono, monospace" font-weight="bold" font-size="6.6" fill="#111">1</text>
<text transform="translate(296.1,1142.4) scale(1.5,1)" text-anchor="middle" font-family="Liberation Mono, monospace" font-weight="bold" font-size="11.5" fill="#111" stroke="#111" stroke-width="0.15">R</text>
<text transform="translate(306.18,1142.4) scale(1.5,1)" text-anchor="middle" font-family="Liberation Mono, monospace" font-weight="bold" font-size="11.5" fill="#111" stroke="#111" stroke-width="0.15">Q</text>
<text transform="translate(316.26,1142.4) scale(1.5,1)" text-anchor="middle" font-family="Liberation Mono, monospace" font-weight="bold" font-size="11.5" fill="#111" stroke="#111" stroke-width="0.15">K</text>
<text transform="translate(326.34,1142.4) scale(1.5,1)" text-anchor="middle" font-family="Liberation Mono, monospace" font-weight="bold" font-size="11.5" fill="#111" stroke="#111" stroke-width="0.15">N</text>
<text transform="translate(336.42,1142.4) scale(1.5,1)" text-anchor="middle" font-family="Liberation Mono, monospace" font-weight="bold" font-size="11.5" fill="#111" stroke="#111" stroke-width="0.15">M</text>
<text transform="translate(356.58,1142.4) scale(1.5,1)" text-anchor="middle" font-family="Liberation Mono, monospace" font-weight="bold" font-size="11.5" fill="#111" stroke="#111" stroke-width="0.15">K</text>
<text transform="translate(366.66,1142.4) scale(1.5,1)" text-anchor="middle" font-family="Liberation Mono, monospace" font-weight="bold" font-size="11.5" fill="#111" stroke="#111" stroke-width="0.15">K</text>
<text transform="translate(376.74,1142.4) scale(1.5,1)" text-anchor="middle" font-family="Liberation Mono, monospace" font-weight="bold" font-size="11.5" fill="#111" stroke="#111" stroke-width="0.15">T</text>
<text transform="translate(386.82,1142.4) scale(1.5,1)" text-anchor="middle" font-family="Liberation Mono, monospace" font-weight="bold" font-size="11.5" fill="#111" stroke="#111" stroke-width="0.15">Q</text>
<text transform="translate(396.9,1142.4) scale(1.5,1)" text-anchor="middle" font-family="Liberation Mono, monospace" font-weight="bold" font-size="11.5" fill="#111" stroke="#111" stroke-width="0.15">E</text>
<text transform="translate(296.4,1153) scale(1.12,1)" text-anchor="middle" font-family="Liberation Sans, sans-serif" font-size="8.6" fill="#2e7fc4">H</text>
<text transform="translate(306.48,1153) scale(1.12,1)" text-anchor="middle" font-family="Liberation Sans, sans-serif" font-size="8.6" fill="#2e7fc4">H</text>
<text transform="translate(316.56,1153) scale(1.12,1)" text-anchor="middle" font-family="Liberation Sans, sans-serif" font-size="8.6" fill="#222">C</text>
<text transform="translate(326.64,1153) scale(1.12,1)" text-anchor="middle" font-family="Liberation Sans, sans-serif" font-size="8.6" fill="#222">C</text>
<text transform="translate(336.72,1153) scale(1.12,1)" text-anchor="middle" font-family="Liberation Sans, sans-serif" font-size="8.6" fill="#222">C</text>
<text transform="translate(356.88,1153) scale(1.12,1)" text-anchor="middle" font-family="Liberation Sans, sans-serif" font-size="8.6" fill="#222">C</text>
<text transform="translate(366.96,1153) scale(1.12,1)" text-anchor="middle" font-family="Liberation Sans, sans-serif" font-size="8.6" fill="#222">C</text>
<text transform="translate(377.04,1153) scale(1.12,1)" text-anchor="middle" font-family="Liberation Sans, sans-serif" font-size="8.6" fill="#222">C</text>
<text transform="translate(387.12,1153) scale(1.12,1)" text-anchor="middle" font-family="Liberation Sans, sans-serif" font-size="8.6" fill="#222">C</text>
<text transform="translate(397.2,1153) scale(1.12,1)" text-anchor="middle" font-family="Liberation Sans, sans-serif" font-size="8.6" fill="#222">C</text>
<text transform="translate(279,1139) scale(1.37,1)" font-family="Liberation Mono, monospace" font-weight="bold" font-size="6.6" fill="#111">11</text>
<text transform="translate(430.3,1142.4) scale(1.5,1)" text-anchor="middle" font-family="Liberation Mono, monospace" font-weight="bold" font-size="11.5" fill="#111" stroke="#111" stroke-width="0.15">I</text>
<text transform="translate(440.38,1142.4) scale(1.5,1)" text-anchor="middle" font-family="Liberation Mono, monospace" font-weight="bold" font-size="11.5" fill="#111" stroke="#111" stroke-width="0.15">S</text>
<text transform="translate(450.46,1142.4) scale(1.5,1)" text-anchor="middle" font-family="Liberation Mono, monospace" font-weight="bold" font-size="11.5" fill="#111" stroke="#111" stroke-width="0.15">K</text>
<text transform="translate(460.54,1142.4) scale(1.5,1)" text-anchor="middle" font-family="Liberation Mono, monospace" font-weight="bold" font-size="11.5" fill="#111" stroke="#111" stroke-width="0.15">G</text>
<text transform="translate(470.62,1142.4) scale(1.5,1)" text-anchor="middle" font-family="Liberation Mono, monospace" font-weight="bold" font-size="11.5" fill="#111" stroke="#111" stroke-width="0.15">K</text>
<text transform="translate(490.78,1142.4) scale(1.5,1)" text-anchor="middle" font-family="Liberation Mono, monospace" font-weight="bold" font-size="11.5" fill="#111" stroke="#111" stroke-width="0.15">R</text>
<text transform="translate(500.86,1142.4) scale(1.5,1)" text-anchor="middle" font-family="Liberation Mono, monospace" font-weight="bold" font-size="11.5" fill="#111" stroke="#111" stroke-width="0.15">K</text>
<text transform="translate(510.94,1142.4) scale(1.5,1)" text-anchor="middle" font-family="Liberation Mono, monospace" font-weight="bold" font-size="11.5" fill="#111" stroke="#111" stroke-width="0.15">E</text>
<text transform="translate(521.02,1142.4) scale(1.5,1)" text-anchor="middle" font-family="Liberation Mono, monospace" font-weight="bold" font-size="11.5" fill="#111" stroke="#111" stroke-width="0.15">D</text>
<text transform="translate(531.1,1142.4) scale(1.5,1)" text-anchor="middle" font-family="Liberation Mono, monospace" font-weight="bold" font-size="11.5" fill="#111" stroke="#111" stroke-width="0.15">S</text>
<text transform="translate(430.6,1153) scale(1.12,1)" text-anchor="middle" font-family="Liberation Sans, sans-serif" font-size="8.6" fill="#222">C</text>
<text transform="translate(440.68,1153) scale(1.12,1)" text-anchor="middle" font-family="Liberation Sans, sans-serif" font-size="8.6" fill="#222">C</text>
<text transform="translate(450.76,1153) scale(1.12,1)" text-anchor="middle" font-family="Liberation Sans, sans-serif" font-size="8.6" fill="#222">C</text>
<text transform="translate(460.84,1153) scale(1.12,1)" text-anchor="middle" font-family="Liberation Sans, sans-serif" font-size="8.6" fill="#222">C</text>
<text transform="translate(470.92,1153) scale(1.12,1)" text-anchor="middle" font-family="Liberation Sans, sans-serif" font-size="8.6" fill="#222">C</text>
<text transform="translate(491.08,1153) scale(1.12,1)" text-anchor="middle" font-family="Liberation Sans, sans-serif" font-size="8.6" fill="#222">C</text>
<text transform="translate(501.16,1153) scale(1.12,1)" text-anchor="middle" font-family="Liberation Sans, sans-serif" font-size="8.6" fill="#222">C</text>
<text transform="translate(511.24,1153) scale(1.12,1)" text-anchor="middle" font-family="Liberation Sans, sans-serif" font-size="8.6" fill="#222">C</text>
<text transform="translate(521.32,1153) scale(1.12,1)" text-anchor="middle" font-family="Liberation Sans, sans-serif" font-size="8.6" fill="#222">C</text>
<text transform="translate(531.4,1153) scale(1.12,1)" text-anchor="middle" font-family="Liberation Sans, sans-serif" font-size="8.6" fill="#222">C</text>
<text transform="translate(413.2,1139) scale(1.37,1)" font-family="Liberation Mono, monospace" font-weight="bold" font-size="6.6" fill="#111">21</text>
<ellipse cx="263" cy="1165.4" rx="3.7" ry="2.7" fill="#000"/>
<ellipse cx="296.4" cy="1165.4" rx="3.7" ry="2.7" fill="#000"/>
<ellipse cx="430.6" cy="1165.4" rx="3.7" ry="2.7" fill="#000"/>
<ellipse cx="450.76" cy="1165.4" rx="3.7" ry="2.7" fill="#000"/>
<ellipse cx="501.16" cy="1165.4" rx="3.7" ry="2.7" fill="#000"/>
<ellipse cx="192.44" cy="1182.6" rx="3.7" ry="2.7" fill="#000"/>
<ellipse cx="202.52" cy="1182.6" rx="3.7" ry="2.7" fill="#000"/>
<ellipse cx="222.68" cy="1182.6" rx="3.7" ry="2.7" fill="#000"/>
<ellipse cx="263" cy="1182.6" rx="3.7" ry="2.7" fill="#000"/>
<ellipse cx="296.4" cy="1182.6" rx="3.7" ry="2.7" fill="#000"/>
<ellipse cx="326.64" cy="1182.6" rx="3.7" ry="2.7" fill="#000"/>
<ellipse cx="387.12" cy="1182.6" rx="3.7" ry="2.7" fill="#000"/>
<text transform="translate(161.9,1201.9) scale(1.5,1)" text-anchor="middle" font-family="Liberation Mono, monospace" font-weight="bold" font-size="11.5" fill="#111" stroke="#111" stroke-width="0.15">L</text>
<text transform="translate(171.98,1201.9) scale(1.5,1)" text-anchor="middle" font-family="Liberation Mono, monospace" font-weight="bold" font-size="11.5" fill="#111" stroke="#111" stroke-width="0.15">T</text>
<text transform="translate(182.06,1201.9) scale(1.5,1)" text-anchor="middle" font-family="Liberation Mono, monospace" font-weight="bold" font-size="11.5" fill="#111" stroke="#111" stroke-width="0.15">A</text>
<text transform="translate(192.14,1201.9) scale(1.5,1)" text-anchor="middle" font-family="Liberation Mono, monospace" font-weight="bold" font-size="11.5" fill="#111" stroke="#111" stroke-width="0.15">S</text>
<text transform="translate(202.22,1201.9) scale(1.5,1)" text-anchor="middle" font-family="Liberation Mono, monospace" font-weight="bold" font-size="11.5" fill="#111" stroke="#111" stroke-width="0.15">Q</text>
<text transform="translate(222.38,1201.9) scale(1.5,1)" text-anchor="middle" font-family="Liberation Mono, monospace" font-weight="bold" font-size="11.5" fill="#111" stroke="#111" stroke-width="0.15">R</text>
<text transform="translate(232.46,1201.9) scale(1.5,1)" text-anchor="middle" font-family="Liberation Mono, monospace" font-weight="bold" font-size="11.5" fill="#111" stroke="#111" stroke-width="0.15">K</text>
<text transform="translate(242.54,1201.9) scale(1.5,1)" text-anchor="middle" font-family="Liberation Mono, monospace" font-weight="bold" font-size="11.5" fill="#111" stroke="#111" stroke-width="0.15">Q</text>
<text transform="translate(252.62,1201.9) scale(1.5,1)" text-anchor="middle" font-family="Liberation Mono, monospace" font-weight="bold" font-size="11.5" fill="#111" stroke="#111" stroke-width="0.15">R</text>
<text transform="translate(262.7,1201.9) scale(1.5,1)" text-anchor="middle" font-family="Liberation Mono, monospace" font-weight="bold" font-size="11.5" fill="#111" stroke="#111" stroke-width="0.15">D</text>
<text transform="translate(162.2,1212.5) scale(1.12,1)" text-anchor="middle" font-family="Liberation Sans, sans-serif" font-size="8.6" fill="#222">C</text>
<text transform="translate(172.28,1212.5) scale(1.12,1)" text-anchor="middle" font-family="Liberation Sans, sans-serif" font-size="8.6" fill="#222">C</text>
<text transform="translate(182.36,1212.5) scale(1.12,1)" text-anchor="middle" font-family="Liberation Sans, sans-serif" font-size="8.6" fill="#2e7fc4">H</text>
<text transform="translate(192.44,1212.5) scale(1.12,1)" text-anchor="middle" font-family="Liberation Sans, sans-serif" font-size="8.6" fill="#2e7fc4">H</text>
<text transform="translate(202.52,1212.5) scale(1.12,1)" text-anchor="middle" font-family="Liberation Sans, sans-serif" font-size="8.6" fill="#2e7fc4">H</text>
<text transform="translate(222.68,1212.5) scale(1.12,1)" text-anchor="middle" font-family="Liberation Sans, sans-serif" font-size="8.6" fill="#2e7fc4">H</text>
<text transform="translate(232.76,1212.5) scale(1.12,1)" text-anchor="middle" font-family="Liberation Sans, sans-serif" font-size="8.6" fill="#2e7fc4">H</text>
<text transform="translate(242.84,1212.5) scale(1.12,1)" text-anchor="middle" font-family="Liberation Sans, sans-serif" font-size="8.6" fill="#2e7fc4">H</text>
<text transform="translate(252.92,1212.5) scale(1.12,1)" text-anchor="middle" font-family="Liberation Sans, sans-serif" font-size="8.6" fill="#2e7fc4">H</text>
<text transform="translate(263,1212.5) scale(1.12,1)" text-anchor="middle" font-family="Liberation Sans, sans-serif" font-size="8.6" fill="#2e7fc4">H</text>
<text transform="translate(144.8,1198.5) scale(1.37,1)" font-family="Liberation Mono, monospace" font-weight="bold" font-size="6.6" fill="#111">31</text>
<text transform="translate(296.1,1201.9) scale(1.5,1)" text-anchor="middle" font-family="Liberation Mono, monospace" font-weight="bold" font-size="11.5" fill="#111" stroke="#111" stroke-width="0.15">S</text>
<text transform="translate(306.18,1201.9) scale(1.5,1)" text-anchor="middle" font-family="Liberation Mono, monospace" font-weight="bold" font-size="11.5" fill="#111" stroke="#111" stroke-width="0.15">E</text>
<text transform="translate(316.26,1201.9) scale(1.5,1)" text-anchor="middle" font-family="Liberation Mono, monospace" font-weight="bold" font-size="11.5" fill="#111" stroke="#111" stroke-width="0.15">I</text>
<text transform="translate(326.34,1201.9) scale(1.5,1)" text-anchor="middle" font-family="Liberation Mono, monospace" font-weight="bold" font-size="11.5" fill="#111" stroke="#111" stroke-width="0.15">M</text>
<text transform="translate(336.42,1201.9) scale(1.5,1)" text-anchor="middle" font-family="Liberation Mono, monospace" font-weight="bold" font-size="11.5" fill="#111" stroke="#111" stroke-width="0.15">Q</text>
<text transform="translate(356.58,1201.9) scale(1.5,1)" text-anchor="middle" font-family="Liberation Mono, monospace" font-weight="bold" font-size="11.5" fill="#111" stroke="#111" stroke-width="0.15">E</text>
<text transform="translate(366.66,1201.9) scale(1.5,1)" text-anchor="middle" font-family="Liberation Mono, monospace" font-weight="bold" font-size="11.5" fill="#111" stroke="#111" stroke-width="0.15">K</text>
<text transform="translate(376.74,1201.9) scale(1.5,1)" text-anchor="middle" font-family="Liberation Mono, monospace" font-weight="bold" font-size="11.5" fill="#111" stroke="#111" stroke-width="0.15">Q</text>
<text transform="translate(386.82,1201.9) scale(1.5,1)" text-anchor="middle" font-family="Liberation Mono, monospace" font-weight="bold" font-size="11.5" fill="#111" stroke="#111" stroke-width="0.15">K</text>
<text transform="translate(396.9,1201.9) scale(1.5,1)" text-anchor="middle" font-family="Liberation Mono, monospace" font-weight="bold" font-size="11.5" fill="#111" stroke="#111" stroke-width="0.15">A</text>
<text transform="translate(296.4,1212.5) scale(1.12,1)" text-anchor="middle" font-family="Liberation Sans, sans-serif" font-size="8.6" fill="#2e7fc4">H</text>
<text transform="translate(306.48,1212.5) scale(1.12,1)" text-anchor="middle" font-family="Liberation Sans, sans-serif" font-size="8.6" fill="#2e7fc4">H</text>
<text transform="translate(316.56,1212.5) scale(1.12,1)" text-anchor="middle" font-family="Liberation Sans, sans-serif" font-size="8.6" fill="#2e7fc4">H</text>
<text transform="translate(326.64,1212.5) scale(1.12,1)" text-anchor="middle" font-family="Liberation Sans, sans-serif" font-size="8.6" fill="#2e7fc4">H</text>
<text transform="translate(336.72,1212.5) scale(1.12,1)" text-anchor="middle" font-family="Liberation Sans, sans-serif" font-size="8.6" fill="#2e7fc4">H</text>
<text transform="translate(356.88,1212.5) scale(1.12,1)" text-anchor="middle" font-family="Liberation Sans, sans-serif" font-size="8.6" fill="#2e7fc4">H</text>
<text transform="translate(366.96,1212.5) scale(1.12,1)" text-anchor="middle" font-family="Liberation Sans, sans-serif" font-size="8.6" fill="#2e7fc4">H</text>
<text transform="translate(377.04,1212.5) scale(1.12,1)" text-anchor="middle" font-family="Liberation Sans, sans-serif" font-size="8.6" fill="#2e7fc4">H</text>
<text transform="translate(387.12,1212.5) scale(1.12,1)" text-anchor="middle" font-family="Liberation Sans, sans-serif" font-size="8.6" fill="#2e7fc4">H</text>
<text transform="translate(397.2,1212.5) scale(1.12,1)" text-anchor="middle" font-family="Liberation Sans, sans-serif" font-size="8.6" fill="#2e7fc4">H</text>
<text transform="translate(279,1198.5) scale(1.37,1)" font-family="Liberation Mono, monospace" font-weight="bold" font-size="6.6" fill="#111">41</text>
<text transform="translate(430.3,1201.9) scale(1.5,1)" text-anchor="middle" font-family="Liberation Mono, monospace" font-weight="bold" font-size="11.5" fill="#111" stroke="#111" stroke-width="0.15">A</text>
<text transform="translate(440.38,1201.9) scale(1.5,1)" text-anchor="middle" font-family="Liberation Mono, monospace" font-weight="bold" font-size="11.5" fill="#111" stroke="#111" stroke-width="0.15">N</text>
<text transform="translate(450.46,1201.9) scale(1.5,1)" text-anchor="middle" font-family="Liberation Mono, monospace" font-weight="bold" font-size="11.5" fill="#111" stroke="#111" stroke-width="0.15">E</text>
<text transform="translate(460.54,1201.9) scale(1.5,1)" text-anchor="middle" font-family="Liberation Mono, monospace" font-weight="bold" font-size="11.5" fill="#111" stroke="#111" stroke-width="0.15">K</text>
<text transform="translate(470.62,1201.9) scale(1.5,1)" text-anchor="middle" font-family="Liberation Mono, monospace" font-weight="bold" font-size="11.5" fill="#111" stroke="#111" stroke-width="0.15">K</text>
<text transform="translate(490.78,1201.9) scale(1.5,1)" text-anchor="middle" font-family="Liberation Mono, monospace" font-weight="bold" font-size="11.5" fill="#111" stroke="#111" stroke-width="0.15">S</text>
<text transform="translate(500.86,1201.9) scale(1.5,1)" text-anchor="middle" font-family="Liberation Mono, monospace" font-weight="bold" font-size="11.5" fill="#111" stroke="#111" stroke-width="0.15">M</text>
<text transform="translate(510.94,1201.9) scale(1.5,1)" text-anchor="middle" font-family="Liberation Mono, monospace" font-weight="bold" font-size="11.5" fill="#111" stroke="#111" stroke-width="0.15">Q</text>
<text transform="translate(521.02,1201.9) scale(1.5,1)" text-anchor="middle" font-family="Liberation Mono, monospace" font-weight="bold" font-size="11.5" fill="#111" stroke="#111" stroke-width="0.15">T</text>
<text transform="translate(531.1,1201.9) scale(1.5,1)" text-anchor="middle" font-family="Liberation Mono, monospace" font-weight="bold" font-size="11.5" fill="#111" stroke="#111" stroke-width="0.15">R</text>
<text transform="translate(430.6,1212.5) scale(1.12,1)" text-anchor="middle" font-family="Liberation Sans, sans-serif" font-size="8.6" fill="#2e7fc4">H</text>
<text transform="translate(440.68,1212.5) scale(1.12,1)" text-anchor="middle" font-family="Liberation Sans, sans-serif" font-size="8.6" fill="#222">C</text>
<text transform="translate(450.76,1212.5) scale(1.12,1)" text-anchor="middle" font-family="Liberation Sans, sans-serif" font-size="8.6" fill="#222">C</text>
<text transform="translate(460.84,1212.5) scale(1.12,1)" text-anchor="middle" font-family="Liberation Sans, sans-serif" font-size="8.6" fill="#222">C</text>
<text transform="translate(470.92,1212.5) scale(1.12,1)" text-anchor="middle" font-family="Liberation Sans, sans-serif" font-size="8.6" fill="#222">C</text>
<text transform="translate(491.08,1212.5) scale(1.12,1)" text-anchor="middle" font-family="Liberation Sans, sans-serif" font-size="8.6" fill="#222">C</text>
<text transform="translate(501.16,1212.5) scale(1.12,1)" text-anchor="middle" font-family="Liberation Sans, sans-serif" font-size="8.6" fill="#222">C</text>
<text transform="translate(511.24,1212.5) scale(1.12,1)" text-anchor="middle" font-family="Liberation Sans, sans-serif" font-size="8.6" fill="#222">C</text>
<text transform="translate(521.32,1212.5) scale(1.12,1)" text-anchor="middle" font-family="Liberation Sans, sans-serif" font-size="8.6" fill="#222">C</text>
<text transform="translate(531.4,1212.5) scale(1.12,1)" text-anchor="middle" font-family="Liberation Sans, sans-serif" font-size="8.6" fill="#222">C</text>
<text transform="translate(413.2,1198.5) scale(1.37,1)" font-family="Liberation Mono, monospace" font-weight="bold" font-size="6.6" fill="#111">51</text>
<text transform="translate(564.5,1201.9) scale(1.5,1)" text-anchor="middle" font-family="Liberation Mono, monospace" font-weight="bold" font-size="11.5" fill="#111" stroke="#111" stroke-width="0.15">E</text>
<text transform="translate(574.58,1201.9) scale(1.5,1)" text-anchor="middle" font-family="Liberation Mono, monospace" font-weight="bold" font-size="11.5" fill="#111" stroke="#111" stroke-width="0.15">K</text>
<text transform="translate(564.8,1212.5) scale(1.12,1)" text-anchor="middle" font-family="Liberation Sans, sans-serif" font-size="8.6" fill="#222">C</text>
<text transform="translate(574.88,1212.5) scale(1.12,1)" text-anchor="middle" font-family="Liberation Sans, sans-serif" font-size="8.6" fill="#222">C</text>
<text transform="translate(547.4,1198.5) scale(1.37,1)" font-family="Liberation Mono, monospace" font-weight="bold" font-size="6.6" fill="#111">61</text>
<ellipse cx="172.28" cy="1243.6" rx="3.7" ry="2.7" fill="#000"/>
<ellipse cx="182.36" cy="1243.6" rx="3.7" ry="2.7" fill="#000"/>
<ellipse cx="202.52" cy="1243.6" rx="3.7" ry="2.7" fill="#000"/>
<ellipse cx="222.68" cy="1243.6" rx="3.7" ry="2.7" fill="#000"/>
<ellipse cx="242.84" cy="1243.6" rx="3.7" ry="2.7" fill="#000"/>
<ellipse cx="397.2" cy="1243.6" rx="3.7" ry="2.7" fill="#000"/>
<text x="41.7" y="1168" font-family="Liberation Sans, sans-serif" font-size="11" fill="#1c1c1c" textLength="84.1" lengthAdjust="spacingAndGlyphs">Chemical shift</text>
<text x="43" y="1185.2" font-family="Liberation Sans, sans-serif" font-size="11" fill="#1c1c1c" textLength="82.8" lengthAdjust="spacingAndGlyphs">Intensity drop</text>
<text x="41.7" y="1228.7" font-family="Liberation Sans, sans-serif" font-size="11" fill="#1c1c1c" textLength="84.1" lengthAdjust="spacingAndGlyphs">Chemical shift</text>
<text x="43" y="1245.6" font-family="Liberation Sans, sans-serif" font-size="11" fill="#1c1c1c" textLength="82.8" lengthAdjust="spacingAndGlyphs">Intensity drop</text>
<text transform="translate(4.6,17.0) scale(1.02,1)" font-family="Liberation Sans, sans-serif" font-weight="bold" font-size="27" fill="#231f20">a</text>
<text transform="translate(327.9,21.8) scale(1.2,1)" font-family="Liberation Sans, sans-serif" font-weight="bold" font-size="27" fill="#231f20">b</text>
<text transform="translate(0.6,473.2) scale(1.14,1)" font-family="Liberation Sans, sans-serif" font-weight="bold" font-size="27" fill="#231f20">c</text>
<text transform="translate(0.0,811.8) scale(1.22,1)" font-family="Liberation Sans, sans-serif" font-weight="bold" font-size="27" fill="#231f20">d</text>
<text transform="translate(-1.2,1131.6) scale(1.25,1)" font-family="Liberation Sans, sans-serif" font-weight="bold" font-size="27" fill="#231f20">e</text>
</g>
</svg>
</body></html>
